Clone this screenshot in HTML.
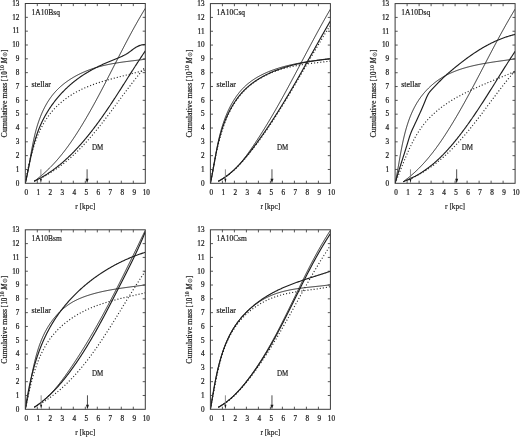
<!DOCTYPE html>
<html><head><meta charset="utf-8"><title>Cumulative mass profiles</title>
<style>
html,body{margin:0;padding:0;background:#fff;}
body{width:520px;height:437px;overflow:hidden;font-family:"Liberation Serif",serif;}
svg{display:block;will-change:transform;filter:blur(0.4px);}
</style></head><body>
<svg width="520" height="437" viewBox="0 0 520 437" font-family="'Liberation Serif', serif">
<clipPath id="c1"><rect x="25.30" y="3.50" width="120.00" height="179.80"/></clipPath>
<g clip-path="url(#c1)">
<path d="M25.30,183.30 L25.40,182.73 L25.51,182.15 L25.61,181.57 L25.71,180.99 L25.81,180.41 L25.92,179.83 L26.02,179.25 L26.13,178.66 L26.23,178.08 L26.34,177.49 L26.45,176.91 L26.56,176.32 L26.67,175.73 L26.78,175.14 L26.89,174.55 L27.01,173.96 L27.12,173.37 L27.24,172.77 L27.35,172.18 L27.47,171.59 L27.59,170.99 L27.71,170.39 L27.83,169.80 L27.95,169.20 L28.07,168.60 L28.20,168.01 L28.32,167.41 L28.45,166.81 L28.58,166.21 L28.71,165.61 L28.84,165.01 L28.97,164.41 L29.11,163.81 L29.24,163.21 L29.38,162.61 L29.52,162.01 L29.66,161.41 L29.80,160.81 L29.94,160.21 L30.09,159.61 L30.23,159.01 L30.38,158.41 L30.53,157.81 L30.68,157.21 L30.84,156.61 L30.99,156.01 L31.15,155.42 L31.31,154.82 L31.47,154.22 L31.63,153.62 L31.79,153.02 L31.96,152.43 L32.13,151.83 L32.30,151.24 L32.47,150.64 L32.64,150.05 L32.82,149.45 L33.00,148.86 L33.18,148.27 L33.36,147.68 L33.55,147.09 L33.73,146.50 L33.92,145.91 L34.11,145.32 L34.30,144.73 L34.50,144.15 L34.70,143.56 L34.90,142.98 L35.10,142.40 L35.31,141.82 L35.51,141.24 L35.72,140.66 L35.93,140.08 L36.15,139.50 L36.37,138.93 L36.58,138.35 L36.81,137.78 L37.03,137.21 L37.26,136.64 L37.49,136.08 L37.72,135.51 L37.96,134.94 L38.19,134.38 L38.43,133.82 L38.68,133.26 L38.92,132.70 L39.17,132.15 L39.42,131.59 L39.68,131.04 L39.93,130.49 L40.19,129.94 L40.46,129.40 L40.72,128.85 L40.99,128.31 L41.26,127.77 L41.54,127.23 L41.82,126.70 L42.10,126.16 L42.38,125.63 L42.67,125.10 L42.96,124.58 L43.25,124.05 L43.55,123.53 L43.85,123.01 L44.15,122.49 L44.46,121.98 L44.77,121.47 L45.08,120.96 L45.40,120.45 L45.72,119.95 L46.04,119.44 L46.37,118.94 L46.70,118.45 L47.03,117.96 L47.37,117.46 L47.71,116.98 L48.05,116.49 L48.40,116.01 L48.75,115.53 L49.10,115.06 L49.46,114.58 L49.82,114.11 L50.19,113.65 L50.56,113.18 L50.93,112.72 L51.31,112.27 L51.69,111.81 L52.07,111.36 L52.46,110.91 L52.85,110.47 L53.24,110.03 L53.64,109.59 L54.04,109.15 L54.45,108.72 L54.85,108.29 L55.26,107.86 L55.68,107.44 L56.10,107.02 L56.52,106.60 L56.94,106.19 L57.37,105.78 L57.80,105.37 L58.23,104.97 L58.67,104.56 L59.11,104.16 L59.55,103.77 L60.00,103.38 L60.44,102.99 L60.90,102.60 L61.35,102.22 L61.81,101.84 L62.27,101.46 L62.73,101.08 L63.20,100.71 L63.67,100.34 L64.14,99.98 L64.61,99.62 L65.09,99.26 L65.57,98.90 L66.05,98.55 L66.54,98.20 L67.03,97.85 L67.52,97.51 L68.01,97.16 L68.51,96.83 L69.01,96.49 L69.51,96.16 L70.01,95.83 L70.52,95.50 L71.03,95.18 L71.54,94.86 L72.05,94.54 L72.56,94.23 L73.08,93.92 L73.60,93.61 L74.12,93.30 L74.65,93.00 L75.18,92.70 L75.71,92.40 L76.24,92.11 L76.77,91.82 L77.31,91.53 L77.84,91.25 L78.38,90.97 L78.92,90.69 L79.47,90.41 L80.01,90.14 L80.56,89.87 L81.11,89.60 L81.66,89.34 L82.22,89.08 L82.77,88.82 L83.33,88.56 L83.89,88.31 L84.45,88.06 L85.01,87.81 L85.57,87.57 L86.14,87.33 L86.71,87.09 L87.28,86.85 L87.85,86.62 L88.42,86.38 L88.99,86.16 L89.57,85.93 L90.14,85.70 L90.72,85.48 L91.30,85.26 L91.88,85.05 L92.46,84.83 L93.04,84.62 L93.62,84.41 L94.21,84.20 L94.79,83.99 L95.38,83.79 L95.97,83.58 L96.56,83.38 L97.15,83.19 L97.74,82.99 L98.33,82.79 L98.92,82.60 L99.51,82.41 L100.11,82.22 L100.70,82.03 L101.30,81.85 L101.89,81.66 L102.49,81.48 L103.09,81.30 L103.69,81.12 L104.28,80.94 L104.88,80.76 L105.48,80.59 L106.08,80.42 L106.68,80.24 L107.28,80.07 L107.88,79.90 L108.48,79.73 L109.08,79.56 L109.69,79.40 L110.29,79.23 L110.89,79.07 L111.49,78.90 L112.09,78.74 L112.69,78.58 L113.30,78.42 L113.90,78.26 L114.50,78.10 L115.10,77.94 L115.70,77.79 L116.30,77.63 L116.90,77.47 L117.50,77.32 L118.10,77.16 L118.70,77.01 L119.30,76.86 L119.90,76.70 L120.50,76.55 L121.10,76.40 L121.70,76.25 L122.29,76.10 L122.89,75.95 L123.49,75.79 L124.08,75.64 L124.68,75.49 L125.27,75.34 L125.86,75.19 L126.45,75.04 L127.05,74.89 L127.64,74.74 L128.22,74.59 L128.81,74.44 L129.40,74.29 L129.99,74.14 L130.57,73.99 L131.16,73.84 L131.74,73.69 L132.32,73.54 L132.90,73.39 L133.48,73.24 L134.06,73.08 L134.64,72.93 L135.21,72.78 L135.79,72.62 L136.36,72.47 L136.93,72.31 L137.50,72.16 L138.07,72.00 L138.64,71.84 L139.20,71.69 L139.76,71.53 L140.33,71.37 L140.89,71.21 L141.44,71.05 L142.00,70.88 L142.56,70.72 L143.11,70.56 L143.66,70.39 L144.21,70.22 L144.75,70.06 L145.30,69.89" stroke="#2a2a2a" stroke-width="1.15" fill="none" stroke-dasharray="1.1 2.0"/>
<path d="M34.18,181.23 L34.69,181.01 L35.20,180.79 L35.70,180.57 L36.21,180.34 L36.71,180.11 L37.21,179.88 L37.71,179.65 L38.21,179.42 L38.70,179.18 L39.20,178.94 L39.69,178.70 L40.18,178.46 L40.67,178.22 L41.16,177.97 L41.65,177.73 L42.13,177.48 L42.62,177.23 L43.10,176.97 L43.58,176.72 L44.06,176.46 L44.53,176.20 L45.01,175.94 L45.49,175.68 L45.96,175.41 L46.43,175.15 L46.90,174.88 L47.37,174.61 L47.83,174.34 L48.30,174.06 L48.76,173.79 L49.23,173.51 L49.69,173.23 L50.15,172.95 L50.61,172.67 L51.06,172.38 L51.52,172.10 L51.97,171.81 L52.42,171.52 L52.88,171.23 L53.33,170.93 L53.77,170.64 L54.22,170.34 L54.67,170.05 L55.11,169.75 L55.55,169.44 L56.00,169.14 L56.44,168.84 L56.88,168.53 L57.31,168.22 L57.75,167.91 L58.19,167.60 L58.62,167.29 L59.05,166.98 L59.48,166.66 L59.91,166.34 L60.34,166.02 L60.77,165.70 L61.20,165.38 L61.62,165.06 L62.04,164.73 L62.47,164.41 L62.89,164.08 L63.31,163.75 L63.73,163.42 L64.15,163.09 L64.56,162.75 L64.98,162.42 L65.39,162.08 L65.80,161.74 L66.22,161.40 L66.63,161.06 L67.04,160.72 L67.45,160.38 L67.85,160.03 L68.26,159.69 L68.66,159.34 L69.07,158.99 L69.47,158.64 L69.87,158.29 L70.27,157.94 L70.67,157.58 L71.07,157.23 L71.47,156.87 L71.87,156.51 L72.26,156.15 L72.66,155.79 L73.05,155.43 L73.44,155.07 L73.83,154.70 L74.22,154.34 L74.61,153.97 L75.00,153.60 L75.39,153.24 L75.78,152.87 L76.16,152.49 L76.55,152.12 L76.93,151.75 L77.31,151.37 L77.69,151.00 L78.07,150.62 L78.45,150.24 L78.83,149.86 L79.21,149.48 L79.59,149.10 L79.96,148.72 L80.34,148.34 L80.71,147.95 L81.09,147.57 L81.46,147.18 L81.83,146.79 L82.20,146.41 L82.57,146.02 L82.94,145.63 L83.31,145.23 L83.68,144.84 L84.04,144.45 L84.41,144.06 L84.78,143.66 L85.14,143.26 L85.50,142.87 L85.87,142.47 L86.23,142.07 L86.59,141.67 L86.95,141.27 L87.31,140.87 L87.67,140.47 L88.03,140.07 L88.39,139.66 L88.74,139.26 L89.10,138.85 L89.45,138.45 L89.81,138.04 L90.16,137.63 L90.52,137.22 L90.87,136.81 L91.22,136.40 L91.57,135.99 L91.92,135.58 L92.28,135.17 L92.62,134.76 L92.97,134.34 L93.32,133.93 L93.67,133.51 L94.02,133.10 L94.36,132.68 L94.71,132.26 L95.05,131.85 L95.40,131.43 L95.74,131.01 L96.09,130.59 L96.43,130.17 L96.77,129.75 L97.12,129.33 L97.46,128.91 L97.80,128.48 L98.14,128.06 L98.48,127.64 L98.82,127.21 L99.16,126.79 L99.50,126.36 L99.83,125.94 L100.17,125.51 L100.51,125.09 L100.85,124.66 L101.18,124.23 L101.52,123.80 L101.85,123.37 L102.19,122.95 L102.52,122.52 L102.86,122.09 L103.19,121.66 L103.52,121.23 L103.86,120.80 L104.19,120.37 L104.52,119.93 L104.85,119.50 L105.18,119.07 L105.52,118.64 L105.85,118.20 L106.18,117.77 L106.51,117.34 L106.84,116.90 L107.17,116.47 L107.50,116.04 L107.83,115.60 L108.15,115.17 L108.48,114.73 L108.81,114.30 L109.14,113.86 L109.47,113.42 L109.79,112.99 L110.12,112.55 L110.45,112.12 L110.77,111.68 L111.10,111.24 L111.43,110.81 L111.75,110.37 L112.08,109.93 L112.40,109.49 L112.73,109.06 L113.05,108.62 L113.38,108.18 L113.70,107.75 L114.03,107.31 L114.35,106.87 L114.68,106.43 L115.00,105.99 L115.33,105.56 L115.65,105.12 L115.98,104.68 L116.30,104.24 L116.62,103.80 L116.95,103.37 L117.27,102.93 L117.59,102.49 L117.92,102.05 L118.24,101.62 L118.56,101.18 L118.89,100.74 L119.21,100.30 L119.53,99.86 L119.86,99.43 L120.18,98.99 L120.50,98.55 L120.83,98.12 L121.15,97.68 L121.47,97.24 L121.80,96.81 L122.12,96.37 L122.45,95.93 L122.77,95.50 L123.09,95.06 L123.42,94.63 L123.74,94.19 L124.06,93.76 L124.39,93.32 L124.71,92.89 L125.04,92.45 L125.36,92.02 L125.68,91.58 L126.01,91.15 L126.33,90.72 L126.66,90.28 L126.98,89.85 L127.31,89.42 L127.63,88.99 L127.96,88.56 L128.28,88.13 L128.61,87.69 L128.94,87.26 L129.26,86.83 L129.59,86.40 L129.91,85.98 L130.24,85.55 L130.57,85.12 L130.90,84.69 L131.22,84.26 L131.55,83.84 L131.88,83.41 L132.21,82.98 L132.54,82.56 L132.86,82.13 L133.19,81.71 L133.52,81.28 L133.85,80.86 L134.18,80.44 L134.51,80.01 L134.84,79.59 L135.17,79.17 L135.51,78.75 L135.84,78.33 L136.17,77.91 L136.50,77.49 L136.84,77.07 L137.17,76.66 L137.50,76.24 L137.84,75.82 L138.17,75.41 L138.50,74.99 L138.84,74.58 L139.18,74.16 L139.51,73.75 L139.85,73.34 L140.19,72.93 L140.52,72.52 L140.86,72.11 L141.20,71.70 L141.54,71.29 L141.88,70.88 L142.22,70.47 L142.56,70.07 L142.90,69.66 L143.24,69.26 L143.58,68.85 L143.92,68.45 L144.27,68.05 L144.61,67.65 L144.95,67.25 L145.30,66.85" stroke="#2a2a2a" stroke-width="1.15" fill="none" stroke-dasharray="1.1 2.0"/>
<path d="M25.30,183.30 L25.45,182.68 L25.60,182.06 L25.75,181.44 L25.90,180.82 L26.04,180.19 L26.19,179.57 L26.33,178.94 L26.47,178.31 L26.60,177.69 L26.74,177.06 L26.87,176.43 L27.01,175.80 L27.14,175.16 L27.27,174.53 L27.40,173.90 L27.52,173.26 L27.65,172.63 L27.77,171.99 L27.89,171.35 L28.02,170.71 L28.14,170.07 L28.26,169.43 L28.38,168.79 L28.49,168.15 L28.61,167.51 L28.73,166.87 L28.84,166.22 L28.96,165.58 L29.07,164.93 L29.19,164.29 L29.30,163.64 L29.41,163.00 L29.53,162.35 L29.64,161.70 L29.75,161.05 L29.86,160.41 L29.98,159.76 L30.09,159.11 L30.20,158.46 L30.31,157.81 L30.42,157.16 L30.54,156.51 L30.65,155.86 L30.76,155.21 L30.88,154.56 L30.99,153.91 L31.11,153.26 L31.22,152.61 L31.34,151.95 L31.45,151.30 L31.57,150.65 L31.69,150.00 L31.81,149.35 L31.93,148.70 L32.05,148.05 L32.17,147.40 L32.29,146.75 L32.42,146.10 L32.54,145.44 L32.67,144.79 L32.79,144.14 L32.92,143.49 L33.05,142.85 L33.19,142.20 L33.32,141.55 L33.46,140.90 L33.59,140.25 L33.73,139.60 L33.87,138.95 L34.02,138.31 L34.16,137.66 L34.31,137.02 L34.46,136.37 L34.61,135.73 L34.76,135.08 L34.92,134.44 L35.07,133.79 L35.23,133.15 L35.40,132.51 L35.56,131.87 L35.73,131.23 L35.90,130.59 L36.07,129.95 L36.25,129.31 L36.42,128.68 L36.61,128.04 L36.79,127.40 L36.98,126.77 L37.17,126.14 L37.36,125.50 L37.56,124.87 L37.75,124.24 L37.96,123.61 L38.16,122.98 L38.37,122.36 L38.58,121.73 L38.80,121.11 L39.02,120.49 L39.24,119.87 L39.46,119.25 L39.69,118.63 L39.92,118.01 L40.16,117.40 L40.39,116.79 L40.64,116.18 L40.88,115.57 L41.13,114.96 L41.38,114.36 L41.64,113.75 L41.90,113.15 L42.16,112.55 L42.43,111.96 L42.70,111.36 L42.97,110.77 L43.25,110.18 L43.53,109.60 L43.82,109.01 L44.11,108.43 L44.40,107.85 L44.70,107.28 L45.00,106.70 L45.31,106.13 L45.61,105.56 L45.93,105.00 L46.25,104.43 L46.57,103.87 L46.89,103.32 L47.22,102.76 L47.56,102.21 L47.89,101.67 L48.24,101.12 L48.58,100.58 L48.93,100.05 L49.29,99.51 L49.65,98.98 L50.01,98.45 L50.38,97.93 L50.75,97.41 L51.13,96.90 L51.51,96.38 L51.90,95.87 L52.29,95.37 L52.69,94.87 L53.09,94.37 L53.49,93.88 L53.90,93.39 L54.32,92.91 L54.74,92.42 L55.16,91.95 L55.59,91.48 L56.02,91.01 L56.46,90.54 L56.90,90.08 L57.35,89.63 L57.80,89.18 L58.26,88.73 L58.72,88.28 L59.18,87.85 L59.65,87.41 L60.12,86.98 L60.60,86.55 L61.08,86.13 L61.56,85.71 L62.05,85.29 L62.55,84.88 L63.04,84.47 L63.54,84.07 L64.05,83.67 L64.55,83.28 L65.07,82.88 L65.58,82.50 L66.10,82.11 L66.62,81.73 L67.15,81.36 L67.68,80.99 L68.21,80.62 L68.75,80.25 L69.29,79.89 L69.83,79.54 L70.38,79.18 L70.92,78.84 L71.48,78.49 L72.03,78.15 L72.59,77.81 L73.15,77.48 L73.72,77.15 L74.28,76.82 L74.85,76.50 L75.42,76.18 L76.00,75.87 L76.58,75.56 L77.16,75.25 L77.74,74.95 L78.33,74.65 L78.92,74.35 L79.51,74.06 L80.10,73.77 L80.69,73.49 L81.29,73.21 L81.89,72.93 L82.49,72.66 L83.10,72.39 L83.70,72.12 L84.31,71.86 L84.92,71.60 L85.53,71.34 L86.15,71.09 L86.76,70.84 L87.38,70.60 L88.00,70.36 L88.62,70.12 L89.25,69.89 L89.87,69.65 L90.50,69.43 L91.12,69.20 L91.75,68.99 L92.38,68.77 L93.01,68.56 L93.65,68.35 L94.28,68.14 L94.92,67.94 L95.55,67.74 L96.19,67.54 L96.83,67.35 L97.47,67.16 L98.11,66.98 L98.75,66.80 L99.39,66.62 L100.04,66.45 L100.68,66.27 L101.32,66.11 L101.97,65.94 L102.62,65.78 L103.26,65.62 L103.91,65.47 L104.56,65.31 L105.21,65.16 L105.86,65.02 L106.51,64.87 L107.16,64.73 L107.81,64.60 L108.46,64.46 L109.11,64.33 L109.76,64.20 L110.41,64.07 L111.06,63.95 L111.72,63.82 L112.37,63.70 L113.02,63.58 L113.68,63.47 L114.33,63.35 L114.98,63.24 L115.64,63.13 L116.29,63.03 L116.94,62.92 L117.60,62.82 L118.25,62.71 L118.90,62.61 L119.56,62.51 L120.21,62.42 L120.86,62.32 L121.52,62.23 L122.17,62.13 L122.82,62.04 L123.48,61.95 L124.13,61.86 L124.78,61.78 L125.43,61.69 L126.08,61.61 L126.73,61.52 L127.38,61.44 L128.03,61.35 L128.68,61.27 L129.33,61.19 L129.98,61.11 L130.63,61.03 L131.27,60.95 L131.92,60.87 L132.57,60.80 L133.21,60.72 L133.86,60.64 L134.50,60.56 L135.14,60.49 L135.78,60.41 L136.43,60.33 L137.07,60.26 L137.71,60.18 L138.34,60.10 L138.98,60.03 L139.62,59.95 L140.25,59.87 L140.89,59.80 L141.52,59.72 L142.15,59.64 L142.79,59.56 L143.42,59.48 L144.04,59.40 L144.67,59.32 L145.30,59.24" stroke="#161616" stroke-width="0.92" fill="none"/>
<path d="M34.18,181.23 L34.75,180.81 L35.32,180.39 L35.88,179.96 L36.44,179.54 L37.00,179.11 L37.56,178.68 L38.11,178.25 L38.66,177.81 L39.21,177.37 L39.75,176.93 L40.29,176.49 L40.83,176.04 L41.36,175.59 L41.89,175.14 L42.42,174.69 L42.95,174.23 L43.47,173.77 L43.99,173.31 L44.51,172.85 L45.03,172.38 L45.54,171.92 L46.05,171.45 L46.56,170.97 L47.06,170.50 L47.56,170.02 L48.06,169.54 L48.56,169.06 L49.05,168.58 L49.54,168.09 L50.03,167.61 L50.52,167.12 L51.00,166.62 L51.49,166.13 L51.96,165.64 L52.44,165.14 L52.92,164.64 L53.39,164.14 L53.86,163.63 L54.33,163.13 L54.79,162.62 L55.25,162.11 L55.71,161.60 L56.17,161.09 L56.63,160.57 L57.08,160.05 L57.53,159.54 L57.98,159.02 L58.43,158.49 L58.88,157.97 L59.32,157.44 L59.76,156.92 L60.20,156.39 L60.64,155.86 L61.07,155.32 L61.51,154.79 L61.94,154.26 L62.37,153.72 L62.79,153.18 L63.22,152.64 L63.64,152.10 L64.07,151.56 L64.49,151.01 L64.90,150.46 L65.32,149.92 L65.74,149.37 L66.15,148.82 L66.56,148.27 L66.97,147.71 L67.38,147.16 L67.78,146.60 L68.19,146.05 L68.59,145.49 L68.99,144.93 L69.39,144.37 L69.79,143.81 L70.19,143.24 L70.58,142.68 L70.98,142.11 L71.37,141.55 L71.76,140.98 L72.15,140.41 L72.54,139.84 L72.92,139.27 L73.31,138.70 L73.69,138.13 L74.07,137.55 L74.46,136.98 L74.84,136.40 L75.22,135.83 L75.59,135.25 L75.97,134.67 L76.34,134.09 L76.72,133.51 L77.09,132.93 L77.46,132.35 L77.83,131.76 L78.20,131.18 L78.57,130.60 L78.94,130.01 L79.31,129.43 L79.67,128.84 L80.04,128.25 L80.40,127.67 L80.76,127.08 L81.12,126.49 L81.49,125.90 L81.85,125.31 L82.20,124.72 L82.56,124.13 L82.92,123.54 L83.28,122.94 L83.63,122.35 L83.99,121.76 L84.34,121.16 L84.69,120.57 L85.05,119.97 L85.40,119.38 L85.75,118.78 L86.10,118.18 L86.45,117.59 L86.80,116.99 L87.14,116.39 L87.49,115.79 L87.84,115.19 L88.18,114.59 L88.52,113.99 L88.87,113.39 L89.21,112.79 L89.55,112.18 L89.90,111.58 L90.24,110.98 L90.58,110.38 L90.92,109.77 L91.26,109.17 L91.59,108.56 L91.93,107.96 L92.27,107.35 L92.60,106.75 L92.94,106.14 L93.28,105.53 L93.61,104.93 L93.94,104.32 L94.28,103.71 L94.61,103.10 L94.94,102.49 L95.28,101.88 L95.61,101.27 L95.94,100.66 L96.27,100.05 L96.60,99.44 L96.93,98.83 L97.25,98.22 L97.58,97.61 L97.91,97.00 L98.24,96.39 L98.57,95.77 L98.89,95.16 L99.22,94.55 L99.54,93.93 L99.87,93.32 L100.19,92.71 L100.52,92.09 L100.84,91.48 L101.16,90.86 L101.49,90.25 L101.81,89.63 L102.13,89.02 L102.46,88.40 L102.78,87.79 L103.10,87.17 L103.42,86.56 L103.74,85.94 L104.06,85.32 L104.38,84.71 L104.70,84.09 L105.02,83.47 L105.34,82.85 L105.66,82.24 L105.98,81.62 L106.30,81.00 L106.62,80.38 L106.94,79.77 L107.25,79.15 L107.57,78.53 L107.89,77.91 L108.21,77.29 L108.52,76.67 L108.84,76.06 L109.16,75.44 L109.48,74.82 L109.79,74.20 L110.11,73.58 L110.43,72.96 L110.74,72.34 L111.06,71.72 L111.38,71.10 L111.69,70.48 L112.01,69.87 L112.33,69.25 L112.64,68.63 L112.96,68.01 L113.27,67.39 L113.59,66.77 L113.91,66.15 L114.22,65.53 L114.54,64.91 L114.85,64.29 L115.17,63.67 L115.49,63.05 L115.80,62.44 L116.12,61.82 L116.44,61.20 L116.75,60.58 L117.07,59.96 L117.39,59.34 L117.70,58.72 L118.02,58.10 L118.34,57.49 L118.65,56.87 L118.97,56.25 L119.29,55.63 L119.61,55.01 L119.92,54.40 L120.24,53.78 L120.56,53.16 L120.88,52.54 L121.20,51.93 L121.52,51.31 L121.84,50.69 L122.16,50.08 L122.48,49.46 L122.79,48.84 L123.12,48.23 L123.44,47.61 L123.76,47.00 L124.08,46.38 L124.40,45.77 L124.72,45.15 L125.04,44.54 L125.36,43.92 L125.69,43.31 L126.01,42.69 L126.33,42.08 L126.66,41.47 L126.98,40.85 L127.31,40.24 L127.63,39.63 L127.96,39.02 L128.28,38.40 L128.61,37.79 L128.93,37.18 L129.26,36.57 L129.59,35.96 L129.92,35.35 L130.24,34.74 L130.57,34.13 L130.90,33.52 L131.23,32.91 L131.56,32.30 L131.89,31.70 L132.22,31.09 L132.56,30.48 L132.89,29.87 L133.22,29.27 L133.56,28.66 L133.89,28.05 L134.22,27.45 L134.56,26.84 L134.90,26.24 L135.23,25.64 L135.57,25.03 L135.91,24.43 L136.25,23.83 L136.59,23.22 L136.93,22.62 L137.27,22.02 L137.61,21.42 L137.95,20.82 L138.29,20.22 L138.63,19.62 L138.98,19.02 L139.32,18.43 L139.67,17.83 L140.01,17.23 L140.36,16.63 L140.71,16.04 L141.06,15.44 L141.41,14.85 L141.76,14.25 L142.11,13.66 L142.46,13.07 L142.81,12.47 L143.16,11.88 L143.52,11.29 L143.87,10.70 L144.23,10.11 L144.59,9.52 L144.94,8.93 L145.30,8.34" stroke="#161616" stroke-width="0.92" fill="none"/>
<path d="M25.30,183.30 L25.44,182.67 L25.59,182.03 L25.73,181.40 L25.87,180.76 L26.01,180.13 L26.15,179.49 L26.29,178.85 L26.42,178.21 L26.56,177.57 L26.70,176.93 L26.83,176.29 L26.97,175.65 L27.10,175.01 L27.23,174.37 L27.37,173.73 L27.50,173.08 L27.63,172.44 L27.76,171.79 L27.89,171.15 L28.03,170.51 L28.16,169.86 L28.29,169.21 L28.42,168.57 L28.55,167.92 L28.68,167.28 L28.81,166.63 L28.95,165.98 L29.08,165.33 L29.21,164.69 L29.34,164.04 L29.48,163.39 L29.61,162.75 L29.74,162.10 L29.88,161.45 L30.01,160.80 L30.15,160.16 L30.29,159.51 L30.42,158.86 L30.56,158.21 L30.70,157.57 L30.84,156.92 L30.98,156.27 L31.13,155.63 L31.27,154.98 L31.42,154.34 L31.56,153.69 L31.71,153.05 L31.86,152.40 L32.01,151.76 L32.16,151.11 L32.31,150.47 L32.47,149.83 L32.63,149.18 L32.78,148.54 L32.95,147.90 L33.11,147.26 L33.27,146.62 L33.44,145.98 L33.61,145.34 L33.78,144.71 L33.95,144.07 L34.12,143.43 L34.30,142.80 L34.48,142.16 L34.66,141.53 L34.84,140.90 L35.03,140.26 L35.22,139.63 L35.41,139.00 L35.60,138.37 L35.80,137.74 L36.00,137.12 L36.20,136.49 L36.40,135.87 L36.61,135.24 L36.82,134.62 L37.04,134.00 L37.25,133.38 L37.47,132.76 L37.70,132.14 L37.92,131.52 L38.15,130.91 L38.38,130.29 L38.62,129.68 L38.86,129.07 L39.10,128.46 L39.35,127.85 L39.60,127.25 L39.85,126.64 L40.11,126.04 L40.37,125.44 L40.64,124.83 L40.91,124.24 L41.18,123.64 L41.45,123.04 L41.73,122.45 L42.01,121.86 L42.30,121.26 L42.59,120.68 L42.88,120.09 L43.18,119.50 L43.48,118.92 L43.78,118.33 L44.09,117.75 L44.40,117.17 L44.71,116.60 L45.03,116.02 L45.35,115.45 L45.67,114.88 L46.00,114.31 L46.33,113.74 L46.66,113.17 L47.00,112.61 L47.34,112.04 L47.68,111.48 L48.02,110.93 L48.37,110.37 L48.73,109.81 L49.08,109.26 L49.44,108.71 L49.80,108.16 L50.17,107.62 L50.53,107.07 L50.91,106.53 L51.28,105.99 L51.66,105.45 L52.04,104.91 L52.42,104.38 L52.81,103.85 L53.20,103.32 L53.59,102.79 L53.99,102.26 L54.38,101.74 L54.79,101.22 L55.19,100.70 L55.60,100.18 L56.01,99.67 L56.42,99.16 L56.84,98.65 L57.26,98.14 L57.68,97.64 L58.10,97.13 L58.53,96.63 L58.96,96.13 L59.39,95.64 L59.83,95.15 L60.27,94.66 L60.71,94.17 L61.15,93.68 L61.60,93.20 L62.05,92.72 L62.50,92.24 L62.96,91.76 L63.41,91.29 L63.87,90.82 L64.34,90.35 L64.80,89.89 L65.27,89.42 L65.74,88.96 L66.22,88.51 L66.69,88.05 L67.17,87.60 L67.65,87.15 L68.14,86.70 L68.62,86.26 L69.11,85.82 L69.60,85.38 L70.10,84.94 L70.59,84.51 L71.09,84.08 L71.59,83.65 L72.09,83.23 L72.60,82.81 L73.11,82.39 L73.62,81.97 L74.13,81.56 L74.65,81.15 L75.17,80.74 L75.69,80.34 L76.21,79.94 L76.73,79.54 L77.26,79.15 L77.79,78.75 L78.32,78.36 L78.85,77.98 L79.39,77.60 L79.93,77.22 L80.47,76.84 L81.01,76.47 L81.56,76.10 L82.10,75.73 L82.65,75.36 L83.20,75.00 L83.75,74.64 L84.31,74.29 L84.87,73.94 L85.43,73.59 L85.99,73.24 L86.55,72.90 L87.11,72.56 L87.68,72.22 L88.25,71.89 L88.82,71.56 L89.39,71.23 L89.96,70.90 L90.54,70.58 L91.11,70.26 L91.69,69.94 L92.27,69.62 L92.85,69.31 L93.44,69.00 L94.02,68.69 L94.60,68.39 L95.19,68.08 L95.78,67.78 L96.37,67.48 L96.96,67.19 L97.55,66.89 L98.14,66.60 L98.73,66.31 L99.33,66.03 L99.93,65.74 L100.52,65.46 L101.12,65.18 L101.72,64.90 L102.32,64.62 L102.92,64.35 L103.52,64.07 L104.12,63.80 L104.72,63.53 L105.33,63.27 L105.93,63.00 L106.53,62.74 L107.14,62.48 L107.74,62.22 L108.35,61.96 L108.96,61.70 L109.56,61.45 L110.17,61.19 L110.78,60.94 L111.39,60.69 L111.99,60.44 L112.60,60.19 L113.21,59.94 L113.82,59.69 L114.43,59.44 L115.04,59.20 L115.64,58.95 L116.25,58.70 L116.86,58.45 L117.46,58.20 L118.07,57.95 L118.68,57.70 L119.28,57.45 L119.89,57.20 L120.49,56.94 L121.09,56.68 L121.69,56.42 L122.28,56.15 L122.87,55.87 L123.46,55.59 L124.05,55.31 L124.63,55.01 L125.20,54.71 L125.77,54.40 L126.34,54.07 L126.89,53.74 L127.44,53.40 L127.99,53.04 L128.53,52.67 L129.06,52.29 L129.58,51.91 L130.11,51.52 L130.63,51.13 L131.15,50.73 L131.67,50.33 L132.19,49.94 L132.71,49.54 L133.23,49.15 L133.76,48.77 L134.29,48.40 L134.83,48.03 L135.37,47.67 L135.92,47.33 L136.48,47.00 L137.05,46.69 L137.63,46.40 L138.22,46.12 L138.81,45.87 L139.42,45.63 L140.04,45.41 L140.66,45.21 L141.30,45.04 L141.94,44.88 L142.60,44.75 L143.26,44.63 L143.93,44.55 L144.61,44.48 L145.30,44.44" stroke="#1e1e1e" stroke-width="1.15" fill="none"/>
<path d="M34.18,181.22 L34.71,180.97 L35.24,180.71 L35.77,180.45 L36.30,180.19 L36.82,179.92 L37.35,179.65 L37.87,179.38 L38.39,179.11 L38.91,178.83 L39.42,178.56 L39.94,178.28 L40.45,177.99 L40.96,177.71 L41.47,177.42 L41.97,177.13 L42.48,176.84 L42.98,176.55 L43.48,176.25 L43.98,175.95 L44.48,175.65 L44.98,175.35 L45.47,175.04 L45.97,174.74 L46.46,174.43 L46.95,174.12 L47.43,173.80 L47.92,173.49 L48.40,173.17 L48.89,172.85 L49.37,172.53 L49.85,172.20 L50.32,171.88 L50.80,171.55 L51.27,171.22 L51.75,170.89 L52.22,170.55 L52.69,170.21 L53.16,169.88 L53.62,169.54 L54.09,169.19 L54.55,168.85 L55.01,168.51 L55.47,168.16 L55.93,167.81 L56.39,167.46 L56.84,167.10 L57.30,166.75 L57.75,166.39 L58.20,166.03 L58.65,165.67 L59.10,165.31 L59.55,164.95 L59.99,164.58 L60.44,164.21 L60.88,163.84 L61.32,163.47 L61.76,163.10 L62.20,162.73 L62.63,162.35 L63.07,161.98 L63.50,161.60 L63.93,161.22 L64.37,160.83 L64.80,160.45 L65.22,160.07 L65.65,159.68 L66.08,159.29 L66.50,158.90 L66.93,158.51 L67.35,158.12 L67.77,157.72 L68.19,157.33 L68.60,156.93 L69.02,156.53 L69.44,156.13 L69.85,155.73 L70.26,155.33 L70.68,154.93 L71.09,154.52 L71.50,154.12 L71.90,153.71 L72.31,153.30 L72.72,152.89 L73.12,152.48 L73.53,152.07 L73.93,151.65 L74.33,151.24 L74.73,150.82 L75.13,150.41 L75.53,149.99 L75.92,149.57 L76.32,149.15 L76.71,148.73 L77.11,148.30 L77.50,147.88 L77.89,147.45 L78.28,147.03 L78.67,146.60 L79.06,146.17 L79.44,145.74 L79.83,145.31 L80.22,144.88 L80.60,144.45 L80.98,144.02 L81.36,143.58 L81.75,143.15 L82.13,142.71 L82.50,142.28 L82.88,141.84 L83.26,141.40 L83.64,140.96 L84.01,140.52 L84.39,140.08 L84.76,139.64 L85.13,139.20 L85.50,138.75 L85.87,138.31 L86.24,137.86 L86.61,137.42 L86.98,136.97 L87.35,136.52 L87.71,136.07 L88.08,135.62 L88.44,135.17 L88.81,134.72 L89.17,134.27 L89.53,133.81 L89.89,133.36 L90.25,132.91 L90.61,132.45 L90.97,132.00 L91.33,131.54 L91.69,131.08 L92.04,130.62 L92.40,130.16 L92.75,129.71 L93.11,129.25 L93.46,128.78 L93.81,128.32 L94.16,127.86 L94.51,127.40 L94.86,126.93 L95.21,126.47 L95.56,126.00 L95.91,125.54 L96.26,125.07 L96.60,124.61 L96.95,124.14 L97.30,123.67 L97.64,123.20 L97.98,122.73 L98.33,122.26 L98.67,121.79 L99.01,121.32 L99.35,120.85 L99.69,120.38 L100.03,119.90 L100.37,119.43 L100.71,118.96 L101.05,118.48 L101.39,118.01 L101.72,117.53 L102.06,117.06 L102.40,116.58 L102.73,116.10 L103.07,115.63 L103.40,115.15 L103.73,114.67 L104.07,114.19 L104.40,113.71 L104.73,113.23 L105.06,112.75 L105.39,112.27 L105.72,111.79 L106.05,111.31 L106.38,110.83 L106.71,110.35 L107.04,109.86 L107.37,109.38 L107.69,108.90 L108.02,108.41 L108.35,107.93 L108.67,107.44 L109.00,106.96 L109.32,106.48 L109.65,105.99 L109.97,105.50 L110.30,105.02 L110.62,104.53 L110.94,104.05 L111.27,103.56 L111.59,103.07 L111.91,102.58 L112.23,102.10 L112.55,101.61 L112.87,101.12 L113.19,100.63 L113.52,100.14 L113.83,99.65 L114.15,99.16 L114.47,98.68 L114.79,98.19 L115.11,97.70 L115.43,97.21 L115.75,96.72 L116.06,96.23 L116.38,95.74 L116.70,95.24 L117.02,94.75 L117.33,94.26 L117.65,93.77 L117.96,93.28 L118.28,92.79 L118.60,92.30 L118.91,91.81 L119.23,91.31 L119.54,90.82 L119.86,90.33 L120.17,89.84 L120.48,89.35 L120.80,88.86 L121.11,88.36 L121.43,87.87 L121.74,87.38 L122.05,86.89 L122.37,86.40 L122.68,85.90 L122.99,85.41 L123.30,84.92 L123.62,84.43 L123.93,83.93 L124.24,83.44 L124.56,82.95 L124.87,82.46 L125.18,81.97 L125.49,81.47 L125.80,80.98 L126.12,80.49 L126.43,80.00 L126.74,79.51 L127.05,79.02 L127.36,78.53 L127.68,78.03 L127.99,77.54 L128.30,77.05 L128.61,76.56 L128.92,76.07 L129.23,75.58 L129.55,75.09 L129.86,74.60 L130.17,74.11 L130.48,73.62 L130.79,73.13 L131.10,72.64 L131.42,72.15 L131.73,71.66 L132.04,71.17 L132.35,70.68 L132.67,70.20 L132.98,69.71 L133.29,69.22 L133.60,68.73 L133.92,68.24 L134.23,67.76 L134.54,67.27 L134.85,66.78 L135.17,66.30 L135.48,65.81 L135.79,65.33 L136.11,64.84 L136.42,64.36 L136.73,63.87 L137.05,63.39 L137.36,62.90 L137.68,62.42 L137.99,61.94 L138.31,61.45 L138.62,60.97 L138.94,60.49 L139.25,60.01 L139.57,59.53 L139.89,59.05 L140.20,58.56 L140.52,58.08 L140.83,57.61 L141.15,57.13 L141.47,56.65 L141.79,56.17 L142.10,55.69 L142.42,55.21 L142.74,54.74 L143.06,54.26 L143.38,53.79 L143.70,53.31 L144.02,52.84 L144.34,52.36 L144.66,51.89 L144.98,51.41 L145.30,50.94" stroke="#1e1e1e" stroke-width="1.15" fill="none"/>
</g>
<line x1="40.90" y1="169.30" x2="40.90" y2="180.30" stroke="#808080" stroke-width="0.9"/>
<path d="M39.90,178.70 L41.90,178.70 L40.90,183.30 Z" fill="#1a1a1a"/>
<line x1="87.10" y1="169.30" x2="87.10" y2="180.30" stroke="#3c3c3c" stroke-width="0.9"/>
<path d="M85.60,178.70 L88.60,178.70 L87.10,183.30 Z" fill="#1a1a1a"/>
<rect x="25.30" y="3.50" width="120.00" height="179.80" fill="none" stroke="#3a3a3a" stroke-width="1.0"/>
<path d="M25.30,169.47h2.6M145.30,169.47h-2.6M25.30,155.64h2.6M145.30,155.64h-2.6M25.30,141.81h2.6M145.30,141.81h-2.6M25.30,127.98h2.6M145.30,127.98h-2.6M25.30,114.15h2.6M145.30,114.15h-2.6M25.30,100.32h2.6M145.30,100.32h-2.6M25.30,86.48h2.6M145.30,86.48h-2.6M25.30,72.65h2.6M145.30,72.65h-2.6M25.30,58.82h2.6M145.30,58.82h-2.6M25.30,44.99h2.6M145.30,44.99h-2.6M25.30,31.16h2.6M145.30,31.16h-2.6M25.30,17.33h2.6M145.30,17.33h-2.6M37.30,183.30v-2.6M37.30,3.50v2.6M49.30,183.30v-2.6M49.30,3.50v2.6M61.30,183.30v-2.6M61.30,3.50v2.6M73.30,183.30v-2.6M73.30,3.50v2.6M85.30,183.30v-2.6M85.30,3.50v2.6M97.30,183.30v-2.6M97.30,3.50v2.6M109.30,183.30v-2.6M109.30,3.50v2.6M121.30,183.30v-2.6M121.30,3.50v2.6M133.30,183.30v-2.6M133.30,3.50v2.6" stroke="#3a3a3a" stroke-width="0.85" fill="none"/>
<g font-size="7.2" fill="#1a1a1a" stroke="#1a1a1a" stroke-width="0.22"><text x="19.40" y="185.60" text-anchor="end">0</text><text x="19.40" y="171.77" text-anchor="end">1</text><text x="19.40" y="157.94" text-anchor="end">2</text><text x="19.40" y="144.11" text-anchor="end">3</text><text x="19.40" y="130.28" text-anchor="end">4</text><text x="19.40" y="116.45" text-anchor="end">5</text><text x="19.40" y="102.62" text-anchor="end">6</text><text x="19.40" y="88.78" text-anchor="end">7</text><text x="19.40" y="74.95" text-anchor="end">8</text><text x="19.40" y="61.12" text-anchor="end">9</text><text x="19.40" y="47.29" text-anchor="end">10</text><text x="19.40" y="33.46" text-anchor="end">11</text><text x="19.40" y="19.63" text-anchor="end">12</text><text x="19.40" y="5.80" text-anchor="end">13</text><text x="26.30" y="195.00" text-anchor="middle">0</text><text x="38.30" y="195.00" text-anchor="middle">1</text><text x="50.30" y="195.00" text-anchor="middle">2</text><text x="62.30" y="195.00" text-anchor="middle">3</text><text x="74.30" y="195.00" text-anchor="middle">4</text><text x="86.30" y="195.00" text-anchor="middle">5</text><text x="98.30" y="195.00" text-anchor="middle">6</text><text x="110.30" y="195.00" text-anchor="middle">7</text><text x="122.30" y="195.00" text-anchor="middle">8</text><text x="134.30" y="195.00" text-anchor="middle">9</text><text x="146.30" y="195.00" text-anchor="middle">10</text></g>
<text x="75.30" y="209.30" font-size="7.5" textLength="19.8" lengthAdjust="spacingAndGlyphs" fill="#1a1a1a" stroke="#1a1a1a" stroke-width="0.18">r [kpc]</text>
<text transform="translate(6.50,137.40) rotate(-90)" font-size="7.20" textLength="54.8" lengthAdjust="spacingAndGlyphs" fill="#1a1a1a" stroke="#1a1a1a" stroke-width="0.18">Cumulative mass</text>
<text transform="translate(6.50,81.20) rotate(-90)" font-size="7.20"  fill="#1a1a1a" stroke="#1a1a1a" stroke-width="0.18">[</text>
<text transform="translate(6.50,78.30) rotate(-90)" font-size="7.20" textLength="6.9" lengthAdjust="spacingAndGlyphs" fill="#1a1a1a" stroke="#1a1a1a" stroke-width="0.18">10</text>
<text transform="translate(4.00,70.80) rotate(-90)" font-size="5.40" textLength="5.6" lengthAdjust="spacingAndGlyphs" fill="#1a1a1a" stroke="#1a1a1a" stroke-width="0.18">10</text>
<text transform="translate(6.50,63.50) rotate(-90)" font-size="7.20" font-style="italic" textLength="6.0" lengthAdjust="spacingAndGlyphs" fill="#1a1a1a" stroke="#1a1a1a" stroke-width="0.18">M</text>
<circle cx="5.00" cy="54.40" r="1.75" fill="none" stroke="#2a2a2a" stroke-width="0.6"/><circle cx="5.00" cy="54.40" r="0.55" fill="#222"/>
<text transform="translate(6.50,51.90) rotate(-90)" font-size="7.20"  fill="#1a1a1a" stroke="#1a1a1a" stroke-width="0.18">]</text>
<text x="31.50" y="14.60" font-size="7.3" textLength="28.5" lengthAdjust="spacingAndGlyphs" fill="#1a1a1a" stroke="#1a1a1a" stroke-width="0.18">1A10Bsq</text>
<text x="31.50" y="86.50" font-size="7.3" textLength="19.3" lengthAdjust="spacingAndGlyphs" fill="#1a1a1a" stroke="#1a1a1a" stroke-width="0.18">stellar</text>
<text x="91.90" y="149.60" font-size="7.2" textLength="11.3" lengthAdjust="spacingAndGlyphs" fill="#1a1a1a" stroke="#1a1a1a" stroke-width="0.18">DM</text>
<clipPath id="c2"><rect x="210.40" y="3.60" width="120.00" height="179.70"/></clipPath>
<g clip-path="url(#c2)">
<path d="M210.40,183.30 L210.52,182.70 L210.63,182.10 L210.74,181.50 L210.86,180.90 L210.97,180.29 L211.09,179.69 L211.20,179.08 L211.31,178.47 L211.43,177.86 L211.54,177.25 L211.65,176.63 L211.77,176.02 L211.88,175.40 L212.00,174.78 L212.11,174.16 L212.23,173.54 L212.34,172.92 L212.46,172.29 L212.57,171.67 L212.69,171.04 L212.81,170.41 L212.92,169.78 L213.04,169.15 L213.16,168.52 L213.28,167.89 L213.40,167.26 L213.52,166.62 L213.64,165.99 L213.76,165.35 L213.88,164.72 L214.00,164.08 L214.12,163.44 L214.25,162.80 L214.37,162.16 L214.50,161.52 L214.62,160.88 L214.75,160.24 L214.88,159.59 L215.01,158.95 L215.14,158.31 L215.27,157.66 L215.40,157.02 L215.54,156.37 L215.67,155.73 L215.81,155.08 L215.94,154.44 L216.08,153.79 L216.22,153.15 L216.36,152.50 L216.50,151.85 L216.64,151.21 L216.79,150.56 L216.93,149.91 L217.08,149.27 L217.23,148.62 L217.38,147.98 L217.53,147.33 L217.68,146.68 L217.83,146.04 L217.99,145.39 L218.15,144.75 L218.31,144.10 L218.47,143.46 L218.63,142.81 L218.79,142.17 L218.96,141.53 L219.13,140.88 L219.30,140.24 L219.47,139.60 L219.64,138.96 L219.81,138.32 L219.99,137.68 L220.17,137.04 L220.35,136.40 L220.53,135.77 L220.72,135.13 L220.90,134.49 L221.09,133.86 L221.28,133.23 L221.48,132.59 L221.67,131.96 L221.87,131.33 L222.07,130.70 L222.27,130.07 L222.48,129.45 L222.68,128.82 L222.89,128.20 L223.10,127.57 L223.32,126.95 L223.53,126.33 L223.75,125.71 L223.97,125.09 L224.20,124.48 L224.42,123.86 L224.65,123.25 L224.88,122.64 L225.12,122.03 L225.35,121.42 L225.59,120.81 L225.84,120.21 L226.08,119.61 L226.33,119.01 L226.58,118.41 L226.83,117.81 L227.09,117.21 L227.35,116.62 L227.61,116.03 L227.88,115.44 L228.14,114.85 L228.42,114.27 L228.69,113.68 L228.97,113.10 L229.25,112.52 L229.53,111.95 L229.82,111.37 L230.11,110.80 L230.40,110.23 L230.70,109.66 L231.00,109.10 L231.30,108.54 L231.61,107.98 L231.92,107.42 L232.23,106.86 L232.55,106.31 L232.87,105.76 L233.19,105.22 L233.52,104.67 L233.85,104.13 L234.19,103.59 L234.52,103.06 L234.87,102.53 L235.21,102.00 L235.56,101.47 L235.91,100.95 L236.27,100.43 L236.63,99.91 L236.99,99.39 L237.36,98.88 L237.73,98.37 L238.11,97.87 L238.49,97.37 L238.87,96.87 L239.26,96.38 L239.65,95.88 L240.05,95.40 L240.45,94.91 L240.85,94.43 L241.26,93.95 L241.67,93.48 L242.09,93.01 L242.51,92.54 L242.94,92.08 L243.37,91.62 L243.80,91.16 L244.24,90.71 L244.68,90.26 L245.13,89.82 L245.58,89.38 L246.03,88.94 L246.49,88.51 L246.96,88.08 L247.43,87.66 L247.90,87.23 L248.37,86.82 L248.85,86.40 L249.34,85.99 L249.83,85.59 L250.32,85.19 L250.81,84.79 L251.31,84.39 L251.82,84.00 L252.32,83.62 L252.83,83.24 L253.35,82.86 L253.87,82.48 L254.39,82.11 L254.91,81.74 L255.44,81.38 L255.97,81.02 L256.50,80.67 L257.04,80.32 L257.58,79.97 L258.12,79.63 L258.67,79.29 L259.22,78.95 L259.77,78.62 L260.33,78.29 L260.89,77.97 L261.45,77.65 L262.01,77.33 L262.58,77.02 L263.15,76.71 L263.72,76.41 L264.29,76.11 L264.87,75.81 L265.45,75.52 L266.03,75.23 L266.62,74.94 L267.20,74.66 L267.79,74.39 L268.38,74.11 L268.98,73.85 L269.57,73.58 L270.17,73.32 L270.77,73.06 L271.37,72.81 L271.97,72.56 L272.58,72.32 L273.19,72.07 L273.79,71.84 L274.40,71.60 L275.02,71.38 L275.63,71.15 L276.25,70.93 L276.86,70.71 L277.48,70.50 L278.10,70.29 L278.72,70.08 L279.35,69.88 L279.97,69.68 L280.60,69.49 L281.22,69.30 L281.85,69.11 L282.48,68.93 L283.11,68.75 L283.74,68.57 L284.38,68.40 L285.01,68.22 L285.64,68.06 L286.28,67.89 L286.92,67.73 L287.55,67.57 L288.19,67.42 L288.83,67.27 L289.47,67.12 L290.11,66.97 L290.75,66.83 L291.40,66.68 L292.04,66.55 L292.68,66.41 L293.33,66.28 L293.97,66.15 L294.62,66.02 L295.26,65.89 L295.91,65.77 L296.56,65.65 L297.20,65.53 L297.85,65.41 L298.50,65.30 L299.14,65.18 L299.79,65.07 L300.44,64.96 L301.09,64.86 L301.74,64.75 L302.39,64.65 L303.03,64.55 L303.68,64.45 L304.33,64.35 L304.98,64.26 L305.63,64.16 L306.27,64.07 L306.92,63.98 L307.57,63.89 L308.22,63.80 L308.86,63.71 L309.51,63.62 L310.16,63.54 L310.80,63.45 L311.45,63.37 L312.09,63.29 L312.74,63.21 L313.38,63.12 L314.02,63.05 L314.66,62.97 L315.31,62.89 L315.95,62.81 L316.59,62.73 L317.23,62.66 L317.86,62.58 L318.50,62.51 L319.14,62.43 L319.77,62.36 L320.41,62.29 L321.04,62.21 L321.67,62.14 L322.31,62.07 L322.94,61.99 L323.57,61.92 L324.19,61.85 L324.82,61.77 L325.45,61.70 L326.07,61.63 L326.69,61.55 L327.31,61.48 L327.93,61.41 L328.55,61.33 L329.17,61.26 L329.78,61.18 L330.40,61.10" stroke="#2a2a2a" stroke-width="1.15" fill="none" stroke-dasharray="1.1 2.0"/>
<path d="M218.33,181.24 L218.90,180.93 L219.48,180.61 L220.05,180.30 L220.61,179.97 L221.17,179.64 L221.73,179.31 L222.28,178.97 L222.83,178.63 L223.38,178.29 L223.92,177.93 L224.46,177.58 L225.00,177.22 L225.53,176.85 L226.06,176.49 L226.58,176.11 L227.10,175.74 L227.62,175.35 L228.13,174.97 L228.64,174.58 L229.15,174.19 L229.66,173.79 L230.16,173.39 L230.66,172.99 L231.15,172.58 L231.65,172.17 L232.13,171.75 L232.62,171.33 L233.10,170.91 L233.58,170.48 L234.06,170.06 L234.54,169.62 L235.01,169.19 L235.48,168.75 L235.95,168.31 L236.41,167.86 L236.87,167.42 L237.33,166.97 L237.79,166.51 L238.24,166.06 L238.70,165.60 L239.15,165.14 L239.59,164.68 L240.04,164.21 L240.48,163.74 L240.92,163.27 L241.36,162.80 L241.80,162.32 L242.23,161.85 L242.66,161.37 L243.10,160.88 L243.52,160.40 L243.95,159.91 L244.38,159.43 L244.80,158.94 L245.22,158.45 L245.64,157.95 L246.06,157.46 L246.48,156.96 L246.89,156.46 L247.31,155.97 L247.72,155.46 L248.13,154.96 L248.54,154.46 L248.95,153.96 L249.35,153.45 L249.76,152.94 L250.16,152.44 L250.57,151.93 L250.97,151.42 L251.37,150.91 L251.77,150.40 L252.17,149.88 L252.57,149.37 L252.96,148.86 L253.36,148.34 L253.76,147.83 L254.15,147.31 L254.54,146.80 L254.94,146.28 L255.33,145.76 L255.72,145.24 L256.11,144.73 L256.50,144.21 L256.89,143.69 L257.27,143.17 L257.66,142.64 L258.05,142.12 L258.43,141.60 L258.81,141.08 L259.20,140.55 L259.58,140.03 L259.96,139.50 L260.34,138.98 L260.72,138.45 L261.10,137.92 L261.48,137.40 L261.86,136.87 L262.23,136.34 L262.61,135.81 L262.98,135.28 L263.36,134.75 L263.73,134.22 L264.10,133.69 L264.47,133.15 L264.85,132.62 L265.22,132.09 L265.59,131.55 L265.95,131.02 L266.32,130.48 L266.69,129.95 L267.06,129.41 L267.42,128.88 L267.79,128.34 L268.15,127.80 L268.52,127.26 L268.88,126.73 L269.24,126.19 L269.60,125.65 L269.97,125.11 L270.33,124.57 L270.69,124.03 L271.04,123.49 L271.40,122.94 L271.76,122.40 L272.12,121.86 L272.48,121.32 L272.83,120.77 L273.19,120.23 L273.54,119.68 L273.90,119.14 L274.25,118.59 L274.60,118.05 L274.96,117.50 L275.31,116.96 L275.66,116.41 L276.01,115.86 L276.36,115.31 L276.71,114.77 L277.06,114.22 L277.41,113.67 L277.76,113.12 L278.10,112.57 L278.45,112.02 L278.80,111.47 L279.14,110.92 L279.49,110.37 L279.84,109.82 L280.18,109.27 L280.52,108.71 L280.87,108.16 L281.21,107.61 L281.55,107.06 L281.90,106.50 L282.24,105.95 L282.58,105.40 L282.92,104.84 L283.26,104.29 L283.60,103.73 L283.94,103.18 L284.28,102.62 L284.62,102.07 L284.96,101.51 L285.30,100.95 L285.64,100.40 L285.97,99.84 L286.31,99.28 L286.65,98.73 L286.98,98.17 L287.32,97.61 L287.65,97.05 L287.99,96.50 L288.33,95.94 L288.66,95.38 L288.99,94.82 L289.33,94.26 L289.66,93.70 L290.00,93.14 L290.33,92.59 L290.66,92.03 L290.99,91.47 L291.33,90.91 L291.66,90.35 L291.99,89.79 L292.32,89.23 L292.65,88.66 L292.98,88.10 L293.32,87.54 L293.65,86.98 L293.98,86.42 L294.31,85.86 L294.64,85.30 L294.97,84.74 L295.30,84.18 L295.63,83.61 L295.96,83.05 L296.28,82.49 L296.61,81.93 L296.94,81.37 L297.27,80.80 L297.60,80.24 L297.93,79.68 L298.25,79.12 L298.58,78.55 L298.91,77.99 L299.24,77.43 L299.57,76.87 L299.89,76.30 L300.22,75.74 L300.55,75.18 L300.88,74.62 L301.20,74.05 L301.53,73.49 L301.86,72.93 L302.18,72.37 L302.51,71.80 L302.84,71.24 L303.16,70.68 L303.49,70.11 L303.82,69.55 L304.14,68.99 L304.47,68.43 L304.80,67.86 L305.12,67.30 L305.45,66.74 L305.78,66.18 L306.10,65.61 L306.43,65.05 L306.76,64.49 L307.08,63.93 L307.41,63.36 L307.74,62.80 L308.06,62.24 L308.39,61.68 L308.72,61.12 L309.04,60.55 L309.37,59.99 L309.70,59.43 L310.03,58.87 L310.35,58.31 L310.68,57.75 L311.01,57.19 L311.34,56.62 L311.66,56.06 L311.99,55.50 L312.32,54.94 L312.65,54.38 L312.98,53.82 L313.30,53.26 L313.63,52.70 L313.96,52.14 L314.29,51.58 L314.62,51.02 L314.95,50.46 L315.28,49.90 L315.61,49.35 L315.94,48.79 L316.27,48.23 L316.60,47.67 L316.93,47.11 L317.26,46.55 L317.59,46.00 L317.92,45.44 L318.25,44.88 L318.59,44.33 L318.92,43.77 L319.25,43.21 L319.58,42.66 L319.91,42.10 L320.25,41.55 L320.58,40.99 L320.91,40.44 L321.25,39.88 L321.58,39.33 L321.92,38.77 L322.25,38.22 L322.59,37.66 L322.92,37.11 L323.26,36.56 L323.59,36.01 L323.93,35.45 L324.27,34.90 L324.61,34.35 L324.94,33.80 L325.28,33.25 L325.62,32.70 L325.96,32.15 L326.30,31.60 L326.64,31.05 L326.98,30.50 L327.32,29.95 L327.66,29.40 L328.00,28.85 L328.34,28.30 L328.68,27.76 L329.03,27.21 L329.37,26.66 L329.71,26.12 L330.06,25.57 L330.40,25.03" stroke="#2a2a2a" stroke-width="1.15" fill="none" stroke-dasharray="1.1 2.0"/>
<path d="M210.40,183.30 L210.54,182.66 L210.68,182.02 L210.81,181.38 L210.95,180.74 L211.08,180.09 L211.21,179.45 L211.34,178.81 L211.47,178.17 L211.59,177.53 L211.72,176.89 L211.84,176.24 L211.97,175.60 L212.09,174.96 L212.21,174.32 L212.33,173.68 L212.45,173.03 L212.57,172.39 L212.69,171.75 L212.81,171.11 L212.92,170.46 L213.04,169.82 L213.15,169.18 L213.27,168.53 L213.38,167.89 L213.49,167.25 L213.61,166.61 L213.72,165.96 L213.83,165.32 L213.95,164.68 L214.06,164.03 L214.17,163.39 L214.28,162.75 L214.39,162.11 L214.51,161.46 L214.62,160.82 L214.73,160.18 L214.84,159.53 L214.96,158.89 L215.07,158.25 L215.18,157.60 L215.30,156.96 L215.41,156.32 L215.53,155.68 L215.64,155.03 L215.76,154.39 L215.87,153.75 L215.99,153.11 L216.11,152.46 L216.23,151.82 L216.35,151.18 L216.47,150.54 L216.59,149.89 L216.72,149.25 L216.84,148.61 L216.97,147.97 L217.09,147.32 L217.22,146.68 L217.35,146.04 L217.48,145.40 L217.61,144.76 L217.75,144.12 L217.88,143.47 L218.02,142.83 L218.15,142.19 L218.29,141.55 L218.44,140.91 L218.58,140.27 L218.73,139.63 L218.87,138.99 L219.02,138.35 L219.17,137.71 L219.33,137.07 L219.48,136.43 L219.64,135.79 L219.80,135.15 L219.96,134.51 L220.13,133.87 L220.29,133.23 L220.46,132.59 L220.63,131.96 L220.81,131.32 L220.99,130.68 L221.16,130.04 L221.35,129.40 L221.53,128.77 L221.72,128.13 L221.91,127.49 L222.10,126.85 L222.30,126.22 L222.50,125.58 L222.70,124.95 L222.91,124.31 L223.12,123.68 L223.33,123.04 L223.54,122.41 L223.76,121.78 L223.98,121.15 L224.21,120.52 L224.43,119.89 L224.66,119.26 L224.90,118.63 L225.13,118.01 L225.37,117.38 L225.62,116.76 L225.86,116.14 L226.11,115.52 L226.37,114.90 L226.62,114.28 L226.88,113.66 L227.15,113.05 L227.41,112.44 L227.68,111.83 L227.96,111.22 L228.23,110.62 L228.52,110.01 L228.80,109.41 L229.09,108.81 L229.38,108.21 L229.67,107.62 L229.97,107.03 L230.27,106.44 L230.58,105.85 L230.89,105.27 L231.20,104.69 L231.52,104.11 L231.84,103.53 L232.17,102.96 L232.50,102.39 L232.83,101.82 L233.16,101.26 L233.50,100.70 L233.85,100.14 L234.20,99.59 L234.55,99.04 L234.90,98.49 L235.26,97.95 L235.63,97.41 L235.99,96.88 L236.37,96.34 L236.74,95.82 L237.12,95.29 L237.51,94.77 L237.89,94.26 L238.29,93.75 L238.68,93.24 L239.08,92.73 L239.49,92.24 L239.90,91.74 L240.31,91.25 L240.73,90.77 L241.15,90.28 L241.58,89.81 L242.01,89.34 L242.45,88.87 L242.89,88.41 L243.33,87.95 L243.78,87.50 L244.23,87.05 L244.69,86.61 L245.15,86.18 L245.62,85.74 L246.09,85.32 L246.57,84.90 L247.05,84.48 L247.53,84.07 L248.02,83.66 L248.51,83.26 L249.00,82.86 L249.50,82.47 L250.01,82.08 L250.52,81.70 L251.03,81.32 L251.54,80.95 L252.06,80.58 L252.59,80.22 L253.11,79.86 L253.64,79.50 L254.18,79.15 L254.71,78.81 L255.26,78.46 L255.80,78.13 L256.35,77.79 L256.90,77.46 L257.45,77.14 L258.01,76.82 L258.57,76.50 L259.13,76.19 L259.70,75.88 L260.27,75.58 L260.84,75.28 L261.42,74.98 L262.00,74.69 L262.58,74.40 L263.16,74.12 L263.75,73.84 L264.34,73.56 L264.93,73.29 L265.53,73.02 L266.13,72.75 L266.73,72.49 L267.33,72.23 L267.93,71.97 L268.54,71.72 L269.15,71.48 L269.76,71.23 L270.38,70.99 L270.99,70.75 L271.61,70.52 L272.23,70.29 L272.85,70.06 L273.48,69.83 L274.10,69.61 L274.73,69.40 L275.36,69.18 L275.99,68.97 L276.63,68.76 L277.26,68.55 L277.90,68.35 L278.54,68.15 L279.18,67.95 L279.82,67.76 L280.46,67.57 L281.11,67.38 L281.75,67.20 L282.40,67.01 L283.05,66.83 L283.69,66.65 L284.35,66.48 L285.00,66.31 L285.65,66.14 L286.30,65.97 L286.96,65.81 L287.61,65.64 L288.27,65.48 L288.92,65.33 L289.58,65.17 L290.24,65.02 L290.90,64.87 L291.56,64.72 L292.22,64.57 L292.88,64.43 L293.54,64.29 L294.20,64.15 L294.86,64.01 L295.53,63.87 L296.19,63.74 L296.85,63.60 L297.51,63.47 L298.18,63.35 L298.84,63.22 L299.50,63.09 L300.17,62.97 L300.83,62.85 L301.49,62.73 L302.15,62.61 L302.82,62.50 L303.48,62.38 L304.14,62.27 L304.80,62.16 L305.46,62.05 L306.12,61.94 L306.78,61.83 L307.44,61.72 L308.10,61.62 L308.76,61.51 L309.42,61.41 L310.07,61.31 L310.73,61.21 L311.39,61.11 L312.04,61.01 L312.69,60.92 L313.34,60.82 L314.00,60.73 L314.65,60.63 L315.29,60.54 L315.94,60.45 L316.59,60.36 L317.23,60.26 L317.88,60.17 L318.52,60.09 L319.16,60.00 L319.80,59.91 L320.44,59.82 L321.07,59.74 L321.71,59.65 L322.34,59.56 L322.97,59.48 L323.60,59.39 L324.23,59.31 L324.86,59.23 L325.48,59.14 L326.10,59.06 L326.72,58.98 L327.34,58.89 L327.96,58.81 L328.57,58.73 L329.18,58.65 L329.79,58.56 L330.40,58.48" stroke="#161616" stroke-width="0.92" fill="none"/>
<path d="M218.32,181.23 L218.96,180.92 L219.60,180.60 L220.23,180.27 L220.85,179.93 L221.46,179.58 L222.07,179.23 L222.68,178.88 L223.27,178.51 L223.86,178.14 L224.45,177.77 L225.03,177.39 L225.60,177.00 L226.17,176.60 L226.73,176.20 L227.29,175.80 L227.84,175.39 L228.39,174.97 L228.93,174.55 L229.47,174.12 L230.00,173.69 L230.53,173.25 L231.05,172.80 L231.57,172.36 L232.08,171.90 L232.59,171.44 L233.09,170.98 L233.59,170.51 L234.09,170.04 L234.58,169.57 L235.07,169.08 L235.55,168.60 L236.03,168.11 L236.50,167.62 L236.97,167.12 L237.44,166.62 L237.91,166.12 L238.37,165.61 L238.82,165.10 L239.28,164.58 L239.73,164.06 L240.18,163.54 L240.62,163.02 L241.06,162.49 L241.50,161.96 L241.94,161.43 L242.37,160.89 L242.80,160.35 L243.23,159.81 L243.65,159.27 L244.07,158.72 L244.49,158.17 L244.91,157.62 L245.33,157.07 L245.74,156.52 L246.16,155.96 L246.57,155.40 L246.97,154.85 L247.38,154.28 L247.79,153.72 L248.19,153.16 L248.59,152.59 L248.99,152.03 L249.39,151.46 L249.79,150.89 L250.19,150.33 L250.58,149.76 L250.98,149.19 L251.37,148.61 L251.77,148.04 L252.16,147.47 L252.55,146.90 L252.94,146.33 L253.33,145.75 L253.72,145.18 L254.11,144.60 L254.49,144.03 L254.88,143.45 L255.26,142.87 L255.65,142.30 L256.03,141.72 L256.41,141.14 L256.79,140.56 L257.18,139.98 L257.56,139.40 L257.93,138.82 L258.31,138.24 L258.69,137.66 L259.07,137.07 L259.44,136.49 L259.82,135.91 L260.19,135.32 L260.56,134.74 L260.94,134.15 L261.31,133.57 L261.68,132.98 L262.05,132.39 L262.42,131.81 L262.79,131.22 L263.16,130.63 L263.52,130.04 L263.89,129.45 L264.26,128.86 L264.62,128.27 L264.99,127.68 L265.35,127.09 L265.71,126.50 L266.08,125.90 L266.44,125.31 L266.80,124.72 L267.16,124.13 L267.52,123.53 L267.88,122.94 L268.23,122.34 L268.59,121.75 L268.95,121.15 L269.31,120.56 L269.66,119.96 L270.02,119.36 L270.37,118.76 L270.72,118.17 L271.08,117.57 L271.43,116.97 L271.78,116.37 L272.13,115.77 L272.49,115.17 L272.84,114.57 L273.19,113.97 L273.53,113.37 L273.88,112.77 L274.23,112.17 L274.58,111.57 L274.93,110.96 L275.27,110.36 L275.62,109.76 L275.96,109.16 L276.31,108.55 L276.65,107.95 L277.00,107.34 L277.34,106.74 L277.68,106.13 L278.03,105.53 L278.37,104.92 L278.71,104.32 L279.05,103.71 L279.39,103.11 L279.73,102.50 L280.07,101.89 L280.41,101.29 L280.75,100.68 L281.09,100.07 L281.42,99.46 L281.76,98.85 L282.10,98.25 L282.44,97.64 L282.77,97.03 L283.11,96.42 L283.44,95.81 L283.78,95.20 L284.11,94.59 L284.45,93.98 L284.78,93.37 L285.12,92.76 L285.45,92.15 L285.78,91.54 L286.12,90.93 L286.45,90.31 L286.78,89.70 L287.11,89.09 L287.45,88.48 L287.78,87.87 L288.11,87.26 L288.44,86.64 L288.77,86.03 L289.10,85.42 L289.43,84.81 L289.76,84.19 L290.09,83.58 L290.42,82.97 L290.75,82.35 L291.08,81.74 L291.40,81.13 L291.73,80.51 L292.06,79.90 L292.39,79.28 L292.72,78.67 L293.04,78.06 L293.37,77.44 L293.70,76.83 L294.03,76.21 L294.35,75.60 L294.68,74.98 L295.01,74.37 L295.33,73.75 L295.66,73.14 L295.98,72.52 L296.31,71.91 L296.64,71.29 L296.96,70.68 L297.29,70.06 L297.61,69.45 L297.94,68.83 L298.26,68.22 L298.59,67.60 L298.91,66.99 L299.24,66.37 L299.56,65.76 L299.89,65.14 L300.21,64.53 L300.54,63.91 L300.86,63.30 L301.19,62.68 L301.51,62.07 L301.84,61.45 L302.16,60.84 L302.49,60.22 L302.81,59.60 L303.14,58.99 L303.46,58.37 L303.79,57.76 L304.11,57.15 L304.44,56.53 L304.76,55.92 L305.09,55.30 L305.41,54.69 L305.74,54.07 L306.06,53.46 L306.39,52.84 L306.71,52.23 L307.04,51.61 L307.36,51.00 L307.69,50.39 L308.01,49.77 L308.34,49.16 L308.67,48.54 L308.99,47.93 L309.32,47.32 L309.64,46.70 L309.97,46.09 L310.30,45.48 L310.62,44.87 L310.95,44.25 L311.28,43.64 L311.61,43.03 L311.93,42.42 L312.26,41.80 L312.59,41.19 L312.92,40.58 L313.24,39.97 L313.57,39.36 L313.90,38.75 L314.23,38.14 L314.56,37.52 L314.89,36.91 L315.22,36.30 L315.55,35.69 L315.88,35.08 L316.21,34.47 L316.54,33.86 L316.87,33.26 L317.20,32.65 L317.53,32.04 L317.86,31.43 L318.20,30.82 L318.53,30.21 L318.86,29.61 L319.19,29.00 L319.53,28.39 L319.86,27.78 L320.19,27.18 L320.53,26.57 L320.86,25.96 L321.20,25.36 L321.53,24.75 L321.87,24.15 L322.21,23.54 L322.54,22.94 L322.88,22.33 L323.22,21.73 L323.55,21.13 L323.89,20.52 L324.23,19.92 L324.57,19.32 L324.91,18.72 L325.25,18.11 L325.59,17.51 L325.93,16.91 L326.27,16.31 L326.61,15.71 L326.95,15.11 L327.30,14.51 L327.64,13.91 L327.98,13.31 L328.33,12.71 L328.67,12.12 L329.02,11.52 L329.36,10.92 L329.71,10.32 L330.05,9.73 L330.40,9.13" stroke="#161616" stroke-width="0.92" fill="none"/>
<path d="M210.40,183.30 L210.53,182.69 L210.66,182.07 L210.79,181.46 L210.91,180.85 L211.04,180.23 L211.16,179.61 L211.28,178.99 L211.41,178.37 L211.53,177.75 L211.65,177.13 L211.77,176.51 L211.89,175.88 L212.01,175.25 L212.13,174.63 L212.24,174.00 L212.36,173.37 L212.48,172.74 L212.60,172.11 L212.71,171.48 L212.83,170.84 L212.94,170.21 L213.06,169.58 L213.18,168.94 L213.29,168.31 L213.41,167.67 L213.52,167.03 L213.64,166.39 L213.75,165.75 L213.87,165.11 L213.98,164.47 L214.10,163.83 L214.22,163.19 L214.33,162.55 L214.45,161.91 L214.57,161.27 L214.69,160.62 L214.81,159.98 L214.93,159.34 L215.05,158.69 L215.17,158.05 L215.29,157.40 L215.41,156.76 L215.53,156.11 L215.66,155.47 L215.78,154.82 L215.91,154.17 L216.03,153.53 L216.16,152.88 L216.29,152.24 L216.42,151.59 L216.55,150.94 L216.68,150.30 L216.82,149.65 L216.95,149.01 L217.09,148.36 L217.23,147.71 L217.37,147.07 L217.51,146.42 L217.65,145.78 L217.80,145.13 L217.94,144.49 L218.09,143.84 L218.24,143.20 L218.39,142.56 L218.54,141.91 L218.70,141.27 L218.86,140.63 L219.01,139.99 L219.18,139.35 L219.34,138.71 L219.50,138.07 L219.67,137.43 L219.84,136.79 L220.01,136.15 L220.19,135.51 L220.37,134.87 L220.55,134.24 L220.73,133.60 L220.91,132.97 L221.10,132.34 L221.29,131.70 L221.48,131.07 L221.68,130.44 L221.87,129.81 L222.07,129.18 L222.28,128.55 L222.48,127.93 L222.69,127.30 L222.91,126.67 L223.12,126.05 L223.34,125.43 L223.56,124.81 L223.79,124.19 L224.01,123.57 L224.24,122.95 L224.48,122.34 L224.71,121.72 L224.95,121.11 L225.20,120.50 L225.44,119.89 L225.69,119.28 L225.95,118.67 L226.20,118.07 L226.46,117.47 L226.72,116.87 L226.99,116.27 L227.26,115.67 L227.53,115.08 L227.81,114.48 L228.08,113.89 L228.37,113.30 L228.65,112.72 L228.94,112.13 L229.23,111.55 L229.53,110.97 L229.83,110.39 L230.13,109.82 L230.44,109.24 L230.75,108.67 L231.06,108.11 L231.37,107.54 L231.69,106.98 L232.02,106.42 L232.34,105.86 L232.67,105.31 L233.01,104.76 L233.35,104.21 L233.69,103.66 L234.03,103.12 L234.38,102.58 L234.73,102.04 L235.09,101.51 L235.45,100.98 L235.81,100.45 L236.18,99.93 L236.55,99.40 L236.92,98.89 L237.30,98.37 L237.68,97.86 L238.07,97.35 L238.45,96.85 L238.85,96.35 L239.24,95.85 L239.64,95.36 L240.05,94.87 L240.46,94.39 L240.87,93.90 L241.29,93.43 L241.71,92.95 L242.13,92.48 L242.56,92.01 L242.99,91.55 L243.42,91.09 L243.86,90.64 L244.31,90.19 L244.76,89.74 L245.21,89.30 L245.66,88.86 L246.12,88.43 L246.59,88.00 L247.05,87.58 L247.52,87.16 L248.00,86.74 L248.48,86.33 L248.96,85.92 L249.45,85.51 L249.94,85.11 L250.43,84.71 L250.92,84.32 L251.42,83.93 L251.93,83.54 L252.43,83.16 L252.94,82.78 L253.46,82.41 L253.97,82.04 L254.49,81.67 L255.02,81.31 L255.54,80.95 L256.07,80.60 L256.60,80.25 L257.14,79.90 L257.68,79.55 L258.22,79.21 L258.76,78.88 L259.31,78.54 L259.86,78.21 L260.41,77.89 L260.97,77.56 L261.52,77.24 L262.08,76.93 L262.65,76.62 L263.21,76.31 L263.78,76.00 L264.35,75.70 L264.93,75.40 L265.50,75.11 L266.08,74.81 L266.66,74.53 L267.24,74.24 L267.83,73.96 L268.42,73.68 L269.01,73.40 L269.60,73.13 L270.19,72.86 L270.79,72.60 L271.39,72.33 L271.98,72.07 L272.59,71.82 L273.19,71.56 L273.80,71.31 L274.40,71.07 L275.01,70.82 L275.62,70.58 L276.24,70.34 L276.85,70.11 L277.47,69.88 L278.08,69.65 L278.70,69.42 L279.32,69.20 L279.95,68.98 L280.57,68.76 L281.20,68.54 L281.82,68.33 L282.45,68.12 L283.08,67.92 L283.71,67.71 L284.34,67.51 L284.97,67.31 L285.61,67.12 L286.24,66.92 L286.88,66.73 L287.51,66.55 L288.15,66.36 L288.79,66.18 L289.43,66.00 L290.07,65.82 L290.71,65.65 L291.35,65.47 L292.00,65.30 L292.64,65.14 L293.29,64.97 L293.93,64.81 L294.58,64.65 L295.22,64.49 L295.87,64.34 L296.51,64.18 L297.16,64.03 L297.81,63.89 L298.46,63.74 L299.10,63.60 L299.75,63.45 L300.40,63.31 L301.05,63.18 L301.70,63.04 L302.35,62.91 L303.00,62.78 L303.65,62.65 L304.30,62.52 L304.95,62.40 L305.59,62.28 L306.24,62.16 L306.89,62.04 L307.54,61.92 L308.19,61.81 L308.84,61.70 L309.48,61.59 L310.13,61.48 L310.78,61.37 L311.42,61.27 L312.07,61.16 L312.71,61.06 L313.36,60.96 L314.00,60.87 L314.65,60.77 L315.29,60.68 L315.93,60.58 L316.57,60.49 L317.21,60.41 L317.85,60.32 L318.49,60.23 L319.13,60.15 L319.76,60.07 L320.40,59.99 L321.03,59.91 L321.67,59.83 L322.30,59.75 L322.93,59.68 L323.56,59.61 L324.19,59.53 L324.82,59.46 L325.44,59.40 L326.07,59.33 L326.69,59.26 L327.31,59.20 L327.93,59.14 L328.55,59.07 L329.17,59.01 L329.78,58.95 L330.40,58.90" stroke="#1e1e1e" stroke-width="1.15" fill="none"/>
<path d="M218.33,181.24 L218.91,180.92 L219.49,180.59 L220.07,180.26 L220.64,179.92 L221.21,179.58 L221.77,179.24 L222.33,178.89 L222.88,178.53 L223.44,178.17 L223.98,177.80 L224.53,177.44 L225.07,177.06 L225.60,176.68 L226.13,176.30 L226.66,175.91 L227.19,175.52 L227.71,175.13 L228.23,174.73 L228.74,174.32 L229.25,173.92 L229.76,173.50 L230.27,173.09 L230.77,172.67 L231.26,172.25 L231.76,171.82 L232.25,171.39 L232.74,170.96 L233.22,170.52 L233.71,170.08 L234.19,169.63 L234.66,169.19 L235.14,168.74 L235.61,168.28 L236.08,167.83 L236.54,167.37 L237.01,166.90 L237.47,166.44 L237.92,165.97 L238.38,165.50 L238.83,165.03 L239.28,164.55 L239.73,164.07 L240.18,163.59 L240.62,163.11 L241.06,162.62 L241.50,162.13 L241.94,161.64 L242.38,161.15 L242.81,160.65 L243.24,160.16 L243.67,159.66 L244.10,159.16 L244.53,158.66 L244.95,158.15 L245.37,157.65 L245.79,157.14 L246.21,156.63 L246.63,156.12 L247.05,155.61 L247.46,155.09 L247.88,154.58 L248.29,154.06 L248.70,153.55 L249.11,153.03 L249.52,152.51 L249.93,151.99 L250.33,151.47 L250.74,150.95 L251.14,150.43 L251.55,149.90 L251.95,149.38 L252.35,148.85 L252.75,148.33 L253.15,147.80 L253.55,147.28 L253.95,146.75 L254.35,146.22 L254.75,145.69 L255.14,145.16 L255.54,144.64 L255.93,144.11 L256.32,143.57 L256.72,143.04 L257.11,142.51 L257.50,141.98 L257.89,141.45 L258.28,140.91 L258.67,140.38 L259.05,139.84 L259.44,139.31 L259.83,138.77 L260.21,138.23 L260.60,137.70 L260.98,137.16 L261.36,136.62 L261.74,136.08 L262.13,135.54 L262.51,135.00 L262.89,134.46 L263.26,133.92 L263.64,133.38 L264.02,132.84 L264.40,132.29 L264.77,131.75 L265.15,131.21 L265.52,130.66 L265.90,130.12 L266.27,129.57 L266.64,129.03 L267.01,128.48 L267.38,127.93 L267.76,127.39 L268.12,126.84 L268.49,126.29 L268.86,125.74 L269.23,125.19 L269.60,124.64 L269.96,124.09 L270.33,123.54 L270.69,122.99 L271.06,122.44 L271.42,121.89 L271.78,121.33 L272.15,120.78 L272.51,120.23 L272.87,119.67 L273.23,119.12 L273.59,118.56 L273.95,118.01 L274.31,117.45 L274.67,116.90 L275.02,116.34 L275.38,115.78 L275.74,115.23 L276.09,114.67 L276.45,114.11 L276.80,113.55 L277.16,113.00 L277.51,112.44 L277.86,111.88 L278.22,111.32 L278.57,110.76 L278.92,110.20 L279.27,109.63 L279.62,109.07 L279.97,108.51 L280.32,107.95 L280.67,107.39 L281.02,106.82 L281.36,106.26 L281.71,105.70 L282.06,105.13 L282.40,104.57 L282.75,104.01 L283.10,103.44 L283.44,102.88 L283.78,102.31 L284.13,101.75 L284.47,101.18 L284.82,100.61 L285.16,100.05 L285.50,99.48 L285.84,98.91 L286.18,98.35 L286.52,97.78 L286.86,97.21 L287.20,96.64 L287.54,96.07 L287.88,95.50 L288.22,94.94 L288.56,94.37 L288.90,93.80 L289.24,93.23 L289.57,92.66 L289.91,92.09 L290.25,91.52 L290.58,90.95 L290.92,90.38 L291.25,89.80 L291.59,89.23 L291.92,88.66 L292.26,88.09 L292.59,87.52 L292.93,86.95 L293.26,86.37 L293.59,85.80 L293.92,85.23 L294.26,84.66 L294.59,84.08 L294.92,83.51 L295.25,82.94 L295.58,82.36 L295.91,81.79 L296.25,81.21 L296.58,80.64 L296.91,80.07 L297.24,79.49 L297.57,78.92 L297.89,78.34 L298.22,77.77 L298.55,77.19 L298.88,76.62 L299.21,76.04 L299.54,75.47 L299.87,74.89 L300.19,74.32 L300.52,73.74 L300.85,73.17 L301.18,72.59 L301.50,72.01 L301.83,71.44 L302.16,70.86 L302.48,70.29 L302.81,69.71 L303.13,69.13 L303.46,68.56 L303.78,67.98 L304.11,67.40 L304.44,66.83 L304.76,66.25 L305.09,65.67 L305.41,65.10 L305.74,64.52 L306.06,63.94 L306.38,63.37 L306.71,62.79 L307.03,62.21 L307.36,61.64 L307.68,61.06 L308.00,60.48 L308.33,59.91 L308.65,59.33 L308.98,58.75 L309.30,58.18 L309.62,57.60 L309.95,57.02 L310.27,56.44 L310.59,55.87 L310.92,55.29 L311.24,54.71 L311.56,54.14 L311.89,53.56 L312.21,52.98 L312.53,52.41 L312.86,51.83 L313.18,51.25 L313.50,50.68 L313.82,50.10 L314.15,49.52 L314.47,48.95 L314.79,48.37 L315.12,47.80 L315.44,47.22 L315.76,46.64 L316.08,46.07 L316.41,45.49 L316.73,44.92 L317.05,44.34 L317.38,43.77 L317.70,43.19 L318.02,42.62 L318.35,42.04 L318.67,41.46 L318.99,40.89 L319.32,40.32 L319.64,39.74 L319.97,39.17 L320.29,38.59 L320.61,38.02 L320.94,37.44 L321.26,36.87 L321.59,36.30 L321.91,35.72 L322.23,35.15 L322.56,34.58 L322.88,34.00 L323.21,33.43 L323.53,32.86 L323.86,32.28 L324.18,31.71 L324.51,31.14 L324.84,30.57 L325.16,30.00 L325.49,29.42 L325.81,28.85 L326.14,28.28 L326.47,27.71 L326.79,27.14 L327.12,26.57 L327.45,26.00 L327.77,25.43 L328.10,24.86 L328.43,24.29 L328.76,23.72 L329.09,23.15 L329.41,22.58 L329.74,22.02 L330.07,21.45 L330.40,20.88" stroke="#1e1e1e" stroke-width="1.15" fill="none"/>
</g>
<line x1="225.40" y1="169.30" x2="225.40" y2="180.30" stroke="#808080" stroke-width="0.9"/>
<path d="M224.40,178.70 L226.40,178.70 L225.40,183.30 Z" fill="#1a1a1a"/>
<line x1="271.96" y1="169.30" x2="271.96" y2="180.30" stroke="#3c3c3c" stroke-width="0.9"/>
<path d="M270.46,178.70 L273.46,178.70 L271.96,183.30 Z" fill="#1a1a1a"/>
<rect x="210.40" y="3.60" width="120.00" height="179.70" fill="none" stroke="#3a3a3a" stroke-width="1.0"/>
<path d="M210.40,169.48h2.6M330.40,169.48h-2.6M210.40,155.65h2.6M330.40,155.65h-2.6M210.40,141.83h2.6M330.40,141.83h-2.6M210.40,128.01h2.6M330.40,128.01h-2.6M210.40,114.18h2.6M330.40,114.18h-2.6M210.40,100.36h2.6M330.40,100.36h-2.6M210.40,86.54h2.6M330.40,86.54h-2.6M210.40,72.72h2.6M330.40,72.72h-2.6M210.40,58.89h2.6M330.40,58.89h-2.6M210.40,45.07h2.6M330.40,45.07h-2.6M210.40,31.25h2.6M330.40,31.25h-2.6M210.40,17.42h2.6M330.40,17.42h-2.6M222.40,183.30v-2.6M222.40,3.60v2.6M234.40,183.30v-2.6M234.40,3.60v2.6M246.40,183.30v-2.6M246.40,3.60v2.6M258.40,183.30v-2.6M258.40,3.60v2.6M270.40,183.30v-2.6M270.40,3.60v2.6M282.40,183.30v-2.6M282.40,3.60v2.6M294.40,183.30v-2.6M294.40,3.60v2.6M306.40,183.30v-2.6M306.40,3.60v2.6M318.40,183.30v-2.6M318.40,3.60v2.6" stroke="#3a3a3a" stroke-width="0.85" fill="none"/>
<g font-size="7.2" fill="#1a1a1a" stroke="#1a1a1a" stroke-width="0.22"><text x="204.50" y="185.60" text-anchor="end">0</text><text x="204.50" y="171.78" text-anchor="end">1</text><text x="204.50" y="157.95" text-anchor="end">2</text><text x="204.50" y="144.13" text-anchor="end">3</text><text x="204.50" y="130.31" text-anchor="end">4</text><text x="204.50" y="116.48" text-anchor="end">5</text><text x="204.50" y="102.66" text-anchor="end">6</text><text x="204.50" y="88.84" text-anchor="end">7</text><text x="204.50" y="75.02" text-anchor="end">8</text><text x="204.50" y="61.19" text-anchor="end">9</text><text x="204.50" y="47.37" text-anchor="end">10</text><text x="204.50" y="33.55" text-anchor="end">11</text><text x="204.50" y="19.72" text-anchor="end">12</text><text x="204.50" y="5.90" text-anchor="end">13</text><text x="211.40" y="195.00" text-anchor="middle">0</text><text x="223.40" y="195.00" text-anchor="middle">1</text><text x="235.40" y="195.00" text-anchor="middle">2</text><text x="247.40" y="195.00" text-anchor="middle">3</text><text x="259.40" y="195.00" text-anchor="middle">4</text><text x="271.40" y="195.00" text-anchor="middle">5</text><text x="283.40" y="195.00" text-anchor="middle">6</text><text x="295.40" y="195.00" text-anchor="middle">7</text><text x="307.40" y="195.00" text-anchor="middle">8</text><text x="319.40" y="195.00" text-anchor="middle">9</text><text x="331.40" y="195.00" text-anchor="middle">10</text></g>
<text x="260.40" y="209.30" font-size="7.5" textLength="19.8" lengthAdjust="spacingAndGlyphs" fill="#1a1a1a" stroke="#1a1a1a" stroke-width="0.18">r [kpc]</text>
<text transform="translate(191.60,137.50) rotate(-90)" font-size="7.20" textLength="54.8" lengthAdjust="spacingAndGlyphs" fill="#1a1a1a" stroke="#1a1a1a" stroke-width="0.18">Cumulative mass</text>
<text transform="translate(191.60,81.30) rotate(-90)" font-size="7.20"  fill="#1a1a1a" stroke="#1a1a1a" stroke-width="0.18">[</text>
<text transform="translate(191.60,78.40) rotate(-90)" font-size="7.20" textLength="6.9" lengthAdjust="spacingAndGlyphs" fill="#1a1a1a" stroke="#1a1a1a" stroke-width="0.18">10</text>
<text transform="translate(189.10,70.90) rotate(-90)" font-size="5.40" textLength="5.6" lengthAdjust="spacingAndGlyphs" fill="#1a1a1a" stroke="#1a1a1a" stroke-width="0.18">10</text>
<text transform="translate(191.60,63.60) rotate(-90)" font-size="7.20" font-style="italic" textLength="6.0" lengthAdjust="spacingAndGlyphs" fill="#1a1a1a" stroke="#1a1a1a" stroke-width="0.18">M</text>
<circle cx="190.10" cy="54.50" r="1.75" fill="none" stroke="#2a2a2a" stroke-width="0.6"/><circle cx="190.10" cy="54.50" r="0.55" fill="#222"/>
<text transform="translate(191.60,52.00) rotate(-90)" font-size="7.20"  fill="#1a1a1a" stroke="#1a1a1a" stroke-width="0.18">]</text>
<text x="216.60" y="14.70" font-size="7.3" textLength="28.5" lengthAdjust="spacingAndGlyphs" fill="#1a1a1a" stroke="#1a1a1a" stroke-width="0.18">1A10Csq</text>
<text x="216.60" y="86.60" font-size="7.3" textLength="19.3" lengthAdjust="spacingAndGlyphs" fill="#1a1a1a" stroke="#1a1a1a" stroke-width="0.18">stellar</text>
<text x="277.00" y="149.70" font-size="7.2" textLength="11.3" lengthAdjust="spacingAndGlyphs" fill="#1a1a1a" stroke="#1a1a1a" stroke-width="0.18">DM</text>
<clipPath id="c3"><rect x="395.10" y="3.60" width="120.00" height="179.70"/></clipPath>
<g clip-path="url(#c3)">
<path d="M395.10,183.30 L395.31,182.79 L395.53,182.28 L395.74,181.78 L395.95,181.26 L396.16,180.75 L396.37,180.24 L396.59,179.72 L396.80,179.20 L397.01,178.68 L397.22,178.16 L397.43,177.64 L397.64,177.12 L397.85,176.60 L398.06,176.07 L398.27,175.54 L398.48,175.02 L398.70,174.49 L398.91,173.96 L399.12,173.43 L399.33,172.89 L399.54,172.36 L399.75,171.83 L399.96,171.29 L400.18,170.76 L400.39,170.22 L400.60,169.68 L400.81,169.15 L401.03,168.61 L401.24,168.07 L401.46,167.53 L401.67,166.99 L401.89,166.45 L402.10,165.91 L402.32,165.36 L402.54,164.82 L402.75,164.28 L402.97,163.74 L403.19,163.19 L403.41,162.65 L403.63,162.11 L403.85,161.56 L404.07,161.02 L404.30,160.48 L404.52,159.93 L404.75,159.39 L404.97,158.85 L405.20,158.30 L405.42,157.76 L405.65,157.21 L405.88,156.67 L406.11,156.13 L406.34,155.59 L406.58,155.04 L406.81,154.50 L407.04,153.96 L407.28,153.42 L407.52,152.88 L407.76,152.34 L408.00,151.80 L408.24,151.26 L408.48,150.72 L408.72,150.18 L408.97,149.65 L409.21,149.11 L409.46,148.57 L409.71,148.04 L409.96,147.51 L410.21,146.97 L410.47,146.44 L410.72,145.91 L410.98,145.38 L411.24,144.85 L411.50,144.33 L411.76,143.80 L412.02,143.27 L412.29,142.75 L412.55,142.23 L412.82,141.71 L413.09,141.19 L413.37,140.67 L413.64,140.15 L413.92,139.63 L414.19,139.12 L414.47,138.61 L414.76,138.10 L415.04,137.59 L415.33,137.08 L415.62,136.57 L415.91,136.07 L416.20,135.57 L416.49,135.07 L416.79,134.57 L417.09,134.07 L417.39,133.58 L417.69,133.08 L418.00,132.59 L418.31,132.10 L418.62,131.62 L418.93,131.13 L419.25,130.65 L419.56,130.17 L419.89,129.69 L420.21,129.22 L420.53,128.74 L420.86,128.27 L421.19,127.80 L421.52,127.34 L421.86,126.88 L422.20,126.41 L422.54,125.96 L422.88,125.50 L423.23,125.05 L423.58,124.60 L423.93,124.15 L424.29,123.71 L424.64,123.26 L425.00,122.83 L425.37,122.39 L425.73,121.96 L426.10,121.52 L426.47,121.10 L426.85,120.67 L427.22,120.25 L427.60,119.83 L427.99,119.41 L428.37,118.99 L428.76,118.58 L429.15,118.17 L429.54,117.76 L429.93,117.36 L430.33,116.96 L430.73,116.56 L431.13,116.16 L431.54,115.76 L431.95,115.37 L432.36,114.98 L432.77,114.59 L433.18,114.21 L433.60,113.83 L434.02,113.45 L434.44,113.07 L434.86,112.69 L435.29,112.32 L435.71,111.95 L436.14,111.58 L436.57,111.21 L437.01,110.85 L437.45,110.48 L437.88,110.12 L438.32,109.77 L438.77,109.41 L439.21,109.06 L439.66,108.71 L440.11,108.36 L440.56,108.01 L441.01,107.66 L441.46,107.32 L441.92,106.98 L442.38,106.64 L442.84,106.30 L443.30,105.97 L443.76,105.64 L444.23,105.30 L444.70,104.98 L445.16,104.65 L445.64,104.32 L446.11,104.00 L446.58,103.68 L447.06,103.36 L447.54,103.04 L448.01,102.73 L448.50,102.41 L448.98,102.10 L449.46,101.79 L449.95,101.48 L450.43,101.17 L450.92,100.87 L451.41,100.56 L451.90,100.26 L452.40,99.96 L452.89,99.66 L453.39,99.37 L453.88,99.07 L454.38,98.78 L454.88,98.49 L455.38,98.20 L455.88,97.91 L456.39,97.62 L456.89,97.33 L457.40,97.05 L457.90,96.77 L458.41,96.49 L458.92,96.21 L459.43,95.93 L459.94,95.65 L460.46,95.37 L460.97,95.10 L461.49,94.83 L462.00,94.56 L462.52,94.29 L463.04,94.02 L463.56,93.75 L464.08,93.48 L464.60,93.22 L465.12,92.95 L465.64,92.69 L466.16,92.43 L466.69,92.17 L467.21,91.91 L467.74,91.65 L468.27,91.40 L468.79,91.14 L469.32,90.89 L469.85,90.64 L470.38,90.38 L470.91,90.13 L471.44,89.88 L471.97,89.63 L472.50,89.39 L473.04,89.14 L473.57,88.89 L474.10,88.65 L474.64,88.40 L475.17,88.16 L475.71,87.92 L476.24,87.68 L476.78,87.44 L477.32,87.20 L477.85,86.96 L478.39,86.72 L478.93,86.48 L479.46,86.25 L480.00,86.01 L480.54,85.78 L481.08,85.54 L481.62,85.31 L482.16,85.08 L482.70,84.85 L483.24,84.61 L483.78,84.38 L484.32,84.15 L484.86,83.92 L485.40,83.70 L485.94,83.47 L486.48,83.24 L487.02,83.01 L487.56,82.79 L488.10,82.56 L488.64,82.34 L489.18,82.11 L489.71,81.89 L490.25,81.66 L490.79,81.44 L491.33,81.22 L491.87,80.99 L492.41,80.77 L492.95,80.55 L493.49,80.33 L494.03,80.11 L494.57,79.89 L495.10,79.66 L495.64,79.44 L496.18,79.22 L496.71,79.00 L497.25,78.79 L497.79,78.57 L498.32,78.35 L498.86,78.13 L499.39,77.91 L499.93,77.69 L500.46,77.47 L500.99,77.25 L501.52,77.04 L502.06,76.82 L502.59,76.60 L503.12,76.38 L503.65,76.16 L504.18,75.94 L504.71,75.73 L505.23,75.51 L505.76,75.29 L506.29,75.07 L506.81,74.85 L507.34,74.64 L507.86,74.42 L508.39,74.20 L508.91,73.98 L509.43,73.76 L509.95,73.54 L510.47,73.32 L510.99,73.10 L511.51,72.88 L512.02,72.66 L512.54,72.44 L513.05,72.22 L513.57,72.00 L514.08,71.78 L514.59,71.56 L515.10,71.34" stroke="#2a2a2a" stroke-width="1.15" fill="none" stroke-dasharray="1.1 2.0"/>
<path d="M403.26,181.64 L403.78,181.45 L404.29,181.26 L404.81,181.06 L405.32,180.86 L405.84,180.66 L406.35,180.45 L406.86,180.25 L407.36,180.04 L407.87,179.83 L408.37,179.62 L408.88,179.40 L409.38,179.19 L409.88,178.97 L410.37,178.75 L410.87,178.52 L411.36,178.30 L411.86,178.07 L412.35,177.84 L412.84,177.61 L413.33,177.38 L413.81,177.14 L414.30,176.91 L414.78,176.67 L415.26,176.43 L415.74,176.18 L416.22,175.94 L416.70,175.69 L417.17,175.44 L417.64,175.19 L418.12,174.94 L418.59,174.68 L419.06,174.43 L419.52,174.17 L419.99,173.91 L420.46,173.64 L420.92,173.38 L421.38,173.11 L421.84,172.85 L422.30,172.58 L422.76,172.30 L423.21,172.03 L423.67,171.75 L424.12,171.48 L424.57,171.20 L425.02,170.92 L425.47,170.64 L425.92,170.35 L426.37,170.06 L426.81,169.78 L427.26,169.49 L427.70,169.20 L428.14,168.90 L428.58,168.61 L429.02,168.31 L429.45,168.01 L429.89,167.71 L430.32,167.41 L430.76,167.11 L431.19,166.80 L431.62,166.50 L432.05,166.19 L432.48,165.88 L432.90,165.57 L433.33,165.26 L433.75,164.94 L434.17,164.63 L434.60,164.31 L435.02,163.99 L435.43,163.67 L435.85,163.35 L436.27,163.02 L436.68,162.70 L437.10,162.37 L437.51,162.04 L437.92,161.72 L438.33,161.38 L438.74,161.05 L439.15,160.72 L439.56,160.38 L439.97,160.05 L440.37,159.71 L440.77,159.37 L441.18,159.03 L441.58,158.69 L441.98,158.34 L442.38,158.00 L442.78,157.65 L443.18,157.30 L443.57,156.95 L443.97,156.60 L444.36,156.25 L444.75,155.90 L445.15,155.55 L445.54,155.19 L445.93,154.83 L446.32,154.48 L446.70,154.12 L447.09,153.76 L447.48,153.39 L447.86,153.03 L448.25,152.67 L448.63,152.30 L449.01,151.94 L449.39,151.57 L449.77,151.20 L450.15,150.83 L450.53,150.46 L450.91,150.09 L451.29,149.71 L451.66,149.34 L452.04,148.96 L452.41,148.59 L452.78,148.21 L453.15,147.83 L453.53,147.45 L453.90,147.07 L454.27,146.69 L454.63,146.31 L455.00,145.92 L455.37,145.54 L455.74,145.15 L456.10,144.76 L456.47,144.38 L456.83,143.99 L457.19,143.60 L457.55,143.21 L457.92,142.82 L458.28,142.42 L458.64,142.03 L459.00,141.64 L459.35,141.24 L459.71,140.84 L460.07,140.45 L460.42,140.05 L460.78,139.65 L461.13,139.25 L461.49,138.85 L461.84,138.45 L462.19,138.05 L462.55,137.65 L462.90,137.24 L463.25,136.84 L463.60,136.43 L463.95,136.03 L464.30,135.62 L464.64,135.21 L464.99,134.81 L465.34,134.40 L465.69,133.99 L466.03,133.58 L466.38,133.17 L466.72,132.76 L467.06,132.34 L467.41,131.93 L467.75,131.52 L468.09,131.10 L468.43,130.69 L468.78,130.27 L469.12,129.86 L469.46,129.44 L469.80,129.02 L470.13,128.61 L470.47,128.19 L470.81,127.77 L471.15,127.35 L471.49,126.93 L471.82,126.51 L472.16,126.09 L472.49,125.67 L472.83,125.25 L473.16,124.83 L473.50,124.40 L473.83,123.98 L474.17,123.56 L474.50,123.13 L474.83,122.71 L475.16,122.28 L475.50,121.86 L475.83,121.43 L476.16,121.01 L476.49,120.58 L476.82,120.15 L477.15,119.73 L477.48,119.30 L477.81,118.87 L478.14,118.45 L478.47,118.02 L478.79,117.59 L479.12,117.16 L479.45,116.73 L479.78,116.30 L480.11,115.87 L480.43,115.44 L480.76,115.01 L481.09,114.58 L481.41,114.15 L481.74,113.72 L482.06,113.29 L482.39,112.86 L482.71,112.43 L483.04,112.00 L483.36,111.56 L483.69,111.13 L484.01,110.70 L484.34,110.27 L484.66,109.84 L484.99,109.41 L485.31,108.97 L485.63,108.54 L485.96,108.11 L486.28,107.68 L486.60,107.24 L486.93,106.81 L487.25,106.38 L487.57,105.95 L487.90,105.51 L488.22,105.08 L488.54,104.65 L488.86,104.22 L489.19,103.78 L489.51,103.35 L489.83,102.92 L490.15,102.49 L490.48,102.06 L490.80,101.62 L491.12,101.19 L491.44,100.76 L491.76,100.33 L492.09,99.90 L492.41,99.46 L492.73,99.03 L493.05,98.60 L493.38,98.17 L493.70,97.74 L494.02,97.31 L494.34,96.88 L494.67,96.45 L494.99,96.02 L495.31,95.59 L495.63,95.16 L495.96,94.73 L496.28,94.30 L496.60,93.87 L496.92,93.45 L497.25,93.02 L497.57,92.59 L497.90,92.16 L498.22,91.74 L498.54,91.31 L498.87,90.88 L499.19,90.46 L499.52,90.03 L499.84,89.61 L500.16,89.18 L500.49,88.76 L500.81,88.33 L501.14,87.91 L501.47,87.49 L501.79,87.06 L502.12,86.64 L502.44,86.22 L502.77,85.80 L503.10,85.38 L503.42,84.96 L503.75,84.54 L504.08,84.12 L504.41,83.70 L504.73,83.28 L505.06,82.86 L505.39,82.45 L505.72,82.03 L506.05,81.61 L506.38,81.20 L506.71,80.78 L507.04,80.37 L507.37,79.96 L507.70,79.54 L508.03,79.13 L508.37,78.72 L508.70,78.31 L509.03,77.90 L509.37,77.49 L509.70,77.08 L510.03,76.67 L510.37,76.27 L510.70,75.86 L511.04,75.45 L511.37,75.05 L511.71,74.64 L512.05,74.24 L512.38,73.84 L512.72,73.43 L513.06,73.03 L513.40,72.63 L513.74,72.23 L514.08,71.83 L514.42,71.44 L514.76,71.04 L515.10,70.64" stroke="#2a2a2a" stroke-width="1.15" fill="none" stroke-dasharray="1.1 2.0"/>
<path d="M395.10,183.30 L395.23,182.69 L395.36,182.08 L395.49,181.47 L395.62,180.85 L395.75,180.24 L395.87,179.62 L396.00,179.00 L396.12,178.38 L396.25,177.76 L396.37,177.14 L396.49,176.51 L396.61,175.89 L396.73,175.26 L396.85,174.63 L396.97,174.00 L397.08,173.37 L397.20,172.73 L397.32,172.10 L397.43,171.46 L397.55,170.83 L397.66,170.19 L397.78,169.55 L397.89,168.91 L398.00,168.27 L398.12,167.63 L398.23,166.98 L398.34,166.34 L398.46,165.69 L398.57,165.05 L398.68,164.40 L398.79,163.75 L398.91,163.10 L399.02,162.45 L399.13,161.80 L399.25,161.15 L399.36,160.50 L399.47,159.85 L399.59,159.20 L399.70,158.55 L399.82,157.89 L399.93,157.24 L400.05,156.58 L400.17,155.93 L400.28,155.28 L400.40,154.62 L400.52,153.96 L400.64,153.31 L400.76,152.65 L400.88,152.00 L401.00,151.34 L401.12,150.69 L401.25,150.03 L401.37,149.37 L401.50,148.72 L401.62,148.06 L401.75,147.41 L401.88,146.75 L402.01,146.09 L402.14,145.44 L402.28,144.78 L402.41,144.13 L402.55,143.47 L402.68,142.82 L402.82,142.17 L402.96,141.51 L403.11,140.86 L403.25,140.21 L403.40,139.56 L403.54,138.90 L403.69,138.25 L403.84,137.60 L403.99,136.95 L404.15,136.31 L404.31,135.66 L404.47,135.01 L404.63,134.37 L404.79,133.72 L404.95,133.08 L405.12,132.43 L405.29,131.79 L405.46,131.15 L405.64,130.51 L405.81,129.87 L405.99,129.23 L406.17,128.59 L406.36,127.96 L406.54,127.32 L406.73,126.69 L406.93,126.06 L407.12,125.43 L407.32,124.80 L407.52,124.17 L407.72,123.54 L407.93,122.92 L408.14,122.30 L408.35,121.67 L408.56,121.05 L408.78,120.43 L409.00,119.82 L409.23,119.20 L409.45,118.59 L409.68,117.98 L409.92,117.37 L410.16,116.76 L410.40,116.15 L410.64,115.55 L410.89,114.95 L411.14,114.35 L411.39,113.75 L411.65,113.15 L411.92,112.56 L412.18,111.97 L412.45,111.38 L412.72,110.79 L413.00,110.20 L413.28,109.62 L413.57,109.04 L413.86,108.46 L414.15,107.88 L414.45,107.31 L414.75,106.74 L415.05,106.17 L415.36,105.60 L415.68,105.04 L416.00,104.48 L416.32,103.92 L416.65,103.37 L416.98,102.81 L417.32,102.26 L417.66,101.72 L418.00,101.17 L418.35,100.63 L418.71,100.09 L419.07,99.56 L419.43,99.02 L419.80,98.49 L420.17,97.97 L420.55,97.44 L420.93,96.92 L421.32,96.41 L421.71,95.89 L422.11,95.38 L422.51,94.87 L422.91,94.37 L423.32,93.87 L423.73,93.37 L424.15,92.88 L424.57,92.39 L425.00,91.90 L425.43,91.42 L425.87,90.94 L426.31,90.46 L426.75,89.99 L427.20,89.52 L427.65,89.05 L428.10,88.59 L428.56,88.14 L429.03,87.68 L429.49,87.23 L429.96,86.79 L430.44,86.35 L430.92,85.91 L431.40,85.48 L431.89,85.05 L432.38,84.62 L432.87,84.20 L433.37,83.79 L433.87,83.38 L434.38,82.97 L434.88,82.56 L435.40,82.17 L435.91,81.77 L436.43,81.38 L436.95,81.00 L437.48,80.62 L438.01,80.24 L438.54,79.87 L439.08,79.50 L439.61,79.14 L440.16,78.78 L440.70,78.43 L441.25,78.08 L441.80,77.74 L442.36,77.40 L442.92,77.07 L443.48,76.74 L444.04,76.42 L444.61,76.10 L445.18,75.79 L445.75,75.48 L446.33,75.17 L446.91,74.87 L447.49,74.58 L448.07,74.29 L448.66,74.00 L449.25,73.72 L449.84,73.44 L450.43,73.17 L451.03,72.90 L451.63,72.63 L452.23,72.37 L452.83,72.11 L453.44,71.86 L454.05,71.61 L454.66,71.37 L455.27,71.13 L455.88,70.89 L456.50,70.65 L457.12,70.42 L457.74,70.20 L458.36,69.98 L458.98,69.76 L459.61,69.54 L460.24,69.33 L460.87,69.12 L461.50,68.92 L462.13,68.71 L462.76,68.51 L463.40,68.32 L464.04,68.13 L464.67,67.94 L465.31,67.75 L465.95,67.57 L466.60,67.39 L467.24,67.21 L467.89,67.04 L468.53,66.87 L469.18,66.70 L469.83,66.53 L470.48,66.37 L471.13,66.21 L471.78,66.05 L472.43,65.90 L473.08,65.74 L473.74,65.59 L474.39,65.45 L475.05,65.30 L475.70,65.16 L476.36,65.02 L477.01,64.88 L477.67,64.74 L478.33,64.61 L478.99,64.48 L479.65,64.34 L480.31,64.22 L480.96,64.09 L481.62,63.97 L482.28,63.84 L482.94,63.72 L483.60,63.60 L484.26,63.49 L484.92,63.37 L485.58,63.26 L486.24,63.14 L486.90,63.03 L487.56,62.92 L488.22,62.82 L488.88,62.71 L489.54,62.60 L490.20,62.50 L490.85,62.40 L491.51,62.29 L492.17,62.19 L492.83,62.09 L493.48,61.99 L494.14,61.90 L494.79,61.80 L495.44,61.70 L496.10,61.61 L496.75,61.51 L497.40,61.42 L498.05,61.33 L498.70,61.23 L499.35,61.14 L500.00,61.05 L500.64,60.96 L501.29,60.87 L501.93,60.78 L502.57,60.69 L503.22,60.60 L503.86,60.51 L504.50,60.42 L505.13,60.33 L505.77,60.25 L506.40,60.16 L507.04,60.07 L507.67,59.98 L508.30,59.89 L508.92,59.80 L509.55,59.71 L510.17,59.62 L510.80,59.53 L511.42,59.44 L512.04,59.35 L512.65,59.26 L513.27,59.17 L513.88,59.08 L514.49,58.99 L515.10,58.89" stroke="#161616" stroke-width="0.92" fill="none"/>
<path d="M403.26,181.64 L403.83,181.23 L404.40,180.82 L404.97,180.40 L405.53,179.98 L406.09,179.55 L406.64,179.12 L407.20,178.69 L407.75,178.26 L408.29,177.83 L408.84,177.39 L409.38,176.95 L409.91,176.50 L410.45,176.06 L410.98,175.61 L411.51,175.16 L412.03,174.70 L412.56,174.25 L413.08,173.79 L413.59,173.33 L414.11,172.86 L414.62,172.40 L415.13,171.93 L415.64,171.46 L416.14,170.99 L416.64,170.51 L417.14,170.03 L417.64,169.55 L418.13,169.07 L418.62,168.59 L419.11,168.10 L419.59,167.61 L420.08,167.12 L420.56,166.63 L421.03,166.13 L421.51,165.63 L421.98,165.13 L422.45,164.63 L422.92,164.13 L423.39,163.62 L423.85,163.11 L424.32,162.60 L424.78,162.09 L425.23,161.58 L425.69,161.06 L426.14,160.55 L426.59,160.03 L427.04,159.51 L427.49,158.98 L427.93,158.46 L428.37,157.93 L428.81,157.40 L429.25,156.87 L429.69,156.34 L430.12,155.81 L430.55,155.27 L430.98,154.74 L431.41,154.20 L431.84,153.66 L432.26,153.12 L432.69,152.58 L433.11,152.03 L433.53,151.49 L433.95,150.94 L434.36,150.39 L434.78,149.84 L435.19,149.29 L435.60,148.73 L436.01,148.18 L436.42,147.62 L436.82,147.07 L437.23,146.51 L437.63,145.95 L438.03,145.39 L438.43,144.83 L438.83,144.26 L439.23,143.70 L439.62,143.13 L440.02,142.57 L440.41,142.00 L440.80,141.43 L441.19,140.86 L441.58,140.29 L441.97,139.72 L442.35,139.15 L442.74,138.57 L443.12,138.00 L443.50,137.42 L443.89,136.85 L444.27,136.27 L444.65,135.69 L445.02,135.11 L445.40,134.53 L445.78,133.95 L446.15,133.37 L446.53,132.79 L446.90,132.20 L447.27,131.62 L447.64,131.04 L448.01,130.45 L448.38,129.87 L448.75,129.28 L449.12,128.69 L449.48,128.11 L449.85,127.52 L450.21,126.93 L450.58,126.34 L450.94,125.75 L451.30,125.16 L451.67,124.57 L452.03,123.98 L452.39,123.39 L452.75,122.79 L453.11,122.20 L453.46,121.61 L453.82,121.01 L454.18,120.42 L454.53,119.82 L454.89,119.23 L455.24,118.63 L455.59,118.03 L455.95,117.44 L456.30,116.84 L456.65,116.24 L457.00,115.64 L457.35,115.04 L457.70,114.44 L458.05,113.84 L458.39,113.24 L458.74,112.64 L459.09,112.04 L459.43,111.44 L459.78,110.83 L460.12,110.23 L460.47,109.63 L460.81,109.02 L461.15,108.42 L461.50,107.81 L461.84,107.21 L462.18,106.60 L462.52,106.00 L462.86,105.39 L463.20,104.79 L463.54,104.18 L463.88,103.57 L464.21,102.97 L464.55,102.36 L464.89,101.75 L465.22,101.14 L465.56,100.53 L465.89,99.92 L466.23,99.31 L466.56,98.70 L466.90,98.09 L467.23,97.48 L467.56,96.87 L467.90,96.26 L468.23,95.65 L468.56,95.04 L468.89,94.43 L469.22,93.81 L469.55,93.20 L469.88,92.59 L470.21,91.98 L470.54,91.36 L470.87,90.75 L471.20,90.14 L471.53,89.52 L471.86,88.91 L472.18,88.30 L472.51,87.68 L472.84,87.07 L473.17,86.45 L473.49,85.84 L473.82,85.22 L474.14,84.61 L474.47,83.99 L474.80,83.38 L475.12,82.76 L475.45,82.15 L475.77,81.53 L476.09,80.91 L476.42,80.30 L476.74,79.68 L477.07,79.07 L477.39,78.45 L477.71,77.83 L478.04,77.22 L478.36,76.60 L478.68,75.98 L479.01,75.37 L479.33,74.75 L479.65,74.13 L479.97,73.52 L480.30,72.90 L480.62,72.28 L480.94,71.66 L481.26,71.05 L481.58,70.43 L481.91,69.81 L482.23,69.20 L482.55,68.58 L482.87,67.96 L483.19,67.35 L483.51,66.73 L483.83,66.11 L484.16,65.49 L484.48,64.88 L484.80,64.26 L485.12,63.64 L485.44,63.03 L485.76,62.41 L486.09,61.79 L486.41,61.18 L486.73,60.56 L487.05,59.94 L487.37,59.33 L487.69,58.71 L488.02,58.10 L488.34,57.48 L488.66,56.86 L488.98,56.25 L489.30,55.63 L489.63,55.02 L489.95,54.40 L490.27,53.79 L490.59,53.17 L490.92,52.56 L491.24,51.94 L491.56,51.33 L491.89,50.71 L492.21,50.10 L492.53,49.48 L492.86,48.87 L493.18,48.26 L493.51,47.64 L493.83,47.03 L494.16,46.42 L494.48,45.81 L494.81,45.19 L495.13,44.58 L495.46,43.97 L495.79,43.36 L496.11,42.75 L496.44,42.14 L496.77,41.52 L497.09,40.91 L497.42,40.30 L497.75,39.69 L498.08,39.08 L498.41,38.47 L498.73,37.87 L499.06,37.26 L499.39,36.65 L499.72,36.04 L500.05,35.43 L500.39,34.83 L500.72,34.22 L501.05,33.61 L501.38,33.01 L501.71,32.40 L502.05,31.79 L502.38,31.19 L502.71,30.58 L503.05,29.98 L503.38,29.38 L503.72,28.77 L504.05,28.17 L504.39,27.57 L504.73,26.97 L505.06,26.36 L505.40,25.76 L505.74,25.16 L506.08,24.56 L506.42,23.96 L506.76,23.36 L507.10,22.76 L507.44,22.16 L507.78,21.57 L508.12,20.97 L508.47,20.37 L508.81,19.77 L509.15,19.18 L509.50,18.58 L509.84,17.99 L510.19,17.39 L510.54,16.80 L510.88,16.21 L511.23,15.61 L511.58,15.02 L511.93,14.43 L512.28,13.84 L512.63,13.25 L512.98,12.66 L513.33,12.07 L513.68,11.48 L514.04,10.89 L514.39,10.30 L514.75,9.72 L515.10,9.13" stroke="#161616" stroke-width="0.92" fill="none"/>
<path d="M395.10,183.30 L395.28,182.65 L395.47,182.00 L395.65,181.35 L395.84,180.69 L396.03,180.04 L396.22,179.39 L396.41,178.74 L396.60,178.10 L396.79,177.45 L396.98,176.80 L397.18,176.15 L397.37,175.50 L397.57,174.85 L397.77,174.21 L397.96,173.56 L398.16,172.91 L398.36,172.27 L398.56,171.62 L398.76,170.97 L398.96,170.33 L399.16,169.68 L399.37,169.04 L399.57,168.39 L399.77,167.74 L399.98,167.10 L400.18,166.45 L400.39,165.81 L400.59,165.16 L400.80,164.52 L401.00,163.88 L401.21,163.23 L401.42,162.59 L401.62,161.94 L401.83,161.30 L402.04,160.65 L402.24,160.01 L402.45,159.37 L402.66,158.72 L402.86,158.08 L403.07,157.43 L403.28,156.79 L403.48,156.14 L403.69,155.50 L403.90,154.86 L404.10,154.21 L404.31,153.57 L404.51,152.92 L404.72,152.28 L404.92,151.63 L405.13,150.99 L405.33,150.34 L405.54,149.70 L405.74,149.05 L405.94,148.40 L406.15,147.76 L406.35,147.11 L406.55,146.47 L406.75,145.82 L406.95,145.17 L407.15,144.52 L407.34,143.88 L407.54,143.23 L407.74,142.58 L407.93,141.93 L408.13,141.28 L408.32,140.64 L408.52,139.99 L408.71,139.34 L408.91,138.69 L409.11,138.05 L409.31,137.40 L409.52,136.76 L409.73,136.12 L409.95,135.48 L410.17,134.84 L410.40,134.21 L410.64,133.58 L410.89,132.95 L411.14,132.32 L411.40,131.70 L411.66,131.08 L411.93,130.46 L412.20,129.84 L412.48,129.23 L412.76,128.61 L413.04,128.00 L413.33,127.39 L413.62,126.78 L413.90,126.16 L414.19,125.55 L414.48,124.94 L414.76,124.33 L415.05,123.71 L415.34,123.10 L415.63,122.49 L415.91,121.88 L416.20,121.26 L416.48,120.65 L416.77,120.03 L417.06,119.42 L417.34,118.81 L417.62,118.19 L417.91,117.58 L418.19,116.96 L418.47,116.35 L418.76,115.73 L419.04,115.11 L419.32,114.50 L419.60,113.88 L419.88,113.26 L420.15,112.64 L420.43,112.03 L420.71,111.41 L420.98,110.79 L421.25,110.17 L421.53,109.55 L421.80,108.93 L422.07,108.31 L422.34,107.69 L422.61,107.07 L422.87,106.45 L423.14,105.82 L423.40,105.20 L423.66,104.58 L423.92,103.95 L424.18,103.33 L424.44,102.71 L424.69,102.08 L424.95,101.45 L425.20,100.83 L425.45,100.20 L425.70,99.57 L425.95,98.95 L426.21,98.33 L426.47,97.71 L426.74,97.09 L427.01,96.48 L427.30,95.88 L427.60,95.28 L427.91,94.70 L428.24,94.12 L428.58,93.55 L428.95,92.99 L429.33,92.45 L429.73,91.91 L430.15,91.39 L430.58,90.87 L431.02,90.36 L431.48,89.86 L431.94,89.36 L432.41,88.86 L432.88,88.37 L433.35,87.88 L433.83,87.39 L434.31,86.90 L434.78,86.41 L435.26,85.91 L435.73,85.42 L436.20,84.93 L436.67,84.43 L437.14,83.94 L437.61,83.44 L438.08,82.95 L438.55,82.46 L439.02,81.97 L439.50,81.48 L439.97,80.99 L440.44,80.51 L440.92,80.02 L441.40,79.54 L441.88,79.07 L442.36,78.59 L442.84,78.12 L443.33,77.65 L443.82,77.18 L444.31,76.72 L444.81,76.27 L445.30,75.81 L445.80,75.36 L446.31,74.91 L446.81,74.46 L447.32,74.02 L447.83,73.58 L448.34,73.14 L448.85,72.70 L449.36,72.26 L449.87,71.82 L450.39,71.39 L450.90,70.95 L451.42,70.52 L451.94,70.08 L452.46,69.65 L452.98,69.22 L453.50,68.78 L454.02,68.35 L454.54,67.92 L455.06,67.49 L455.59,67.06 L456.11,66.64 L456.64,66.21 L457.16,65.78 L457.69,65.36 L458.22,64.94 L458.75,64.51 L459.28,64.09 L459.81,63.67 L460.34,63.25 L460.88,62.84 L461.41,62.42 L461.95,62.00 L462.48,61.59 L463.02,61.18 L463.56,60.77 L464.10,60.36 L464.64,59.95 L465.19,59.54 L465.73,59.14 L466.27,58.73 L466.82,58.33 L467.37,57.93 L467.91,57.53 L468.46,57.13 L469.01,56.74 L469.57,56.35 L470.12,55.95 L470.67,55.56 L471.23,55.18 L471.78,54.79 L472.34,54.41 L472.90,54.02 L473.46,53.64 L474.02,53.27 L474.59,52.89 L475.15,52.52 L475.72,52.15 L476.28,51.78 L476.85,51.41 L477.42,51.04 L477.99,50.68 L478.56,50.32 L479.14,49.96 L479.71,49.61 L480.29,49.25 L480.87,48.90 L481.45,48.56 L482.03,48.21 L482.61,47.87 L483.19,47.53 L483.78,47.19 L484.36,46.85 L484.95,46.52 L485.54,46.19 L486.13,45.87 L486.72,45.54 L487.32,45.22 L487.91,44.90 L488.51,44.59 L489.11,44.27 L489.71,43.96 L490.31,43.66 L490.91,43.35 L491.52,43.05 L492.12,42.76 L492.73,42.46 L493.34,42.17 L493.95,41.88 L494.57,41.60 L495.18,41.32 L495.80,41.04 L496.41,40.77 L497.03,40.50 L497.65,40.23 L498.28,39.96 L498.90,39.70 L499.53,39.45 L500.16,39.19 L500.79,38.94 L501.42,38.70 L502.05,38.45 L502.69,38.22 L503.32,37.98 L503.96,37.75 L504.60,37.52 L505.24,37.30 L505.89,37.08 L506.53,36.86 L507.18,36.65 L507.83,36.44 L508.48,36.24 L509.14,36.04 L509.79,35.84 L510.45,35.65 L511.11,35.46 L511.77,35.28 L512.43,35.10 L513.09,34.92 L513.76,34.75 L514.43,34.59 L515.10,34.43" stroke="#1e1e1e" stroke-width="1.15" fill="none"/>
<path d="M403.26,181.64 L403.82,181.43 L404.39,181.22 L404.95,181.00 L405.50,180.78 L406.06,180.55 L406.61,180.33 L407.16,180.10 L407.71,179.86 L408.25,179.62 L408.79,179.38 L409.33,179.14 L409.87,178.89 L410.41,178.64 L410.94,178.39 L411.47,178.14 L412.00,177.88 L412.53,177.62 L413.05,177.35 L413.58,177.08 L414.10,176.81 L414.61,176.54 L415.13,176.27 L415.64,175.99 L416.15,175.70 L416.66,175.42 L417.17,175.13 L417.67,174.84 L418.18,174.55 L418.68,174.25 L419.18,173.96 L419.67,173.65 L420.17,173.35 L420.66,173.04 L421.15,172.74 L421.64,172.42 L422.12,172.11 L422.61,171.79 L423.09,171.47 L423.57,171.15 L424.05,170.83 L424.53,170.50 L425.00,170.17 L425.47,169.84 L425.94,169.50 L426.41,169.17 L426.88,168.83 L427.34,168.49 L427.81,168.14 L428.27,167.80 L428.73,167.45 L429.19,167.10 L429.64,166.75 L430.10,166.39 L430.55,166.03 L431.00,165.67 L431.45,165.31 L431.90,164.95 L432.34,164.58 L432.79,164.21 L433.23,163.84 L433.67,163.47 L434.11,163.10 L434.54,162.72 L434.98,162.34 L435.41,161.96 L435.85,161.58 L436.28,161.20 L436.71,160.81 L437.13,160.42 L437.56,160.03 L437.98,159.64 L438.41,159.25 L438.83,158.85 L439.25,158.45 L439.67,158.05 L440.08,157.65 L440.50,157.25 L440.91,156.84 L441.32,156.44 L441.73,156.03 L442.14,155.62 L442.55,155.21 L442.96,154.80 L443.36,154.38 L443.77,153.97 L444.17,153.55 L444.57,153.13 L444.97,152.71 L445.37,152.29 L445.77,151.86 L446.17,151.44 L446.56,151.01 L446.95,150.58 L447.35,150.16 L447.74,149.73 L448.13,149.29 L448.52,148.86 L448.90,148.43 L449.29,147.99 L449.68,147.55 L450.06,147.11 L450.44,146.67 L450.82,146.23 L451.21,145.79 L451.58,145.35 L451.96,144.90 L452.34,144.46 L452.72,144.01 L453.09,143.56 L453.47,143.11 L453.84,142.66 L454.21,142.21 L454.58,141.76 L454.95,141.31 L455.32,140.86 L455.69,140.40 L456.06,139.94 L456.43,139.49 L456.79,139.03 L457.16,138.57 L457.52,138.11 L457.88,137.65 L458.24,137.19 L458.61,136.73 L458.97,136.27 L459.33,135.81 L459.68,135.34 L460.04,134.88 L460.40,134.41 L460.76,133.95 L461.11,133.48 L461.47,133.01 L461.82,132.54 L462.17,132.08 L462.53,131.61 L462.88,131.14 L463.23,130.67 L463.58,130.20 L463.93,129.72 L464.28,129.25 L464.63,128.78 L464.97,128.31 L465.32,127.83 L465.67,127.36 L466.01,126.88 L466.36,126.41 L466.70,125.93 L467.04,125.45 L467.39,124.98 L467.73,124.50 L468.07,124.02 L468.41,123.54 L468.75,123.06 L469.09,122.58 L469.43,122.10 L469.77,121.62 L470.11,121.14 L470.44,120.66 L470.78,120.18 L471.12,119.70 L471.45,119.21 L471.79,118.73 L472.12,118.24 L472.45,117.76 L472.79,117.28 L473.12,116.79 L473.45,116.31 L473.78,115.82 L474.12,115.33 L474.45,114.85 L474.78,114.36 L475.11,113.87 L475.43,113.38 L475.76,112.90 L476.09,112.41 L476.42,111.92 L476.75,111.43 L477.07,110.94 L477.40,110.45 L477.72,109.96 L478.05,109.47 L478.37,108.98 L478.70,108.49 L479.02,108.00 L479.35,107.50 L479.67,107.01 L479.99,106.52 L480.31,106.03 L480.64,105.53 L480.96,105.04 L481.28,104.55 L481.60,104.06 L481.92,103.56 L482.24,103.07 L482.56,102.57 L482.88,102.08 L483.20,101.58 L483.52,101.09 L483.83,100.60 L484.15,100.10 L484.47,99.61 L484.79,99.11 L485.10,98.61 L485.42,98.12 L485.74,97.62 L486.05,97.13 L486.37,96.63 L486.69,96.14 L487.00,95.64 L487.32,95.14 L487.63,94.65 L487.95,94.15 L488.26,93.65 L488.57,93.16 L488.89,92.66 L489.20,92.16 L489.51,91.67 L489.83,91.17 L490.14,90.67 L490.45,90.18 L490.77,89.68 L491.08,89.18 L491.39,88.69 L491.70,88.19 L492.02,87.69 L492.33,87.19 L492.64,86.70 L492.95,86.20 L493.26,85.70 L493.57,85.21 L493.88,84.71 L494.19,84.21 L494.51,83.72 L494.82,83.22 L495.13,82.72 L495.44,82.23 L495.75,81.73 L496.06,81.23 L496.37,80.74 L496.68,80.24 L496.99,79.75 L497.30,79.25 L497.61,78.76 L497.92,78.26 L498.23,77.76 L498.54,77.27 L498.85,76.77 L499.16,76.28 L499.47,75.78 L499.78,75.29 L500.09,74.80 L500.40,74.30 L500.71,73.81 L501.02,73.31 L501.33,72.82 L501.64,72.33 L501.95,71.83 L502.26,71.34 L502.57,70.85 L502.88,70.36 L503.19,69.86 L503.50,69.37 L503.81,68.88 L504.12,68.39 L504.43,67.90 L504.74,67.41 L505.06,66.92 L505.37,66.43 L505.68,65.94 L505.99,65.45 L506.30,64.96 L506.61,64.47 L506.92,63.98 L507.24,63.50 L507.55,63.01 L507.86,62.52 L508.17,62.03 L508.49,61.55 L508.80,61.06 L509.11,60.58 L509.42,60.09 L509.74,59.61 L510.05,59.12 L510.36,58.64 L510.68,58.15 L510.99,57.67 L511.31,57.19 L511.62,56.70 L511.94,56.22 L512.25,55.74 L512.57,55.26 L512.88,54.78 L513.20,54.30 L513.52,53.82 L513.83,53.34 L514.15,52.86 L514.47,52.39 L514.78,51.91 L515.10,51.43" stroke="#1e1e1e" stroke-width="1.15" fill="none"/>
</g>
<line x1="410.46" y1="169.30" x2="410.46" y2="180.30" stroke="#808080" stroke-width="0.9"/>
<path d="M409.46,178.70 L411.46,178.70 L410.46,183.30 Z" fill="#1a1a1a"/>
<line x1="456.66" y1="169.30" x2="456.66" y2="180.30" stroke="#3c3c3c" stroke-width="0.9"/>
<path d="M455.16,178.70 L458.16,178.70 L456.66,183.30 Z" fill="#1a1a1a"/>
<rect x="395.10" y="3.60" width="120.00" height="179.70" fill="none" stroke="#3a3a3a" stroke-width="1.0"/>
<path d="M395.10,169.48h2.6M515.10,169.48h-2.6M395.10,155.65h2.6M515.10,155.65h-2.6M395.10,141.83h2.6M515.10,141.83h-2.6M395.10,128.01h2.6M515.10,128.01h-2.6M395.10,114.18h2.6M515.10,114.18h-2.6M395.10,100.36h2.6M515.10,100.36h-2.6M395.10,86.54h2.6M515.10,86.54h-2.6M395.10,72.72h2.6M515.10,72.72h-2.6M395.10,58.89h2.6M515.10,58.89h-2.6M395.10,45.07h2.6M515.10,45.07h-2.6M395.10,31.25h2.6M515.10,31.25h-2.6M395.10,17.42h2.6M515.10,17.42h-2.6M407.10,183.30v-2.6M407.10,3.60v2.6M419.10,183.30v-2.6M419.10,3.60v2.6M431.10,183.30v-2.6M431.10,3.60v2.6M443.10,183.30v-2.6M443.10,3.60v2.6M455.10,183.30v-2.6M455.10,3.60v2.6M467.10,183.30v-2.6M467.10,3.60v2.6M479.10,183.30v-2.6M479.10,3.60v2.6M491.10,183.30v-2.6M491.10,3.60v2.6M503.10,183.30v-2.6M503.10,3.60v2.6" stroke="#3a3a3a" stroke-width="0.85" fill="none"/>
<g font-size="7.2" fill="#1a1a1a" stroke="#1a1a1a" stroke-width="0.22"><text x="389.20" y="185.60" text-anchor="end">0</text><text x="389.20" y="171.78" text-anchor="end">1</text><text x="389.20" y="157.95" text-anchor="end">2</text><text x="389.20" y="144.13" text-anchor="end">3</text><text x="389.20" y="130.31" text-anchor="end">4</text><text x="389.20" y="116.48" text-anchor="end">5</text><text x="389.20" y="102.66" text-anchor="end">6</text><text x="389.20" y="88.84" text-anchor="end">7</text><text x="389.20" y="75.02" text-anchor="end">8</text><text x="389.20" y="61.19" text-anchor="end">9</text><text x="389.20" y="47.37" text-anchor="end">10</text><text x="389.20" y="33.55" text-anchor="end">11</text><text x="389.20" y="19.72" text-anchor="end">12</text><text x="389.20" y="5.90" text-anchor="end">13</text><text x="396.10" y="195.00" text-anchor="middle">0</text><text x="408.10" y="195.00" text-anchor="middle">1</text><text x="420.10" y="195.00" text-anchor="middle">2</text><text x="432.10" y="195.00" text-anchor="middle">3</text><text x="444.10" y="195.00" text-anchor="middle">4</text><text x="456.10" y="195.00" text-anchor="middle">5</text><text x="468.10" y="195.00" text-anchor="middle">6</text><text x="480.10" y="195.00" text-anchor="middle">7</text><text x="492.10" y="195.00" text-anchor="middle">8</text><text x="504.10" y="195.00" text-anchor="middle">9</text><text x="516.10" y="195.00" text-anchor="middle">10</text></g>
<text x="445.10" y="209.30" font-size="7.5" textLength="19.8" lengthAdjust="spacingAndGlyphs" fill="#1a1a1a" stroke="#1a1a1a" stroke-width="0.18">r [kpc]</text>
<text transform="translate(376.30,137.50) rotate(-90)" font-size="7.20" textLength="54.8" lengthAdjust="spacingAndGlyphs" fill="#1a1a1a" stroke="#1a1a1a" stroke-width="0.18">Cumulative mass</text>
<text transform="translate(376.30,81.30) rotate(-90)" font-size="7.20"  fill="#1a1a1a" stroke="#1a1a1a" stroke-width="0.18">[</text>
<text transform="translate(376.30,78.40) rotate(-90)" font-size="7.20" textLength="6.9" lengthAdjust="spacingAndGlyphs" fill="#1a1a1a" stroke="#1a1a1a" stroke-width="0.18">10</text>
<text transform="translate(373.80,70.90) rotate(-90)" font-size="5.40" textLength="5.6" lengthAdjust="spacingAndGlyphs" fill="#1a1a1a" stroke="#1a1a1a" stroke-width="0.18">10</text>
<text transform="translate(376.30,63.60) rotate(-90)" font-size="7.20" font-style="italic" textLength="6.0" lengthAdjust="spacingAndGlyphs" fill="#1a1a1a" stroke="#1a1a1a" stroke-width="0.18">M</text>
<circle cx="374.80" cy="54.50" r="1.75" fill="none" stroke="#2a2a2a" stroke-width="0.6"/><circle cx="374.80" cy="54.50" r="0.55" fill="#222"/>
<text transform="translate(376.30,52.00) rotate(-90)" font-size="7.20"  fill="#1a1a1a" stroke="#1a1a1a" stroke-width="0.18">]</text>
<text x="401.30" y="14.70" font-size="7.3" textLength="28.9" lengthAdjust="spacingAndGlyphs" fill="#1a1a1a" stroke="#1a1a1a" stroke-width="0.18">1A10Dsq</text>
<text x="401.30" y="86.60" font-size="7.3" textLength="19.3" lengthAdjust="spacingAndGlyphs" fill="#1a1a1a" stroke="#1a1a1a" stroke-width="0.18">stellar</text>
<text x="461.70" y="149.70" font-size="7.2" textLength="11.3" lengthAdjust="spacingAndGlyphs" fill="#1a1a1a" stroke="#1a1a1a" stroke-width="0.18">DM</text>
<clipPath id="c4"><rect x="25.30" y="229.80" width="120.00" height="179.50"/></clipPath>
<g clip-path="url(#c4)">
<path d="M25.30,409.30 L25.43,408.72 L25.55,408.14 L25.67,407.56 L25.80,406.98 L25.92,406.39 L26.05,405.81 L26.17,405.22 L26.29,404.63 L26.42,404.04 L26.54,403.46 L26.67,402.86 L26.80,402.27 L26.92,401.68 L27.05,401.09 L27.18,400.49 L27.31,399.90 L27.43,399.30 L27.56,398.70 L27.69,398.11 L27.82,397.51 L27.95,396.91 L28.09,396.31 L28.22,395.71 L28.35,395.11 L28.49,394.50 L28.62,393.90 L28.76,393.30 L28.89,392.70 L29.03,392.09 L29.17,391.49 L29.31,390.89 L29.45,390.28 L29.59,389.68 L29.73,389.07 L29.88,388.47 L30.02,387.86 L30.17,387.26 L30.32,386.65 L30.46,386.04 L30.61,385.44 L30.77,384.83 L30.92,384.23 L31.07,383.62 L31.23,383.02 L31.38,382.41 L31.54,381.81 L31.70,381.20 L31.86,380.60 L32.02,379.99 L32.18,379.39 L32.35,378.79 L32.52,378.18 L32.69,377.58 L32.86,376.98 L33.03,376.38 L33.20,375.77 L33.38,375.17 L33.55,374.57 L33.73,373.97 L33.91,373.38 L34.09,372.78 L34.28,372.18 L34.46,371.58 L34.65,370.99 L34.84,370.39 L35.03,369.80 L35.23,369.21 L35.42,368.61 L35.62,368.02 L35.82,367.43 L36.02,366.84 L36.23,366.26 L36.44,365.67 L36.65,365.08 L36.86,364.50 L37.07,363.92 L37.29,363.33 L37.50,362.75 L37.73,362.17 L37.95,361.60 L38.17,361.02 L38.40,360.44 L38.63,359.87 L38.87,359.30 L39.10,358.73 L39.34,358.16 L39.58,357.59 L39.82,357.02 L40.07,356.46 L40.32,355.90 L40.57,355.34 L40.82,354.78 L41.08,354.22 L41.34,353.67 L41.60,353.11 L41.87,352.56 L42.14,352.01 L42.41,351.46 L42.68,350.92 L42.96,350.38 L43.24,349.84 L43.52,349.30 L43.81,348.76 L44.10,348.22 L44.39,347.69 L44.69,347.16 L44.99,346.63 L45.29,346.11 L45.60,345.59 L45.91,345.06 L46.22,344.55 L46.53,344.03 L46.85,343.52 L47.18,343.01 L47.50,342.50 L47.83,341.99 L48.16,341.49 L48.50,340.99 L48.84,340.49 L49.18,340.00 L49.53,339.51 L49.88,339.02 L50.23,338.53 L50.59,338.05 L50.95,337.57 L51.32,337.09 L51.69,336.62 L52.06,336.14 L52.44,335.67 L52.82,335.21 L53.20,334.75 L53.59,334.29 L53.98,333.83 L54.37,333.38 L54.77,332.92 L55.17,332.48 L55.58,332.03 L55.98,331.59 L56.39,331.15 L56.81,330.71 L57.23,330.28 L57.65,329.85 L58.07,329.42 L58.50,328.99 L58.93,328.57 L59.36,328.15 L59.80,327.74 L60.24,327.32 L60.68,326.91 L61.13,326.50 L61.57,326.10 L62.03,325.70 L62.48,325.30 L62.94,324.90 L63.40,324.51 L63.86,324.12 L64.33,323.73 L64.80,323.35 L65.27,322.97 L65.74,322.59 L66.22,322.21 L66.70,321.84 L67.18,321.47 L67.67,321.10 L68.16,320.74 L68.65,320.38 L69.14,320.02 L69.64,319.66 L70.14,319.31 L70.64,318.96 L71.14,318.61 L71.65,318.27 L72.16,317.93 L72.67,317.59 L73.18,317.25 L73.69,316.92 L74.21,316.59 L74.73,316.26 L75.25,315.94 L75.78,315.62 L76.31,315.30 L76.83,314.98 L77.37,314.67 L77.90,314.36 L78.43,314.06 L78.97,313.75 L79.51,313.45 L80.05,313.15 L80.60,312.86 L81.14,312.56 L81.69,312.27 L82.24,311.99 L82.79,311.70 L83.34,311.42 L83.90,311.14 L84.45,310.87 L85.01,310.60 L85.57,310.33 L86.13,310.06 L86.70,309.80 L87.26,309.53 L87.83,309.28 L88.40,309.02 L88.97,308.77 L89.54,308.52 L90.11,308.27 L90.69,308.03 L91.27,307.78 L91.84,307.55 L92.42,307.31 L93.00,307.08 L93.58,306.84 L94.17,306.62 L94.75,306.39 L95.34,306.16 L95.92,305.94 L96.51,305.72 L97.10,305.51 L97.69,305.29 L98.28,305.08 L98.87,304.87 L99.47,304.66 L100.06,304.46 L100.66,304.26 L101.25,304.05 L101.85,303.86 L102.45,303.66 L103.04,303.46 L103.64,303.27 L104.24,303.08 L104.84,302.89 L105.44,302.70 L106.04,302.52 L106.65,302.33 L107.25,302.15 L107.85,301.97 L108.45,301.79 L109.06,301.62 L109.66,301.44 L110.27,301.27 L110.87,301.10 L111.48,300.93 L112.08,300.76 L112.69,300.59 L113.29,300.43 L113.90,300.26 L114.51,300.10 L115.11,299.94 L115.72,299.78 L116.32,299.62 L116.93,299.46 L117.54,299.31 L118.14,299.15 L118.75,299.00 L119.35,298.85 L119.96,298.70 L120.56,298.55 L121.17,298.40 L121.77,298.25 L122.38,298.10 L122.98,297.95 L123.58,297.81 L124.19,297.66 L124.79,297.52 L125.39,297.38 L125.99,297.23 L126.59,297.09 L127.19,296.95 L127.79,296.81 L128.39,296.67 L128.99,296.53 L129.59,296.40 L130.18,296.26 L130.78,296.12 L131.37,295.98 L131.97,295.85 L132.56,295.71 L133.15,295.58 L133.74,295.44 L134.33,295.31 L134.92,295.17 L135.51,295.04 L136.10,294.90 L136.68,294.77 L137.27,294.64 L137.85,294.50 L138.43,294.37 L139.01,294.24 L139.59,294.10 L140.17,293.97 L140.75,293.84 L141.32,293.70 L141.89,293.57 L142.47,293.44 L143.04,293.30 L143.60,293.17 L144.17,293.03 L144.74,292.90 L145.30,292.76" stroke="#2a2a2a" stroke-width="1.15" fill="none" stroke-dasharray="1.1 2.0"/>
<path d="M34.30,407.24 L34.84,406.95 L35.38,406.67 L35.91,406.39 L36.44,406.10 L36.97,405.81 L37.50,405.52 L38.02,405.22 L38.55,404.93 L39.07,404.63 L39.59,404.33 L40.11,404.02 L40.62,403.72 L41.14,403.41 L41.65,403.10 L42.16,402.79 L42.67,402.47 L43.17,402.16 L43.68,401.84 L44.18,401.52 L44.68,401.19 L45.18,400.87 L45.68,400.54 L46.17,400.21 L46.67,399.88 L47.16,399.55 L47.65,399.22 L48.14,398.88 L48.62,398.54 L49.11,398.20 L49.59,397.86 L50.07,397.51 L50.55,397.17 L51.03,396.82 L51.51,396.47 L51.98,396.11 L52.45,395.76 L52.93,395.40 L53.40,395.05 L53.86,394.69 L54.33,394.32 L54.79,393.96 L55.26,393.60 L55.72,393.23 L56.18,392.86 L56.64,392.49 L57.09,392.12 L57.55,391.74 L58.00,391.37 L58.45,390.99 L58.90,390.61 L59.35,390.23 L59.80,389.85 L60.24,389.46 L60.69,389.08 L61.13,388.69 L61.57,388.30 L62.01,387.91 L62.45,387.52 L62.88,387.12 L63.32,386.73 L63.75,386.33 L64.18,385.93 L64.62,385.53 L65.04,385.13 L65.47,384.72 L65.90,384.32 L66.32,383.91 L66.75,383.50 L67.17,383.09 L67.59,382.68 L68.01,382.27 L68.43,381.86 L68.85,381.44 L69.26,381.03 L69.68,380.61 L70.09,380.19 L70.50,379.77 L70.91,379.35 L71.32,378.92 L71.73,378.50 L72.13,378.07 L72.54,377.64 L72.94,377.22 L73.35,376.79 L73.75,376.35 L74.15,375.92 L74.55,375.49 L74.95,375.05 L75.34,374.62 L75.74,374.18 L76.13,373.74 L76.53,373.30 L76.92,372.86 L77.31,372.42 L77.70,371.98 L78.09,371.53 L78.47,371.09 L78.86,370.64 L79.25,370.19 L79.63,369.74 L80.01,369.29 L80.40,368.84 L80.78,368.39 L81.16,367.94 L81.54,367.48 L81.91,367.03 L82.29,366.57 L82.67,366.11 L83.04,365.66 L83.42,365.20 L83.79,364.74 L84.16,364.28 L84.53,363.81 L84.90,363.35 L85.27,362.89 L85.64,362.42 L86.01,361.96 L86.37,361.49 L86.74,361.02 L87.10,360.55 L87.47,360.08 L87.83,359.61 L88.19,359.14 L88.55,358.67 L88.91,358.20 L89.27,357.73 L89.63,357.25 L89.98,356.78 L90.34,356.30 L90.70,355.82 L91.05,355.34 L91.41,354.87 L91.76,354.39 L92.11,353.91 L92.46,353.43 L92.81,352.94 L93.16,352.46 L93.51,351.98 L93.86,351.50 L94.21,351.01 L94.55,350.53 L94.90,350.04 L95.25,349.55 L95.59,349.07 L95.93,348.58 L96.28,348.09 L96.62,347.60 L96.96,347.11 L97.30,346.62 L97.64,346.13 L97.98,345.64 L98.32,345.15 L98.66,344.65 L99.00,344.16 L99.34,343.67 L99.67,343.17 L100.01,342.68 L100.34,342.18 L100.68,341.68 L101.01,341.19 L101.35,340.69 L101.68,340.19 L102.01,339.69 L102.34,339.19 L102.67,338.70 L103.01,338.20 L103.34,337.70 L103.66,337.19 L103.99,336.69 L104.32,336.19 L104.65,335.69 L104.98,335.19 L105.30,334.68 L105.63,334.18 L105.96,333.68 L106.28,333.17 L106.61,332.67 L106.93,332.17 L107.26,331.66 L107.58,331.15 L107.90,330.65 L108.23,330.14 L108.55,329.64 L108.87,329.13 L109.19,328.62 L109.51,328.12 L109.84,327.61 L110.16,327.10 L110.48,326.59 L110.80,326.08 L111.12,325.58 L111.44,325.07 L111.75,324.56 L112.07,324.05 L112.39,323.54 L112.71,323.03 L113.03,322.52 L113.34,322.01 L113.66,321.50 L113.98,320.99 L114.29,320.48 L114.61,319.97 L114.93,319.46 L115.24,318.95 L115.56,318.44 L115.87,317.93 L116.19,317.41 L116.50,316.90 L116.82,316.39 L117.13,315.88 L117.44,315.37 L117.76,314.86 L118.07,314.35 L118.39,313.83 L118.70,313.32 L119.01,312.81 L119.33,312.30 L119.64,311.79 L119.95,311.28 L120.27,310.77 L120.58,310.25 L120.89,309.74 L121.20,309.23 L121.52,308.72 L121.83,308.21 L122.14,307.70 L122.45,307.19 L122.77,306.68 L123.08,306.16 L123.39,305.65 L123.70,305.14 L124.01,304.63 L124.33,304.12 L124.64,303.61 L124.95,303.10 L125.26,302.59 L125.57,302.08 L125.89,301.57 L126.20,301.06 L126.51,300.55 L126.82,300.05 L127.14,299.54 L127.45,299.03 L127.76,298.52 L128.07,298.01 L128.39,297.51 L128.70,297.00 L129.01,296.49 L129.32,295.98 L129.64,295.48 L129.95,294.97 L130.26,294.47 L130.58,293.96 L130.89,293.46 L131.21,292.95 L131.52,292.45 L131.83,291.94 L132.15,291.44 L132.46,290.94 L132.78,290.43 L133.09,289.93 L133.41,289.43 L133.72,288.93 L134.04,288.43 L134.35,287.92 L134.67,287.42 L134.99,286.92 L135.30,286.42 L135.62,285.93 L135.94,285.43 L136.26,284.93 L136.57,284.43 L136.89,283.94 L137.21,283.44 L137.53,282.94 L137.85,282.45 L138.17,281.95 L138.49,281.46 L138.81,280.97 L139.13,280.47 L139.45,279.98 L139.77,279.49 L140.09,279.00 L140.42,278.51 L140.74,278.02 L141.06,277.53 L141.39,277.04 L141.71,276.55 L142.03,276.06 L142.36,275.58 L142.68,275.09 L143.01,274.60 L143.34,274.12 L143.66,273.64 L143.99,273.15 L144.32,272.67 L144.64,272.19 L144.97,271.71 L145.30,271.23" stroke="#2a2a2a" stroke-width="1.15" fill="none" stroke-dasharray="1.1 2.0"/>
<path d="M25.30,409.30 L25.44,408.68 L25.59,408.06 L25.73,407.43 L25.86,406.81 L26.00,406.18 L26.14,405.56 L26.27,404.93 L26.41,404.30 L26.54,403.67 L26.67,403.04 L26.80,402.40 L26.93,401.77 L27.05,401.14 L27.18,400.50 L27.31,399.86 L27.43,399.22 L27.56,398.58 L27.68,397.94 L27.80,397.30 L27.92,396.66 L28.04,396.02 L28.16,395.37 L28.28,394.73 L28.40,394.09 L28.52,393.44 L28.64,392.79 L28.76,392.15 L28.88,391.50 L28.99,390.85 L29.11,390.20 L29.23,389.55 L29.34,388.90 L29.46,388.25 L29.58,387.60 L29.69,386.95 L29.81,386.29 L29.93,385.64 L30.04,384.99 L30.16,384.34 L30.28,383.68 L30.40,383.03 L30.51,382.37 L30.63,381.72 L30.75,381.07 L30.87,380.41 L30.99,379.76 L31.11,379.10 L31.23,378.45 L31.35,377.79 L31.47,377.14 L31.60,376.48 L31.72,375.83 L31.85,375.17 L31.97,374.52 L32.10,373.86 L32.22,373.21 L32.35,372.56 L32.48,371.90 L32.61,371.25 L32.75,370.59 L32.88,369.94 L33.01,369.29 L33.15,368.64 L33.29,367.98 L33.42,367.33 L33.56,366.68 L33.71,366.03 L33.85,365.38 L33.99,364.73 L34.14,364.08 L34.29,363.43 L34.44,362.79 L34.59,362.14 L34.74,361.49 L34.90,360.85 L35.05,360.20 L35.21,359.56 L35.38,358.91 L35.54,358.27 L35.70,357.63 L35.87,356.99 L36.04,356.35 L36.21,355.71 L36.39,355.07 L36.56,354.44 L36.74,353.80 L36.93,353.17 L37.11,352.53 L37.30,351.90 L37.49,351.27 L37.68,350.64 L37.87,350.01 L38.07,349.38 L38.27,348.76 L38.47,348.13 L38.68,347.51 L38.89,346.88 L39.10,346.26 L39.31,345.64 L39.53,345.02 L39.75,344.41 L39.98,343.79 L40.20,343.18 L40.44,342.57 L40.67,341.96 L40.91,341.35 L41.15,340.74 L41.39,340.14 L41.64,339.53 L41.89,338.93 L42.15,338.33 L42.40,337.73 L42.67,337.13 L42.93,336.54 L43.20,335.95 L43.48,335.36 L43.75,334.77 L44.03,334.18 L44.32,333.59 L44.61,333.01 L44.90,332.43 L45.20,331.85 L45.50,331.27 L45.81,330.70 L46.12,330.13 L46.43,329.56 L46.75,328.99 L47.07,328.42 L47.40,327.86 L47.73,327.30 L48.07,326.74 L48.41,326.18 L48.76,325.63 L49.11,325.08 L49.46,324.53 L49.82,323.98 L50.19,323.44 L50.56,322.90 L50.93,322.36 L51.31,321.83 L51.69,321.29 L52.08,320.76 L52.47,320.24 L52.86,319.72 L53.26,319.20 L53.67,318.68 L54.08,318.17 L54.49,317.66 L54.91,317.15 L55.33,316.65 L55.76,316.16 L56.19,315.66 L56.62,315.17 L57.06,314.69 L57.50,314.20 L57.95,313.73 L58.40,313.25 L58.86,312.78 L59.32,312.32 L59.78,311.86 L60.25,311.40 L60.73,310.95 L61.20,310.50 L61.68,310.06 L62.17,309.62 L62.66,309.19 L63.15,308.76 L63.65,308.34 L64.15,307.92 L64.65,307.51 L65.16,307.10 L65.68,306.70 L66.19,306.30 L66.72,305.91 L67.24,305.52 L67.77,305.14 L68.30,304.77 L68.84,304.40 L69.38,304.03 L69.92,303.68 L70.47,303.33 L71.03,302.98 L71.58,302.64 L72.14,302.31 L72.70,301.98 L73.27,301.66 L73.84,301.34 L74.42,301.04 L74.99,300.73 L75.58,300.44 L76.16,300.14 L76.75,299.86 L77.34,299.58 L77.93,299.30 L78.53,299.03 L79.12,298.76 L79.73,298.50 L80.33,298.25 L80.94,297.99 L81.54,297.75 L82.15,297.51 L82.77,297.27 L83.38,297.03 L84.00,296.80 L84.62,296.58 L85.24,296.35 L85.86,296.14 L86.48,295.92 L87.11,295.71 L87.73,295.50 L88.36,295.30 L88.99,295.10 L89.62,294.90 L90.25,294.70 L90.88,294.51 L91.52,294.32 L92.15,294.14 L92.79,293.96 L93.42,293.78 L94.06,293.60 L94.70,293.42 L95.34,293.25 L95.98,293.08 L96.62,292.92 L97.26,292.76 L97.91,292.59 L98.55,292.44 L99.20,292.28 L99.84,292.13 L100.49,291.98 L101.13,291.83 L101.78,291.68 L102.43,291.54 L103.08,291.40 L103.73,291.26 L104.38,291.12 L105.03,290.99 L105.68,290.86 L106.33,290.72 L106.98,290.60 L107.64,290.47 L108.29,290.34 L108.94,290.22 L109.60,290.10 L110.25,289.98 L110.90,289.86 L111.56,289.75 L112.21,289.63 L112.87,289.52 L113.52,289.41 L114.18,289.30 L114.83,289.19 L115.49,289.08 L116.14,288.98 L116.80,288.87 L117.46,288.77 L118.11,288.67 L118.77,288.57 L119.42,288.47 L120.08,288.37 L120.73,288.27 L121.39,288.17 L122.04,288.08 L122.70,287.98 L123.35,287.89 L124.01,287.80 L124.66,287.70 L125.32,287.61 L125.97,287.52 L126.62,287.43 L127.28,287.34 L127.93,287.25 L128.58,287.17 L129.23,287.08 L129.88,286.99 L130.54,286.90 L131.19,286.82 L131.83,286.73 L132.48,286.64 L133.13,286.56 L133.78,286.47 L134.43,286.38 L135.07,286.30 L135.72,286.21 L136.36,286.13 L137.01,286.04 L137.65,285.95 L138.29,285.87 L138.94,285.78 L139.58,285.69 L140.22,285.61 L140.86,285.52 L141.49,285.43 L142.13,285.34 L142.77,285.25 L143.40,285.16 L144.04,285.07 L144.67,284.98 L145.30,284.89" stroke="#161616" stroke-width="0.92" fill="none"/>
<path d="M34.30,407.23 L34.90,406.85 L35.50,406.46 L36.09,406.07 L36.68,405.67 L37.26,405.27 L37.84,404.86 L38.41,404.45 L38.98,404.03 L39.55,403.61 L40.11,403.19 L40.66,402.76 L41.22,402.32 L41.77,401.89 L42.31,401.44 L42.85,401.00 L43.39,400.55 L43.92,400.09 L44.45,399.64 L44.97,399.17 L45.50,398.71 L46.01,398.24 L46.53,397.76 L47.04,397.29 L47.55,396.81 L48.05,396.32 L48.55,395.84 L49.05,395.34 L49.54,394.85 L50.03,394.35 L50.52,393.85 L51.01,393.35 L51.49,392.84 L51.97,392.33 L52.44,391.82 L52.92,391.30 L53.39,390.78 L53.85,390.26 L54.32,389.74 L54.78,389.21 L55.24,388.68 L55.69,388.15 L56.15,387.62 L56.60,387.08 L57.05,386.54 L57.49,386.00 L57.94,385.46 L58.38,384.91 L58.82,384.36 L59.26,383.81 L59.69,383.26 L60.13,382.71 L60.56,382.15 L60.99,381.59 L61.41,381.03 L61.84,380.47 L62.26,379.91 L62.69,379.35 L63.11,378.78 L63.52,378.21 L63.94,377.64 L64.36,377.07 L64.77,376.50 L65.18,375.93 L65.59,375.36 L66.00,374.78 L66.41,374.21 L66.82,373.63 L67.23,373.05 L67.63,372.47 L68.03,371.90 L68.44,371.32 L68.84,370.74 L69.24,370.15 L69.64,369.57 L70.04,368.99 L70.44,368.41 L70.83,367.82 L71.23,367.24 L71.63,366.66 L72.02,366.07 L72.42,365.49 L72.81,364.90 L73.20,364.31 L73.59,363.73 L73.98,363.14 L74.37,362.55 L74.76,361.96 L75.15,361.37 L75.54,360.78 L75.93,360.19 L76.31,359.60 L76.70,359.01 L77.08,358.42 L77.46,357.83 L77.85,357.24 L78.23,356.64 L78.61,356.05 L78.99,355.46 L79.37,354.86 L79.75,354.27 L80.13,353.67 L80.50,353.08 L80.88,352.48 L81.26,351.88 L81.63,351.29 L82.01,350.69 L82.38,350.09 L82.75,349.49 L83.12,348.89 L83.50,348.29 L83.87,347.69 L84.24,347.09 L84.61,346.49 L84.97,345.89 L85.34,345.29 L85.71,344.69 L86.08,344.09 L86.44,343.48 L86.81,342.88 L87.17,342.28 L87.54,341.67 L87.90,341.07 L88.26,340.47 L88.62,339.86 L88.98,339.25 L89.34,338.65 L89.70,338.04 L90.06,337.44 L90.42,336.83 L90.78,336.22 L91.14,335.61 L91.49,335.01 L91.85,334.40 L92.20,333.79 L92.56,333.18 L92.91,332.57 L93.27,331.96 L93.62,331.35 L93.97,330.74 L94.32,330.13 L94.67,329.51 L95.02,328.90 L95.37,328.29 L95.72,327.68 L96.07,327.07 L96.42,326.45 L96.77,325.84 L97.12,325.23 L97.46,324.61 L97.81,324.00 L98.15,323.38 L98.50,322.77 L98.84,322.15 L99.18,321.54 L99.53,320.92 L99.87,320.30 L100.21,319.69 L100.55,319.07 L100.89,318.45 L101.24,317.83 L101.58,317.22 L101.91,316.60 L102.25,315.98 L102.59,315.36 L102.93,314.74 L103.27,314.12 L103.60,313.50 L103.94,312.88 L104.28,312.26 L104.61,311.64 L104.95,311.02 L105.28,310.40 L105.61,309.78 L105.95,309.16 L106.28,308.54 L106.61,307.91 L106.95,307.29 L107.28,306.67 L107.61,306.05 L107.94,305.42 L108.27,304.80 L108.60,304.18 L108.93,303.55 L109.26,302.93 L109.59,302.30 L109.92,301.68 L110.24,301.06 L110.57,300.43 L110.90,299.81 L111.22,299.18 L111.55,298.55 L111.88,297.93 L112.20,297.30 L112.53,296.68 L112.85,296.05 L113.18,295.42 L113.50,294.80 L113.82,294.17 L114.15,293.54 L114.47,292.92 L114.79,292.29 L115.11,291.66 L115.44,291.03 L115.76,290.41 L116.08,289.78 L116.40,289.15 L116.72,288.52 L117.04,287.89 L117.36,287.26 L117.68,286.63 L118.00,286.00 L118.32,285.38 L118.63,284.75 L118.95,284.12 L119.27,283.49 L119.59,282.86 L119.90,282.23 L120.22,281.60 L120.54,280.97 L120.85,280.34 L121.17,279.71 L121.49,279.07 L121.80,278.44 L122.12,277.81 L122.43,277.18 L122.75,276.55 L123.06,275.92 L123.38,275.29 L123.69,274.66 L124.00,274.02 L124.32,273.39 L124.63,272.76 L124.94,272.13 L125.26,271.50 L125.57,270.87 L125.88,270.23 L126.19,269.60 L126.51,268.97 L126.82,268.34 L127.13,267.70 L127.44,267.07 L127.75,266.44 L128.06,265.81 L128.37,265.17 L128.68,264.54 L129.00,263.91 L129.31,263.27 L129.62,262.64 L129.93,262.01 L130.24,261.38 L130.55,260.74 L130.85,260.11 L131.16,259.48 L131.47,258.84 L131.78,258.21 L132.09,257.58 L132.40,256.94 L132.71,256.31 L133.02,255.68 L133.33,255.04 L133.63,254.41 L133.94,253.78 L134.25,253.14 L134.56,252.51 L134.87,251.88 L135.17,251.24 L135.48,250.61 L135.79,249.97 L136.10,249.34 L136.40,248.71 L136.71,248.07 L137.02,247.44 L137.33,246.81 L137.63,246.17 L137.94,245.54 L138.25,244.91 L138.55,244.27 L138.86,243.64 L139.17,243.01 L139.47,242.37 L139.78,241.74 L140.09,241.11 L140.39,240.47 L140.70,239.84 L141.01,239.21 L141.31,238.58 L141.62,237.94 L141.93,237.31 L142.23,236.68 L142.54,236.04 L142.85,235.41 L143.15,234.78 L143.46,234.15 L143.77,233.51 L144.07,232.88 L144.38,232.25 L144.69,231.62 L145.00,230.99 L145.30,230.35" stroke="#161616" stroke-width="0.92" fill="none"/>
<path d="M25.31,409.30 L25.41,408.61 L25.51,407.92 L25.62,407.24 L25.72,406.55 L25.83,405.86 L25.93,405.17 L26.04,404.48 L26.15,403.79 L26.26,403.10 L26.37,402.40 L26.48,401.71 L26.60,401.02 L26.71,400.33 L26.83,399.64 L26.95,398.95 L27.06,398.25 L27.18,397.56 L27.31,396.87 L27.43,396.18 L27.55,395.48 L27.68,394.79 L27.80,394.10 L27.93,393.41 L28.06,392.71 L28.19,392.02 L28.32,391.33 L28.46,390.64 L28.59,389.94 L28.73,389.25 L28.86,388.56 L29.00,387.87 L29.14,387.17 L29.29,386.48 L29.43,385.79 L29.58,385.10 L29.72,384.41 L29.87,383.72 L30.02,383.02 L30.17,382.33 L30.33,381.64 L30.48,380.95 L30.64,380.26 L30.79,379.57 L30.95,378.88 L31.12,378.20 L31.28,377.51 L31.44,376.82 L31.61,376.13 L31.78,375.44 L31.95,374.76 L32.12,374.07 L32.30,373.38 L32.47,372.70 L32.65,372.01 L32.83,371.33 L33.01,370.65 L33.19,369.96 L33.38,369.28 L33.56,368.60 L33.75,367.92 L33.94,367.24 L34.14,366.56 L34.33,365.88 L34.53,365.20 L34.73,364.52 L34.93,363.84 L35.13,363.16 L35.34,362.49 L35.54,361.81 L35.75,361.14 L35.96,360.46 L36.18,359.79 L36.39,359.12 L36.61,358.45 L36.83,357.78 L37.05,357.11 L37.27,356.44 L37.50,355.77 L37.73,355.11 L37.96,354.44 L38.19,353.78 L38.43,353.11 L38.67,352.45 L38.91,351.79 L39.15,351.13 L39.39,350.47 L39.64,349.81 L39.89,349.15 L40.14,348.49 L40.39,347.84 L40.65,347.19 L40.91,346.53 L41.17,345.88 L41.44,345.23 L41.70,344.58 L41.97,343.93 L42.24,343.29 L42.52,342.64 L42.79,342.00 L43.07,341.35 L43.35,340.71 L43.64,340.07 L43.92,339.43 L44.21,338.79 L44.51,338.16 L44.80,337.52 L45.10,336.89 L45.40,336.26 L45.70,335.63 L46.01,335.00 L46.31,334.37 L46.63,333.75 L46.94,333.12 L47.26,332.50 L47.57,331.88 L47.90,331.26 L48.22,330.64 L48.55,330.02 L48.88,329.41 L49.21,328.79 L49.55,328.18 L49.89,327.57 L50.23,326.96 L50.58,326.36 L50.92,325.75 L51.28,325.15 L51.63,324.55 L51.99,323.95 L52.35,323.35 L52.71,322.75 L53.07,322.16 L53.44,321.57 L53.81,320.98 L54.19,320.39 L54.56,319.80 L54.94,319.21 L55.33,318.63 L55.71,318.05 L56.10,317.47 L56.49,316.89 L56.88,316.31 L57.28,315.74 L57.68,315.17 L58.08,314.60 L58.48,314.03 L58.89,313.46 L59.30,312.89 L59.71,312.33 L60.13,311.77 L60.55,311.21 L60.97,310.65 L61.39,310.10 L61.81,309.54 L62.24,308.99 L62.67,308.44 L63.11,307.89 L63.54,307.34 L63.98,306.80 L64.42,306.26 L64.86,305.72 L65.31,305.18 L65.76,304.64 L66.21,304.11 L66.66,303.57 L67.12,303.04 L67.57,302.51 L68.04,301.99 L68.50,301.46 L68.96,300.94 L69.43,300.42 L69.90,299.90 L70.37,299.38 L70.85,298.87 L71.33,298.36 L71.80,297.85 L72.29,297.34 L72.77,296.83 L73.26,296.33 L73.75,295.82 L74.24,295.32 L74.73,294.82 L75.23,294.33 L75.72,293.83 L76.22,293.34 L76.72,292.85 L77.23,292.36 L77.74,291.88 L78.24,291.39 L78.75,290.91 L79.27,290.43 L79.78,289.96 L80.30,289.48 L80.82,289.01 L81.34,288.54 L81.86,288.07 L82.39,287.60 L82.92,287.14 L83.45,286.68 L83.98,286.22 L84.51,285.76 L85.05,285.30 L85.58,284.85 L86.12,284.40 L86.67,283.95 L87.21,283.50 L87.75,283.06 L88.30,282.62 L88.85,282.18 L89.40,281.74 L89.96,281.30 L90.51,280.87 L91.07,280.44 L91.63,280.01 L92.19,279.58 L92.75,279.16 L93.31,278.74 L93.88,278.32 L94.45,277.90 L95.02,277.48 L95.59,277.07 L96.16,276.66 L96.74,276.25 L97.31,275.85 L97.89,275.44 L98.47,275.04 L99.05,274.64 L99.64,274.25 L100.22,273.85 L100.81,273.46 L101.40,273.07 L101.99,272.69 L102.58,272.30 L103.17,271.92 L103.77,271.54 L104.37,271.16 L104.96,270.79 L105.56,270.42 L106.17,270.05 L106.77,269.68 L107.37,269.31 L107.98,268.95 L108.59,268.59 L109.20,268.23 L109.81,267.88 L110.42,267.52 L111.03,267.17 L111.65,266.83 L112.26,266.48 L112.88,266.14 L113.50,265.80 L114.12,265.46 L114.74,265.12 L115.36,264.79 L115.99,264.46 L116.61,264.13 L117.24,263.81 L117.87,263.49 L118.50,263.17 L119.13,262.85 L119.76,262.53 L120.40,262.22 L121.03,261.91 L121.67,261.60 L122.31,261.30 L122.95,261.00 L123.59,260.70 L124.23,260.40 L124.87,260.10 L125.51,259.81 L126.16,259.52 L126.80,259.24 L127.45,258.95 L128.10,258.67 L128.75,258.39 L129.40,258.12 L130.05,257.84 L130.70,257.57 L131.35,257.31 L132.01,257.04 L132.66,256.78 L133.32,256.52 L133.98,256.26 L134.64,256.01 L135.30,255.75 L135.96,255.51 L136.62,255.26 L137.28,255.02 L137.95,254.78 L138.61,254.54 L139.27,254.30 L139.94,254.07 L140.61,253.84 L141.28,253.61 L141.95,253.39 L142.61,253.17 L143.29,252.95 L143.96,252.73 L144.63,252.52 L145.30,252.31" stroke="#1e1e1e" stroke-width="1.15" fill="none"/>
<path d="M34.30,407.23 L34.89,406.85 L35.48,406.45 L36.06,406.06 L36.64,405.66 L37.21,405.25 L37.78,404.85 L38.35,404.44 L38.92,404.02 L39.48,403.60 L40.04,403.18 L40.60,402.76 L41.15,402.33 L41.70,401.90 L42.25,401.46 L42.79,401.02 L43.34,400.58 L43.87,400.14 L44.41,399.69 L44.94,399.24 L45.47,398.79 L46.00,398.33 L46.53,397.87 L47.05,397.41 L47.57,396.94 L48.09,396.47 L48.60,396.00 L49.11,395.52 L49.62,395.05 L50.13,394.57 L50.63,394.08 L51.13,393.60 L51.63,393.11 L52.13,392.62 L52.62,392.13 L53.11,391.63 L53.60,391.13 L54.09,390.63 L54.57,390.13 L55.05,389.62 L55.53,389.11 L56.01,388.60 L56.49,388.09 L56.96,387.58 L57.43,387.06 L57.90,386.54 L58.36,386.02 L58.83,385.50 L59.29,384.97 L59.75,384.44 L60.21,383.91 L60.67,383.38 L61.12,382.85 L61.57,382.31 L62.02,381.78 L62.47,381.24 L62.92,380.70 L63.36,380.16 L63.80,379.61 L64.24,379.07 L64.68,378.52 L65.12,377.97 L65.55,377.42 L65.99,376.87 L66.42,376.32 L66.85,375.77 L67.28,375.21 L67.71,374.65 L68.13,374.10 L68.56,373.54 L68.98,372.98 L69.40,372.42 L69.82,371.85 L70.24,371.29 L70.65,370.72 L71.07,370.16 L71.48,369.59 L71.89,369.02 L72.30,368.46 L72.71,367.89 L73.12,367.32 L73.53,366.75 L73.93,366.17 L74.34,365.60 L74.74,365.03 L75.14,364.45 L75.54,363.88 L75.94,363.30 L76.34,362.72 L76.74,362.14 L77.13,361.56 L77.53,360.98 L77.92,360.40 L78.31,359.82 L78.70,359.24 L79.09,358.66 L79.48,358.07 L79.87,357.49 L80.25,356.90 L80.64,356.31 L81.02,355.73 L81.40,355.14 L81.78,354.55 L82.16,353.96 L82.54,353.37 L82.92,352.78 L83.30,352.19 L83.67,351.60 L84.05,351.00 L84.42,350.41 L84.79,349.81 L85.16,349.22 L85.53,348.62 L85.90,348.03 L86.27,347.43 L86.64,346.83 L87.01,346.23 L87.37,345.64 L87.74,345.04 L88.10,344.44 L88.46,343.83 L88.82,343.23 L89.18,342.63 L89.54,342.03 L89.90,341.42 L90.26,340.82 L90.62,340.22 L90.97,339.61 L91.33,339.01 L91.68,338.40 L92.04,337.79 L92.39,337.19 L92.74,336.58 L93.09,335.97 L93.45,335.36 L93.80,334.75 L94.14,334.14 L94.49,333.53 L94.84,332.92 L95.19,332.31 L95.53,331.70 L95.88,331.09 L96.22,330.47 L96.57,329.86 L96.91,329.25 L97.25,328.63 L97.59,328.02 L97.93,327.41 L98.27,326.79 L98.61,326.18 L98.95,325.56 L99.29,324.94 L99.63,324.33 L99.97,323.71 L100.30,323.09 L100.64,322.48 L100.97,321.86 L101.31,321.24 L101.64,320.62 L101.98,320.00 L102.31,319.38 L102.64,318.76 L102.98,318.14 L103.31,317.52 L103.64,316.90 L103.97,316.28 L104.30,315.66 L104.63,315.04 L104.96,314.42 L105.29,313.80 L105.62,313.17 L105.94,312.55 L106.27,311.93 L106.60,311.31 L106.92,310.69 L107.25,310.06 L107.58,309.44 L107.90,308.82 L108.23,308.19 L108.55,307.57 L108.88,306.95 L109.20,306.32 L109.53,305.70 L109.85,305.07 L110.17,304.45 L110.50,303.82 L110.82,303.20 L111.14,302.58 L111.46,301.95 L111.78,301.33 L112.11,300.70 L112.43,300.08 L112.75,299.45 L113.07,298.83 L113.39,298.20 L113.71,297.58 L114.03,296.95 L114.35,296.32 L114.67,295.70 L114.99,295.07 L115.31,294.45 L115.63,293.82 L115.95,293.20 L116.27,292.57 L116.59,291.95 L116.91,291.32 L117.23,290.70 L117.55,290.07 L117.87,289.45 L118.19,288.82 L118.51,288.20 L118.83,287.57 L119.15,286.95 L119.46,286.32 L119.78,285.70 L120.10,285.07 L120.42,284.45 L120.74,283.83 L121.06,283.20 L121.38,282.58 L121.70,281.95 L122.02,281.33 L122.33,280.70 L122.65,280.08 L122.97,279.46 L123.29,278.83 L123.61,278.21 L123.92,277.58 L124.24,276.96 L124.56,276.33 L124.87,275.71 L125.19,275.08 L125.51,274.46 L125.82,273.84 L126.14,273.21 L126.45,272.58 L126.77,271.96 L127.08,271.33 L127.40,270.71 L127.71,270.08 L128.02,269.46 L128.34,268.83 L128.65,268.20 L128.96,267.58 L129.27,266.95 L129.59,266.32 L129.90,265.70 L130.21,265.07 L130.52,264.44 L130.83,263.82 L131.13,263.19 L131.44,262.56 L131.75,261.93 L132.06,261.30 L132.36,260.67 L132.67,260.04 L132.97,259.41 L133.28,258.78 L133.58,258.15 L133.89,257.52 L134.19,256.89 L134.49,256.26 L134.79,255.62 L135.09,254.99 L135.39,254.36 L135.69,253.73 L135.99,253.09 L136.28,252.46 L136.58,251.82 L136.88,251.19 L137.17,250.55 L137.47,249.92 L137.76,249.28 L138.05,248.64 L138.34,248.00 L138.63,247.37 L138.92,246.73 L139.21,246.09 L139.50,245.45 L139.79,244.81 L140.07,244.17 L140.36,243.53 L140.64,242.88 L140.92,242.24 L141.21,241.60 L141.49,240.95 L141.77,240.31 L142.05,239.67 L142.32,239.02 L142.60,238.37 L142.87,237.73 L143.15,237.08 L143.42,236.43 L143.69,235.78 L143.96,235.13 L144.23,234.48 L144.50,233.83 L144.77,233.18 L145.04,232.53 L145.30,231.87" stroke="#1e1e1e" stroke-width="1.15" fill="none"/>
</g>
<line x1="41.14" y1="395.30" x2="41.14" y2="406.30" stroke="#808080" stroke-width="0.9"/>
<path d="M40.14,404.70 L42.14,404.70 L41.14,409.30 Z" fill="#1a1a1a"/>
<line x1="87.46" y1="395.30" x2="87.46" y2="406.30" stroke="#3c3c3c" stroke-width="0.9"/>
<path d="M85.96,404.70 L88.96,404.70 L87.46,409.30 Z" fill="#1a1a1a"/>
<rect x="25.30" y="229.80" width="120.00" height="179.50" fill="none" stroke="#3a3a3a" stroke-width="1.0"/>
<path d="M25.30,395.49h2.6M145.30,395.49h-2.6M25.30,381.68h2.6M145.30,381.68h-2.6M25.30,367.88h2.6M145.30,367.88h-2.6M25.30,354.07h2.6M145.30,354.07h-2.6M25.30,340.26h2.6M145.30,340.26h-2.6M25.30,326.45h2.6M145.30,326.45h-2.6M25.30,312.65h2.6M145.30,312.65h-2.6M25.30,298.84h2.6M145.30,298.84h-2.6M25.30,285.03h2.6M145.30,285.03h-2.6M25.30,271.22h2.6M145.30,271.22h-2.6M25.30,257.42h2.6M145.30,257.42h-2.6M25.30,243.61h2.6M145.30,243.61h-2.6M37.30,409.30v-2.6M37.30,229.80v2.6M49.30,409.30v-2.6M49.30,229.80v2.6M61.30,409.30v-2.6M61.30,229.80v2.6M73.30,409.30v-2.6M73.30,229.80v2.6M85.30,409.30v-2.6M85.30,229.80v2.6M97.30,409.30v-2.6M97.30,229.80v2.6M109.30,409.30v-2.6M109.30,229.80v2.6M121.30,409.30v-2.6M121.30,229.80v2.6M133.30,409.30v-2.6M133.30,229.80v2.6" stroke="#3a3a3a" stroke-width="0.85" fill="none"/>
<g font-size="7.2" fill="#1a1a1a" stroke="#1a1a1a" stroke-width="0.22"><text x="19.40" y="411.60" text-anchor="end">0</text><text x="19.40" y="397.79" text-anchor="end">1</text><text x="19.40" y="383.98" text-anchor="end">2</text><text x="19.40" y="370.18" text-anchor="end">3</text><text x="19.40" y="356.37" text-anchor="end">4</text><text x="19.40" y="342.56" text-anchor="end">5</text><text x="19.40" y="328.75" text-anchor="end">6</text><text x="19.40" y="314.95" text-anchor="end">7</text><text x="19.40" y="301.14" text-anchor="end">8</text><text x="19.40" y="287.33" text-anchor="end">9</text><text x="19.40" y="273.52" text-anchor="end">10</text><text x="19.40" y="259.72" text-anchor="end">11</text><text x="19.40" y="245.91" text-anchor="end">12</text><text x="19.40" y="232.10" text-anchor="end">13</text><text x="26.30" y="421.00" text-anchor="middle">0</text><text x="38.30" y="421.00" text-anchor="middle">1</text><text x="50.30" y="421.00" text-anchor="middle">2</text><text x="62.30" y="421.00" text-anchor="middle">3</text><text x="74.30" y="421.00" text-anchor="middle">4</text><text x="86.30" y="421.00" text-anchor="middle">5</text><text x="98.30" y="421.00" text-anchor="middle">6</text><text x="110.30" y="421.00" text-anchor="middle">7</text><text x="122.30" y="421.00" text-anchor="middle">8</text><text x="134.30" y="421.00" text-anchor="middle">9</text><text x="146.30" y="421.00" text-anchor="middle">10</text></g>
<text x="75.30" y="435.30" font-size="7.5" textLength="19.8" lengthAdjust="spacingAndGlyphs" fill="#1a1a1a" stroke="#1a1a1a" stroke-width="0.18">r [kpc]</text>
<text transform="translate(6.50,363.70) rotate(-90)" font-size="7.20" textLength="54.8" lengthAdjust="spacingAndGlyphs" fill="#1a1a1a" stroke="#1a1a1a" stroke-width="0.18">Cumulative mass</text>
<text transform="translate(6.50,307.50) rotate(-90)" font-size="7.20"  fill="#1a1a1a" stroke="#1a1a1a" stroke-width="0.18">[</text>
<text transform="translate(6.50,304.60) rotate(-90)" font-size="7.20" textLength="6.9" lengthAdjust="spacingAndGlyphs" fill="#1a1a1a" stroke="#1a1a1a" stroke-width="0.18">10</text>
<text transform="translate(4.00,297.10) rotate(-90)" font-size="5.40" textLength="5.6" lengthAdjust="spacingAndGlyphs" fill="#1a1a1a" stroke="#1a1a1a" stroke-width="0.18">10</text>
<text transform="translate(6.50,289.80) rotate(-90)" font-size="7.20" font-style="italic" textLength="6.0" lengthAdjust="spacingAndGlyphs" fill="#1a1a1a" stroke="#1a1a1a" stroke-width="0.18">M</text>
<circle cx="5.00" cy="280.70" r="1.75" fill="none" stroke="#2a2a2a" stroke-width="0.6"/><circle cx="5.00" cy="280.70" r="0.55" fill="#222"/>
<text transform="translate(6.50,278.20) rotate(-90)" font-size="7.20"  fill="#1a1a1a" stroke="#1a1a1a" stroke-width="0.18">]</text>
<text x="31.50" y="240.90" font-size="7.3" textLength="30.2" lengthAdjust="spacingAndGlyphs" fill="#1a1a1a" stroke="#1a1a1a" stroke-width="0.18">1A10Bsm</text>
<text x="31.50" y="312.80" font-size="7.3" textLength="19.3" lengthAdjust="spacingAndGlyphs" fill="#1a1a1a" stroke="#1a1a1a" stroke-width="0.18">stellar</text>
<text x="91.90" y="375.90" font-size="7.2" textLength="11.3" lengthAdjust="spacingAndGlyphs" fill="#1a1a1a" stroke="#1a1a1a" stroke-width="0.18">DM</text>
<clipPath id="c5"><rect x="210.40" y="229.80" width="120.00" height="179.50"/></clipPath>
<g clip-path="url(#c5)">
<path d="M210.40,409.30 L210.52,408.69 L210.65,408.09 L210.77,407.48 L210.89,406.87 L211.01,406.26 L211.13,405.65 L211.25,405.04 L211.37,404.42 L211.49,403.81 L211.61,403.19 L211.72,402.57 L211.84,401.95 L211.96,401.32 L212.08,400.70 L212.19,400.08 L212.31,399.45 L212.43,398.82 L212.54,398.19 L212.66,397.56 L212.77,396.93 L212.89,396.30 L213.01,395.67 L213.12,395.03 L213.24,394.40 L213.35,393.76 L213.47,393.13 L213.59,392.49 L213.71,391.85 L213.82,391.21 L213.94,390.57 L214.06,389.93 L214.18,389.29 L214.30,388.65 L214.42,388.00 L214.54,387.36 L214.66,386.72 L214.78,386.07 L214.90,385.43 L215.02,384.78 L215.14,384.14 L215.27,383.49 L215.39,382.84 L215.52,382.20 L215.64,381.55 L215.77,380.90 L215.90,380.25 L216.03,379.61 L216.16,378.96 L216.29,378.31 L216.42,377.66 L216.56,377.02 L216.69,376.37 L216.83,375.72 L216.96,375.07 L217.10,374.42 L217.24,373.78 L217.38,373.13 L217.53,372.48 L217.67,371.84 L217.82,371.19 L217.96,370.54 L218.11,369.90 L218.26,369.25 L218.41,368.61 L218.57,367.96 L218.72,367.32 L218.88,366.68 L219.04,366.03 L219.20,365.39 L219.36,364.75 L219.53,364.11 L219.69,363.47 L219.86,362.83 L220.03,362.19 L220.21,361.56 L220.38,360.92 L220.56,360.28 L220.74,359.65 L220.92,359.01 L221.10,358.38 L221.29,357.75 L221.47,357.12 L221.66,356.49 L221.86,355.86 L222.05,355.23 L222.25,354.61 L222.45,353.98 L222.65,353.36 L222.86,352.74 L223.07,352.12 L223.28,351.50 L223.49,350.88 L223.71,350.26 L223.93,349.65 L224.15,349.04 L224.37,348.42 L224.60,347.81 L224.83,347.21 L225.06,346.60 L225.30,345.99 L225.54,345.39 L225.78,344.79 L226.03,344.19 L226.28,343.59 L226.53,343.00 L226.79,342.40 L227.04,341.81 L227.31,341.22 L227.57,340.63 L227.84,340.05 L228.11,339.47 L228.39,338.88 L228.67,338.31 L228.95,337.73 L229.24,337.15 L229.53,336.58 L229.82,336.01 L230.12,335.44 L230.42,334.88 L230.73,334.32 L231.03,333.76 L231.35,333.20 L231.66,332.64 L231.98,332.09 L232.31,331.54 L232.64,330.99 L232.97,330.45 L233.31,329.91 L233.65,329.37 L233.99,328.83 L234.34,328.30 L234.70,327.77 L235.05,327.24 L235.42,326.71 L235.78,326.19 L236.15,325.67 L236.53,325.16 L236.91,324.65 L237.29,324.14 L237.68,323.63 L238.07,323.13 L238.47,322.63 L238.87,322.13 L239.28,321.64 L239.69,321.15 L240.10,320.66 L240.52,320.17 L240.94,319.69 L241.36,319.22 L241.79,318.74 L242.22,318.27 L242.66,317.80 L243.10,317.34 L243.55,316.88 L244.00,316.42 L244.45,315.97 L244.90,315.52 L245.36,315.08 L245.83,314.63 L246.29,314.19 L246.76,313.76 L247.24,313.33 L247.72,312.90 L248.20,312.47 L248.68,312.05 L249.17,311.64 L249.66,311.22 L250.16,310.82 L250.66,310.41 L251.16,310.01 L251.66,309.61 L252.17,309.22 L252.68,308.83 L253.20,308.44 L253.71,308.06 L254.24,307.68 L254.76,307.31 L255.29,306.94 L255.82,306.57 L256.35,306.21 L256.89,305.86 L257.43,305.50 L257.97,305.15 L258.51,304.81 L259.06,304.47 L259.61,304.13 L260.16,303.80 L260.72,303.47 L261.28,303.15 L261.84,302.83 L262.40,302.52 L262.97,302.21 L263.54,301.90 L264.11,301.60 L264.69,301.30 L265.26,301.01 L265.84,300.72 L266.42,300.44 L267.01,300.16 L267.59,299.89 L268.18,299.62 L268.77,299.35 L269.37,299.09 L269.96,298.84 L270.56,298.59 L271.16,298.34 L271.76,298.10 L272.37,297.87 L272.98,297.63 L273.58,297.41 L274.19,297.19 L274.81,296.97 L275.42,296.76 L276.04,296.55 L276.66,296.35 L277.28,296.15 L277.90,295.95 L278.52,295.76 L279.15,295.57 L279.77,295.39 L280.40,295.21 L281.03,295.04 L281.66,294.87 L282.29,294.70 L282.93,294.54 L283.56,294.38 L284.20,294.22 L284.84,294.07 L285.48,293.92 L286.12,293.77 L286.76,293.63 L287.40,293.49 L288.04,293.35 L288.69,293.21 L289.33,293.08 L289.98,292.95 L290.62,292.83 L291.27,292.70 L291.92,292.58 L292.57,292.46 L293.22,292.34 L293.87,292.23 L294.52,292.12 L295.17,292.01 L295.82,291.90 L296.47,291.79 L297.13,291.69 L297.78,291.58 L298.43,291.48 L299.08,291.38 L299.74,291.28 L300.39,291.19 L301.04,291.09 L301.70,291.00 L302.35,290.90 L303.00,290.81 L303.66,290.72 L304.31,290.63 L304.96,290.54 L305.62,290.45 L306.27,290.36 L306.92,290.27 L307.57,290.19 L308.23,290.10 L308.88,290.01 L309.53,289.93 L310.18,289.84 L310.83,289.76 L311.47,289.67 L312.12,289.59 L312.77,289.50 L313.42,289.41 L314.06,289.33 L314.71,289.24 L315.35,289.15 L315.99,289.06 L316.63,288.97 L317.27,288.89 L317.91,288.79 L318.55,288.70 L319.19,288.61 L319.82,288.52 L320.46,288.42 L321.09,288.33 L321.72,288.23 L322.36,288.13 L322.98,288.03 L323.61,287.93 L324.24,287.83 L324.86,287.72 L325.48,287.62 L326.11,287.51 L326.72,287.40 L327.34,287.29 L327.96,287.17 L328.57,287.05 L329.18,286.93 L329.79,286.81 L330.40,286.69" stroke="#2a2a2a" stroke-width="1.15" fill="none" stroke-dasharray="1.1 2.0"/>
<path d="M218.32,407.24 L218.92,406.93 L219.52,406.62 L220.11,406.30 L220.69,405.97 L221.27,405.64 L221.85,405.31 L222.42,404.96 L222.98,404.61 L223.54,404.26 L224.10,403.90 L224.65,403.54 L225.20,403.17 L225.74,402.79 L226.28,402.41 L226.81,402.02 L227.34,401.63 L227.87,401.24 L228.39,400.84 L228.91,400.43 L229.42,400.02 L229.93,399.61 L230.44,399.19 L230.94,398.76 L231.44,398.34 L231.94,397.90 L232.43,397.47 L232.92,397.03 L233.41,396.59 L233.89,396.14 L234.37,395.69 L234.84,395.23 L235.32,394.78 L235.79,394.31 L236.25,393.85 L236.72,393.38 L237.18,392.91 L237.64,392.44 L238.09,391.96 L238.54,391.48 L239.00,391.00 L239.44,390.51 L239.89,390.02 L240.33,389.53 L240.77,389.04 L241.21,388.55 L241.65,388.05 L242.08,387.55 L242.51,387.05 L242.94,386.55 L243.37,386.04 L243.80,385.53 L244.22,385.03 L244.65,384.52 L245.07,384.00 L245.49,383.49 L245.91,382.98 L246.32,382.46 L246.74,381.95 L247.15,381.43 L247.57,380.91 L247.98,380.39 L248.39,379.87 L248.80,379.35 L249.21,378.83 L249.61,378.31 L250.02,377.78 L250.42,377.26 L250.83,376.73 L251.23,376.21 L251.63,375.68 L252.03,375.15 L252.43,374.62 L252.82,374.09 L253.22,373.56 L253.61,373.03 L254.01,372.49 L254.40,371.96 L254.79,371.43 L255.18,370.89 L255.57,370.35 L255.96,369.82 L256.34,369.28 L256.73,368.74 L257.11,368.20 L257.50,367.66 L257.88,367.12 L258.26,366.58 L258.64,366.04 L259.02,365.49 L259.40,364.95 L259.78,364.40 L260.15,363.86 L260.53,363.31 L260.90,362.76 L261.28,362.22 L261.65,361.67 L262.02,361.12 L262.39,360.57 L262.76,360.02 L263.13,359.47 L263.50,358.91 L263.86,358.36 L264.23,357.81 L264.59,357.25 L264.96,356.70 L265.32,356.14 L265.68,355.59 L266.05,355.03 L266.41,354.47 L266.77,353.92 L267.13,353.36 L267.48,352.80 L267.84,352.24 L268.20,351.68 L268.55,351.12 L268.91,350.56 L269.26,349.99 L269.62,349.43 L269.97,348.87 L270.32,348.30 L270.67,347.74 L271.02,347.18 L271.37,346.61 L271.72,346.04 L272.07,345.48 L272.42,344.91 L272.77,344.34 L273.11,343.78 L273.46,343.21 L273.80,342.64 L274.15,342.07 L274.49,341.50 L274.83,340.93 L275.18,340.36 L275.52,339.79 L275.86,339.22 L276.20,338.64 L276.54,338.07 L276.88,337.50 L277.22,336.93 L277.56,336.35 L277.90,335.78 L278.23,335.20 L278.57,334.63 L278.91,334.05 L279.24,333.48 L279.58,332.90 L279.91,332.33 L280.25,331.75 L280.58,331.17 L280.92,330.60 L281.25,330.02 L281.58,329.44 L281.91,328.86 L282.25,328.28 L282.58,327.71 L282.91,327.13 L283.24,326.55 L283.57,325.97 L283.90,325.39 L284.23,324.81 L284.56,324.23 L284.89,323.65 L285.22,323.07 L285.54,322.49 L285.87,321.90 L286.20,321.32 L286.53,320.74 L286.85,320.16 L287.18,319.58 L287.51,319.00 L287.83,318.41 L288.16,317.83 L288.49,317.25 L288.81,316.67 L289.14,316.08 L289.46,315.50 L289.79,314.92 L290.11,314.33 L290.44,313.75 L290.76,313.17 L291.08,312.58 L291.41,312.00 L291.73,311.41 L292.06,310.83 L292.38,310.25 L292.70,309.66 L293.03,309.08 L293.35,308.49 L293.67,307.91 L293.99,307.33 L294.32,306.74 L294.64,306.16 L294.96,305.57 L295.29,304.99 L295.61,304.40 L295.93,303.82 L296.25,303.23 L296.58,302.65 L296.90,302.07 L297.22,301.48 L297.55,300.90 L297.87,300.31 L298.19,299.73 L298.51,299.15 L298.84,298.56 L299.16,297.98 L299.48,297.39 L299.81,296.81 L300.13,296.23 L300.45,295.64 L300.78,295.06 L301.10,294.48 L301.42,293.89 L301.75,293.31 L302.07,292.73 L302.40,292.14 L302.72,291.56 L303.04,290.98 L303.37,290.40 L303.69,289.81 L304.02,289.23 L304.34,288.65 L304.67,288.07 L305.00,287.49 L305.32,286.91 L305.65,286.33 L305.97,285.74 L306.30,285.16 L306.63,284.58 L306.96,284.00 L307.28,283.42 L307.61,282.84 L307.94,282.27 L308.27,281.69 L308.60,281.11 L308.93,280.53 L309.26,279.95 L309.59,279.37 L309.92,278.80 L310.25,278.22 L310.58,277.64 L310.91,277.07 L311.24,276.49 L311.57,275.91 L311.91,275.34 L312.24,274.76 L312.57,274.19 L312.91,273.62 L313.24,273.04 L313.58,272.47 L313.91,271.89 L314.25,271.32 L314.59,270.75 L314.92,270.18 L315.26,269.61 L315.60,269.04 L315.94,268.47 L316.28,267.89 L316.62,267.33 L316.96,266.76 L317.30,266.19 L317.64,265.62 L317.98,265.05 L318.32,264.48 L318.67,263.92 L319.01,263.35 L319.36,262.79 L319.70,262.22 L320.05,261.66 L320.39,261.09 L320.74,260.53 L321.09,259.96 L321.44,259.40 L321.79,258.84 L322.14,258.28 L322.49,257.72 L322.84,257.16 L323.19,256.60 L323.54,256.04 L323.90,255.48 L324.25,254.92 L324.61,254.37 L324.96,253.81 L325.32,253.25 L325.68,252.70 L326.03,252.14 L326.39,251.59 L326.75,251.04 L327.11,250.48 L327.48,249.93 L327.84,249.38 L328.20,248.83 L328.57,248.28 L328.93,247.73 L329.30,247.18 L329.66,246.63 L330.03,246.09 L330.40,245.54" stroke="#2a2a2a" stroke-width="1.15" fill="none" stroke-dasharray="1.1 2.0"/>
<path d="M210.40,409.30 L210.51,408.68 L210.63,408.06 L210.74,407.44 L210.85,406.82 L210.96,406.20 L211.07,405.57 L211.19,404.95 L211.30,404.32 L211.41,403.69 L211.52,403.06 L211.63,402.43 L211.74,401.80 L211.85,401.17 L211.96,400.53 L212.07,399.90 L212.18,399.26 L212.29,398.63 L212.40,397.99 L212.51,397.35 L212.62,396.71 L212.73,396.07 L212.84,395.43 L212.95,394.78 L213.06,394.14 L213.18,393.49 L213.29,392.85 L213.40,392.20 L213.51,391.56 L213.63,390.91 L213.74,390.26 L213.86,389.61 L213.97,388.96 L214.09,388.32 L214.20,387.67 L214.32,387.01 L214.44,386.36 L214.56,385.71 L214.68,385.06 L214.80,384.41 L214.92,383.76 L215.04,383.10 L215.17,382.45 L215.29,381.80 L215.41,381.14 L215.54,380.49 L215.67,379.84 L215.80,379.18 L215.93,378.53 L216.06,377.88 L216.19,377.22 L216.32,376.57 L216.46,375.92 L216.59,375.26 L216.73,374.61 L216.87,373.96 L217.01,373.30 L217.15,372.65 L217.29,372.00 L217.44,371.35 L217.58,370.69 L217.73,370.04 L217.88,369.39 L218.03,368.74 L218.18,368.09 L218.34,367.44 L218.49,366.79 L218.65,366.14 L218.81,365.49 L218.97,364.85 L219.14,364.20 L219.30,363.55 L219.47,362.91 L219.64,362.26 L219.81,361.62 L219.98,360.98 L220.16,360.33 L220.34,359.69 L220.52,359.05 L220.70,358.41 L220.89,357.77 L221.07,357.13 L221.26,356.50 L221.45,355.86 L221.65,355.23 L221.84,354.59 L222.04,353.96 L222.24,353.33 L222.45,352.70 L222.66,352.07 L222.87,351.44 L223.08,350.82 L223.29,350.19 L223.51,349.57 L223.73,348.95 L223.95,348.33 L224.18,347.71 L224.41,347.09 L224.64,346.47 L224.87,345.86 L225.11,345.25 L225.35,344.63 L225.59,344.02 L225.84,343.42 L226.09,342.81 L226.34,342.20 L226.60,341.60 L226.86,341.00 L227.12,340.40 L227.39,339.80 L227.66,339.21 L227.93,338.61 L228.20,338.02 L228.48,337.43 L228.77,336.85 L229.05,336.26 L229.34,335.68 L229.64,335.10 L229.93,334.52 L230.23,333.94 L230.54,333.36 L230.85,332.79 L231.16,332.22 L231.47,331.65 L231.79,331.09 L232.12,330.53 L232.44,329.96 L232.77,329.41 L233.11,328.85 L233.45,328.30 L233.79,327.75 L234.14,327.20 L234.49,326.65 L234.84,326.11 L235.20,325.57 L235.57,325.03 L235.93,324.50 L236.31,323.96 L236.68,323.43 L237.06,322.91 L237.44,322.38 L237.83,321.86 L238.22,321.34 L238.62,320.83 L239.02,320.32 L239.42,319.81 L239.83,319.30 L240.24,318.80 L240.66,318.30 L241.08,317.80 L241.50,317.31 L241.92,316.82 L242.35,316.33 L242.79,315.85 L243.23,315.37 L243.67,314.89 L244.11,314.42 L244.56,313.95 L245.01,313.48 L245.47,313.02 L245.93,312.56 L246.39,312.10 L246.86,311.65 L247.33,311.20 L247.80,310.75 L248.27,310.31 L248.75,309.87 L249.24,309.44 L249.72,309.01 L250.21,308.58 L250.71,308.16 L251.20,307.74 L251.70,307.32 L252.21,306.91 L252.71,306.51 L253.22,306.10 L253.74,305.70 L254.25,305.31 L254.77,304.92 L255.29,304.53 L255.82,304.15 L256.35,303.77 L256.88,303.40 L257.41,303.03 L257.95,302.66 L258.49,302.30 L259.03,301.94 L259.58,301.59 L260.13,301.24 L260.68,300.90 L261.23,300.56 L261.79,300.22 L262.35,299.89 L262.91,299.57 L263.48,299.25 L264.05,298.93 L264.62,298.62 L265.19,298.31 L265.77,298.01 L266.35,297.71 L266.93,297.42 L267.52,297.13 L268.10,296.85 L268.69,296.57 L269.28,296.30 L269.88,296.03 L270.48,295.77 L271.07,295.51 L271.68,295.26 L272.28,295.01 L272.89,294.77 L273.50,294.53 L274.11,294.30 L274.72,294.07 L275.34,293.85 L275.95,293.63 L276.57,293.42 L277.20,293.21 L277.82,293.01 L278.45,292.81 L279.07,292.62 L279.70,292.43 L280.34,292.24 L280.97,292.06 L281.60,291.89 L282.24,291.71 L282.88,291.55 L283.52,291.38 L284.16,291.22 L284.80,291.06 L285.45,290.91 L286.09,290.76 L286.74,290.61 L287.39,290.47 L288.04,290.33 L288.69,290.20 L289.34,290.06 L289.99,289.93 L290.64,289.81 L291.30,289.68 L291.95,289.56 L292.61,289.45 L293.27,289.33 L293.92,289.22 L294.58,289.11 L295.24,289.00 L295.90,288.90 L296.56,288.80 L297.22,288.70 L297.88,288.60 L298.55,288.50 L299.21,288.41 L299.87,288.32 L300.53,288.23 L301.19,288.14 L301.86,288.05 L302.52,287.97 L303.18,287.88 L303.85,287.80 L304.51,287.72 L305.17,287.64 L305.83,287.57 L306.50,287.49 L307.16,287.41 L307.82,287.34 L308.48,287.27 L309.14,287.19 L309.80,287.12 L310.46,287.05 L311.12,286.98 L311.78,286.91 L312.44,286.84 L313.10,286.77 L313.76,286.70 L314.41,286.63 L315.07,286.56 L315.72,286.50 L316.37,286.43 L317.03,286.36 L317.68,286.29 L318.33,286.22 L318.98,286.15 L319.62,286.08 L320.27,286.01 L320.92,285.94 L321.56,285.87 L322.20,285.80 L322.84,285.72 L323.48,285.65 L324.12,285.58 L324.76,285.50 L325.39,285.42 L326.02,285.34 L326.65,285.27 L327.28,285.18 L327.91,285.10 L328.54,285.02 L329.16,284.93 L329.78,284.85 L330.40,284.76" stroke="#161616" stroke-width="0.92" fill="none"/>
<path d="M218.33,407.24 L218.95,406.89 L219.57,406.54 L220.19,406.18 L220.80,405.82 L221.40,405.44 L222.00,405.07 L222.60,404.68 L223.18,404.29 L223.77,403.90 L224.35,403.50 L224.92,403.09 L225.49,402.68 L226.06,402.26 L226.62,401.84 L227.18,401.41 L227.73,400.98 L228.28,400.54 L228.82,400.09 L229.36,399.65 L229.90,399.19 L230.43,398.73 L230.95,398.27 L231.48,397.81 L232.00,397.33 L232.51,396.86 L233.02,396.38 L233.53,395.90 L234.04,395.41 L234.54,394.92 L235.03,394.42 L235.53,393.93 L236.02,393.42 L236.51,392.92 L236.99,392.41 L237.47,391.90 L237.95,391.38 L238.43,390.86 L238.90,390.34 L239.37,389.82 L239.83,389.29 L240.30,388.76 L240.76,388.23 L241.22,387.70 L241.67,387.16 L242.13,386.62 L242.58,386.08 L243.03,385.54 L243.48,384.99 L243.92,384.45 L244.36,383.90 L244.80,383.35 L245.24,382.80 L245.68,382.24 L246.11,381.69 L246.55,381.13 L246.98,380.58 L247.41,380.02 L247.84,379.46 L248.26,378.90 L248.69,378.34 L249.11,377.77 L249.53,377.21 L249.95,376.64 L250.37,376.08 L250.78,375.51 L251.20,374.94 L251.61,374.37 L252.02,373.80 L252.43,373.23 L252.84,372.65 L253.25,372.08 L253.65,371.50 L254.06,370.93 L254.46,370.35 L254.86,369.77 L255.26,369.19 L255.65,368.61 L256.05,368.02 L256.44,367.44 L256.84,366.86 L257.23,366.27 L257.62,365.68 L258.01,365.10 L258.39,364.51 L258.78,363.92 L259.16,363.33 L259.55,362.74 L259.93,362.14 L260.31,361.55 L260.69,360.96 L261.07,360.36 L261.44,359.76 L261.82,359.17 L262.19,358.57 L262.56,357.97 L262.94,357.37 L263.31,356.77 L263.67,356.17 L264.04,355.57 L264.41,354.96 L264.77,354.36 L265.14,353.75 L265.50,353.15 L265.86,352.54 L266.22,351.93 L266.58,351.32 L266.94,350.72 L267.30,350.11 L267.66,349.49 L268.01,348.88 L268.36,348.27 L268.72,347.66 L269.07,347.04 L269.42,346.43 L269.77,345.82 L270.12,345.20 L270.47,344.58 L270.81,343.97 L271.16,343.35 L271.51,342.73 L271.85,342.11 L272.19,341.49 L272.53,340.87 L272.88,340.25 L273.22,339.63 L273.56,339.00 L273.90,338.38 L274.23,337.76 L274.57,337.13 L274.91,336.51 L275.24,335.88 L275.58,335.26 L275.91,334.63 L276.24,334.01 L276.58,333.38 L276.91,332.75 L277.24,332.12 L277.57,331.49 L277.90,330.86 L278.23,330.23 L278.56,329.60 L278.88,328.97 L279.21,328.34 L279.54,327.71 L279.86,327.08 L280.19,326.44 L280.51,325.81 L280.83,325.18 L281.16,324.54 L281.48,323.91 L281.80,323.28 L282.12,322.64 L282.44,322.00 L282.76,321.37 L283.08,320.73 L283.40,320.10 L283.72,319.46 L284.04,318.82 L284.36,318.19 L284.68,317.55 L284.99,316.91 L285.31,316.27 L285.63,315.63 L285.94,315.00 L286.26,314.36 L286.57,313.72 L286.89,313.08 L287.20,312.44 L287.52,311.80 L287.83,311.16 L288.15,310.52 L288.46,309.88 L288.77,309.24 L289.08,308.60 L289.40,307.96 L289.71,307.32 L290.02,306.67 L290.33,306.03 L290.65,305.39 L290.96,304.75 L291.27,304.11 L291.58,303.47 L291.89,302.82 L292.20,302.18 L292.51,301.54 L292.82,300.90 L293.13,300.26 L293.44,299.62 L293.75,298.97 L294.07,298.33 L294.38,297.69 L294.69,297.05 L295.00,296.41 L295.31,295.76 L295.62,295.12 L295.93,294.48 L296.24,293.84 L296.55,293.20 L296.86,292.55 L297.17,291.91 L297.48,291.27 L297.79,290.63 L298.10,289.99 L298.41,289.35 L298.72,288.71 L299.03,288.07 L299.35,287.42 L299.66,286.78 L299.97,286.14 L300.28,285.50 L300.59,284.86 L300.91,284.22 L301.22,283.58 L301.53,282.94 L301.85,282.30 L302.16,281.67 L302.47,281.03 L302.79,280.39 L303.10,279.75 L303.42,279.11 L303.73,278.47 L304.05,277.84 L304.36,277.20 L304.68,276.56 L304.99,275.93 L305.31,275.29 L305.63,274.65 L305.95,274.02 L306.26,273.38 L306.58,272.75 L306.90,272.11 L307.22,271.48 L307.54,270.85 L307.86,270.21 L308.18,269.58 L308.51,268.95 L308.83,268.31 L309.15,267.68 L309.47,267.05 L309.80,266.42 L310.12,265.79 L310.45,265.16 L310.77,264.53 L311.10,263.90 L311.43,263.27 L311.75,262.65 L312.08,262.02 L312.41,261.39 L312.74,260.77 L313.07,260.14 L313.40,259.52 L313.74,258.89 L314.07,258.27 L314.40,257.64 L314.74,257.02 L315.07,256.40 L315.41,255.78 L315.74,255.16 L316.08,254.54 L316.42,253.92 L316.76,253.30 L317.10,252.68 L317.44,252.06 L317.78,251.45 L318.12,250.83 L318.47,250.21 L318.81,249.60 L319.16,248.98 L319.50,248.37 L319.85,247.76 L320.20,247.15 L320.55,246.54 L320.90,245.92 L321.25,245.32 L321.60,244.71 L321.96,244.10 L322.31,243.49 L322.67,242.88 L323.02,242.28 L323.38,241.67 L323.74,241.07 L324.10,240.47 L324.46,239.86 L324.82,239.26 L325.18,238.66 L325.55,238.06 L325.92,237.46 L326.28,236.87 L326.65,236.27 L327.02,235.67 L327.39,235.08 L327.76,234.48 L328.13,233.89 L328.51,233.30 L328.88,232.71 L329.26,232.12 L329.64,231.53 L330.02,230.94 L330.40,230.35" stroke="#161616" stroke-width="0.92" fill="none"/>
<path d="M210.40,409.30 L210.51,408.67 L210.61,408.03 L210.72,407.40 L210.83,406.76 L210.93,406.13 L211.04,405.49 L211.15,404.85 L211.25,404.20 L211.36,403.56 L211.46,402.92 L211.57,402.27 L211.68,401.62 L211.79,400.98 L211.89,400.33 L212.00,399.68 L212.11,399.03 L212.22,398.37 L212.33,397.72 L212.44,397.07 L212.54,396.41 L212.66,395.76 L212.77,395.10 L212.88,394.44 L212.99,393.78 L213.10,393.12 L213.21,392.46 L213.33,391.80 L213.44,391.14 L213.56,390.48 L213.67,389.82 L213.79,389.15 L213.91,388.49 L214.03,387.83 L214.15,387.16 L214.27,386.50 L214.39,385.83 L214.51,385.16 L214.64,384.50 L214.76,383.83 L214.89,383.17 L215.01,382.50 L215.14,381.83 L215.27,381.16 L215.40,380.50 L215.53,379.83 L215.67,379.16 L215.80,378.49 L215.94,377.83 L216.07,377.16 L216.21,376.49 L216.35,375.83 L216.49,375.16 L216.64,374.49 L216.78,373.82 L216.93,373.16 L217.08,372.49 L217.23,371.83 L217.38,371.16 L217.53,370.50 L217.69,369.83 L217.84,369.17 L218.00,368.50 L218.16,367.84 L218.32,367.18 L218.49,366.52 L218.65,365.85 L218.82,365.19 L218.99,364.53 L219.16,363.88 L219.34,363.22 L219.51,362.56 L219.69,361.90 L219.87,361.25 L220.06,360.59 L220.24,359.94 L220.43,359.28 L220.62,358.63 L220.81,357.98 L221.00,357.33 L221.20,356.68 L221.40,356.03 L221.60,355.39 L221.81,354.74 L222.01,354.10 L222.22,353.46 L222.44,352.81 L222.65,352.17 L222.87,351.53 L223.09,350.90 L223.31,350.26 L223.54,349.63 L223.76,348.99 L223.99,348.36 L224.23,347.73 L224.47,347.10 L224.71,346.48 L224.95,345.85 L225.19,345.23 L225.44,344.61 L225.69,343.99 L225.95,343.37 L226.21,342.75 L226.47,342.14 L226.73,341.53 L227.00,340.92 L227.27,340.31 L227.55,339.70 L227.82,339.10 L228.11,338.50 L228.39,337.90 L228.68,337.30 L228.97,336.70 L229.26,336.11 L229.56,335.52 L229.86,334.93 L230.17,334.35 L230.48,333.76 L230.79,333.18 L231.11,332.60 L231.43,332.02 L231.75,331.45 L232.08,330.88 L232.41,330.31 L232.74,329.74 L233.08,329.18 L233.42,328.62 L233.77,328.06 L234.12,327.50 L234.48,326.95 L234.84,326.40 L235.20,325.85 L235.57,325.31 L235.94,324.77 L236.31,324.23 L236.69,323.69 L237.07,323.16 L237.46,322.63 L237.85,322.10 L238.24,321.58 L238.64,321.05 L239.05,320.54 L239.45,320.02 L239.86,319.51 L240.27,319.00 L240.69,318.49 L241.11,317.99 L241.54,317.48 L241.96,316.99 L242.40,316.49 L242.83,316.00 L243.27,315.51 L243.71,315.02 L244.16,314.54 L244.61,314.06 L245.06,313.58 L245.52,313.10 L245.97,312.63 L246.44,312.16 L246.90,311.70 L247.37,311.23 L247.85,310.77 L248.32,310.31 L248.80,309.86 L249.28,309.41 L249.77,308.96 L250.26,308.51 L250.75,308.07 L251.24,307.63 L251.74,307.20 L252.24,306.76 L252.74,306.33 L253.25,305.90 L253.76,305.48 L254.27,305.06 L254.79,304.64 L255.30,304.22 L255.83,303.81 L256.35,303.40 L256.88,302.99 L257.40,302.59 L257.94,302.19 L258.47,301.79 L259.01,301.40 L259.55,301.00 L260.09,300.62 L260.63,300.23 L261.18,299.85 L261.73,299.47 L262.28,299.09 L262.84,298.72 L263.40,298.35 L263.96,297.98 L264.52,297.62 L265.08,297.25 L265.65,296.90 L266.22,296.54 L266.79,296.19 L267.36,295.84 L267.94,295.49 L268.52,295.15 L269.10,294.81 L269.68,294.48 L270.26,294.14 L270.85,293.81 L271.44,293.48 L272.03,293.16 L272.62,292.84 L273.22,292.52 L273.81,292.21 L274.41,291.89 L275.01,291.58 L275.61,291.28 L276.22,290.97 L276.82,290.67 L277.43,290.38 L278.04,290.08 L278.65,289.79 L279.26,289.50 L279.87,289.21 L280.49,288.93 L281.10,288.65 L281.72,288.37 L282.34,288.09 L282.96,287.82 L283.58,287.55 L284.21,287.28 L284.83,287.01 L285.46,286.75 L286.08,286.49 L286.71,286.23 L287.34,285.97 L287.97,285.71 L288.60,285.46 L289.23,285.21 L289.86,284.96 L290.50,284.71 L291.13,284.46 L291.77,284.22 L292.40,283.98 L293.04,283.74 L293.68,283.50 L294.31,283.26 L294.95,283.03 L295.59,282.79 L296.23,282.56 L296.87,282.33 L297.51,282.10 L298.15,281.87 L298.79,281.65 L299.43,281.42 L300.07,281.20 L300.72,280.98 L301.36,280.76 L302.00,280.54 L302.64,280.32 L303.28,280.10 L303.93,279.88 L304.57,279.67 L305.21,279.45 L305.85,279.24 L306.49,279.03 L307.14,278.82 L307.78,278.61 L308.42,278.40 L309.06,278.19 L309.70,277.98 L310.34,277.77 L310.98,277.56 L311.62,277.36 L312.26,277.15 L312.90,276.95 L313.54,276.74 L314.17,276.54 L314.81,276.33 L315.45,276.13 L316.08,275.92 L316.72,275.72 L317.35,275.52 L317.98,275.31 L318.61,275.11 L319.24,274.91 L319.87,274.71 L320.50,274.50 L321.13,274.30 L321.76,274.10 L322.38,273.89 L323.01,273.69 L323.63,273.49 L324.25,273.28 L324.88,273.08 L325.50,272.88 L326.11,272.67 L326.73,272.47 L327.35,272.26 L327.96,272.05 L328.57,271.85 L329.18,271.64 L329.79,271.43 L330.40,271.22" stroke="#1e1e1e" stroke-width="1.15" fill="none"/>
<path d="M218.33,407.24 L218.94,406.90 L219.55,406.55 L220.16,406.20 L220.76,405.84 L221.36,405.47 L221.95,405.10 L222.54,404.72 L223.13,404.34 L223.70,403.95 L224.28,403.56 L224.85,403.16 L225.41,402.76 L225.97,402.35 L226.53,401.93 L227.08,401.51 L227.63,401.09 L228.17,400.66 L228.71,400.23 L229.25,399.79 L229.78,399.35 L230.31,398.90 L230.83,398.45 L231.35,397.99 L231.87,397.53 L232.38,397.07 L232.89,396.60 L233.40,396.13 L233.90,395.65 L234.40,395.17 L234.90,394.69 L235.39,394.20 L235.88,393.71 L236.37,393.22 L236.85,392.72 L237.33,392.22 L237.81,391.72 L238.28,391.21 L238.75,390.71 L239.22,390.19 L239.69,389.68 L240.15,389.16 L240.61,388.64 L241.07,388.12 L241.53,387.60 L241.98,387.07 L242.43,386.54 L242.88,386.01 L243.33,385.48 L243.77,384.95 L244.22,384.41 L244.66,383.87 L245.10,383.33 L245.53,382.79 L245.97,382.25 L246.40,381.71 L246.83,381.16 L247.26,380.62 L247.69,380.07 L248.12,379.52 L248.54,378.97 L248.96,378.42 L249.39,377.87 L249.81,377.31 L250.22,376.76 L250.64,376.20 L251.05,375.65 L251.47,375.09 L251.88,374.53 L252.29,373.97 L252.70,373.41 L253.10,372.84 L253.51,372.28 L253.91,371.72 L254.32,371.15 L254.72,370.58 L255.12,370.01 L255.51,369.44 L255.91,368.87 L256.31,368.30 L256.70,367.73 L257.09,367.16 L257.48,366.58 L257.87,366.01 L258.26,365.43 L258.65,364.85 L259.03,364.27 L259.42,363.69 L259.80,363.11 L260.18,362.53 L260.56,361.95 L260.94,361.37 L261.32,360.78 L261.69,360.20 L262.07,359.61 L262.44,359.02 L262.81,358.43 L263.18,357.85 L263.55,357.26 L263.92,356.67 L264.29,356.07 L264.66,355.48 L265.02,354.89 L265.39,354.29 L265.75,353.70 L266.11,353.10 L266.47,352.51 L266.83,351.91 L267.19,351.31 L267.55,350.71 L267.90,350.11 L268.26,349.51 L268.61,348.91 L268.97,348.31 L269.32,347.71 L269.67,347.11 L270.02,346.50 L270.37,345.90 L270.72,345.29 L271.06,344.68 L271.41,344.08 L271.76,343.47 L272.10,342.86 L272.44,342.25 L272.79,341.64 L273.13,341.03 L273.47,340.42 L273.81,339.81 L274.15,339.20 L274.49,338.59 L274.83,337.98 L275.16,337.36 L275.50,336.75 L275.83,336.13 L276.17,335.52 L276.50,334.90 L276.84,334.29 L277.17,333.67 L277.50,333.05 L277.83,332.43 L278.16,331.82 L278.49,331.20 L278.82,330.58 L279.15,329.96 L279.47,329.34 L279.80,328.72 L280.13,328.10 L280.45,327.48 L280.78,326.85 L281.10,326.23 L281.43,325.61 L281.75,324.99 L282.07,324.36 L282.40,323.74 L282.72,323.11 L283.04,322.49 L283.36,321.87 L283.68,321.24 L284.00,320.61 L284.32,319.99 L284.64,319.36 L284.96,318.74 L285.28,318.11 L285.59,317.48 L285.91,316.86 L286.23,316.23 L286.55,315.60 L286.86,314.97 L287.18,314.34 L287.49,313.72 L287.81,313.09 L288.12,312.46 L288.44,311.83 L288.75,311.20 L289.07,310.57 L289.38,309.94 L289.70,309.31 L290.01,308.68 L290.32,308.05 L290.64,307.42 L290.95,306.79 L291.26,306.16 L291.57,305.53 L291.89,304.90 L292.20,304.27 L292.51,303.64 L292.82,303.01 L293.13,302.38 L293.45,301.75 L293.76,301.12 L294.07,300.49 L294.38,299.86 L294.69,299.23 L295.00,298.59 L295.32,297.96 L295.63,297.33 L295.94,296.70 L296.25,296.07 L296.56,295.44 L296.87,294.81 L297.19,294.18 L297.50,293.55 L297.81,292.92 L298.12,292.29 L298.43,291.66 L298.75,291.03 L299.06,290.40 L299.37,289.77 L299.68,289.14 L300.00,288.51 L300.31,287.88 L300.62,287.25 L300.93,286.62 L301.25,285.99 L301.56,285.37 L301.88,284.74 L302.19,284.11 L302.51,283.48 L302.82,282.85 L303.14,282.23 L303.45,281.60 L303.77,280.97 L304.08,280.35 L304.40,279.72 L304.72,279.09 L305.03,278.47 L305.35,277.84 L305.67,277.22 L305.99,276.59 L306.31,275.97 L306.62,275.34 L306.94,274.72 L307.26,274.10 L307.58,273.47 L307.91,272.85 L308.23,272.23 L308.55,271.61 L308.87,270.99 L309.20,270.37 L309.52,269.75 L309.84,269.13 L310.17,268.51 L310.49,267.89 L310.82,267.27 L311.15,266.65 L311.47,266.03 L311.80,265.42 L312.13,264.80 L312.46,264.18 L312.79,263.57 L313.12,262.95 L313.45,262.34 L313.78,261.72 L314.11,261.11 L314.45,260.50 L314.78,259.89 L315.12,259.27 L315.45,258.66 L315.79,258.05 L316.12,257.44 L316.46,256.83 L316.80,256.22 L317.14,255.62 L317.48,255.01 L317.82,254.40 L318.16,253.80 L318.51,253.19 L318.85,252.59 L319.20,251.98 L319.54,251.38 L319.89,250.78 L320.24,250.18 L320.58,249.58 L320.93,248.98 L321.28,248.38 L321.64,247.78 L321.99,247.18 L322.34,246.58 L322.70,245.99 L323.05,245.39 L323.41,244.80 L323.77,244.20 L324.13,243.61 L324.48,243.02 L324.85,242.43 L325.21,241.84 L325.57,241.25 L325.94,240.66 L326.30,240.07 L326.67,239.48 L327.04,238.90 L327.40,238.31 L327.77,237.73 L328.15,237.15 L328.52,236.56 L328.89,235.98 L329.27,235.40 L329.64,234.82 L330.02,234.24 L330.40,233.67" stroke="#1e1e1e" stroke-width="1.15" fill="none"/>
</g>
<line x1="225.40" y1="395.30" x2="225.40" y2="406.30" stroke="#808080" stroke-width="0.9"/>
<path d="M224.40,404.70 L226.40,404.70 L225.40,409.30 Z" fill="#1a1a1a"/>
<line x1="271.96" y1="395.30" x2="271.96" y2="406.30" stroke="#3c3c3c" stroke-width="0.9"/>
<path d="M270.46,404.70 L273.46,404.70 L271.96,409.30 Z" fill="#1a1a1a"/>
<rect x="210.40" y="229.80" width="120.00" height="179.50" fill="none" stroke="#3a3a3a" stroke-width="1.0"/>
<path d="M210.40,395.49h2.6M330.40,395.49h-2.6M210.40,381.68h2.6M330.40,381.68h-2.6M210.40,367.88h2.6M330.40,367.88h-2.6M210.40,354.07h2.6M330.40,354.07h-2.6M210.40,340.26h2.6M330.40,340.26h-2.6M210.40,326.45h2.6M330.40,326.45h-2.6M210.40,312.65h2.6M330.40,312.65h-2.6M210.40,298.84h2.6M330.40,298.84h-2.6M210.40,285.03h2.6M330.40,285.03h-2.6M210.40,271.22h2.6M330.40,271.22h-2.6M210.40,257.42h2.6M330.40,257.42h-2.6M210.40,243.61h2.6M330.40,243.61h-2.6M222.40,409.30v-2.6M222.40,229.80v2.6M234.40,409.30v-2.6M234.40,229.80v2.6M246.40,409.30v-2.6M246.40,229.80v2.6M258.40,409.30v-2.6M258.40,229.80v2.6M270.40,409.30v-2.6M270.40,229.80v2.6M282.40,409.30v-2.6M282.40,229.80v2.6M294.40,409.30v-2.6M294.40,229.80v2.6M306.40,409.30v-2.6M306.40,229.80v2.6M318.40,409.30v-2.6M318.40,229.80v2.6" stroke="#3a3a3a" stroke-width="0.85" fill="none"/>
<g font-size="7.2" fill="#1a1a1a" stroke="#1a1a1a" stroke-width="0.22"><text x="204.50" y="411.60" text-anchor="end">0</text><text x="204.50" y="397.79" text-anchor="end">1</text><text x="204.50" y="383.98" text-anchor="end">2</text><text x="204.50" y="370.18" text-anchor="end">3</text><text x="204.50" y="356.37" text-anchor="end">4</text><text x="204.50" y="342.56" text-anchor="end">5</text><text x="204.50" y="328.75" text-anchor="end">6</text><text x="204.50" y="314.95" text-anchor="end">7</text><text x="204.50" y="301.14" text-anchor="end">8</text><text x="204.50" y="287.33" text-anchor="end">9</text><text x="204.50" y="273.52" text-anchor="end">10</text><text x="204.50" y="259.72" text-anchor="end">11</text><text x="204.50" y="245.91" text-anchor="end">12</text><text x="204.50" y="232.10" text-anchor="end">13</text><text x="211.40" y="421.00" text-anchor="middle">0</text><text x="223.40" y="421.00" text-anchor="middle">1</text><text x="235.40" y="421.00" text-anchor="middle">2</text><text x="247.40" y="421.00" text-anchor="middle">3</text><text x="259.40" y="421.00" text-anchor="middle">4</text><text x="271.40" y="421.00" text-anchor="middle">5</text><text x="283.40" y="421.00" text-anchor="middle">6</text><text x="295.40" y="421.00" text-anchor="middle">7</text><text x="307.40" y="421.00" text-anchor="middle">8</text><text x="319.40" y="421.00" text-anchor="middle">9</text><text x="331.40" y="421.00" text-anchor="middle">10</text></g>
<text x="260.40" y="435.30" font-size="7.5" textLength="19.8" lengthAdjust="spacingAndGlyphs" fill="#1a1a1a" stroke="#1a1a1a" stroke-width="0.18">r [kpc]</text>
<text transform="translate(191.60,363.70) rotate(-90)" font-size="7.20" textLength="54.8" lengthAdjust="spacingAndGlyphs" fill="#1a1a1a" stroke="#1a1a1a" stroke-width="0.18">Cumulative mass</text>
<text transform="translate(191.60,307.50) rotate(-90)" font-size="7.20"  fill="#1a1a1a" stroke="#1a1a1a" stroke-width="0.18">[</text>
<text transform="translate(191.60,304.60) rotate(-90)" font-size="7.20" textLength="6.9" lengthAdjust="spacingAndGlyphs" fill="#1a1a1a" stroke="#1a1a1a" stroke-width="0.18">10</text>
<text transform="translate(189.10,297.10) rotate(-90)" font-size="5.40" textLength="5.6" lengthAdjust="spacingAndGlyphs" fill="#1a1a1a" stroke="#1a1a1a" stroke-width="0.18">10</text>
<text transform="translate(191.60,289.80) rotate(-90)" font-size="7.20" font-style="italic" textLength="6.0" lengthAdjust="spacingAndGlyphs" fill="#1a1a1a" stroke="#1a1a1a" stroke-width="0.18">M</text>
<circle cx="190.10" cy="280.70" r="1.75" fill="none" stroke="#2a2a2a" stroke-width="0.6"/><circle cx="190.10" cy="280.70" r="0.55" fill="#222"/>
<text transform="translate(191.60,278.20) rotate(-90)" font-size="7.20"  fill="#1a1a1a" stroke="#1a1a1a" stroke-width="0.18">]</text>
<text x="216.60" y="240.90" font-size="7.3" textLength="30.2" lengthAdjust="spacingAndGlyphs" fill="#1a1a1a" stroke="#1a1a1a" stroke-width="0.18">1A10Csm</text>
<text x="216.60" y="312.80" font-size="7.3" textLength="19.3" lengthAdjust="spacingAndGlyphs" fill="#1a1a1a" stroke="#1a1a1a" stroke-width="0.18">stellar</text>
<text x="277.00" y="375.90" font-size="7.2" textLength="11.3" lengthAdjust="spacingAndGlyphs" fill="#1a1a1a" stroke="#1a1a1a" stroke-width="0.18">DM</text>
</svg>
</body></html>
